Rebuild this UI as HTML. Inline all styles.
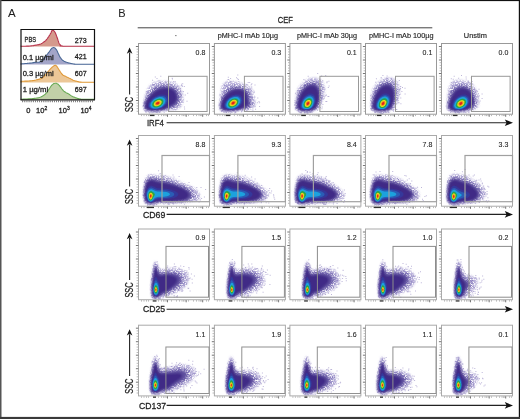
<!DOCTYPE html><html><head><meta charset="utf-8"><style>html,body{margin:0;padding:0;background:#fff;width:520px;height:419px;overflow:hidden}svg{display:block;will-change:transform}text{stroke:#1e1e1e;stroke-width:0.28px;fill:#1e1e1e}</style></head><body>
<svg width="520" height="419" viewBox="0 0 520 419" font-family="Liberation Sans, sans-serif">
<defs><filter id="soft" x="-10%" y="-10%" width="120%" height="120%"><feGaussianBlur stdDeviation="0.45"/></filter><filter id="grain" x="-10%" y="-10%" width="120%" height="120%"><feGaussianBlur in="SourceGraphic" stdDeviation="0.9" result="b"/><feTurbulence type="fractalNoise" baseFrequency="0.85" numOctaves="2" seed="7" result="n"/><feColorMatrix in="n" type="matrix" values="0 0 0 0 0  0 0 0 0 0  0 0 0 0 0  3.2 0 0 0 -0.9" result="m"/><feComposite in="b" in2="m" operator="in"/></filter><filter id="soft2" x="-10%" y="-10%" width="120%" height="120%"><feGaussianBlur stdDeviation="0.8"/></filter><marker id="ah" viewBox="0 0 10 10" refX="9" refY="5" markerWidth="10" markerHeight="10" markerUnits="userSpaceOnUse" orient="auto"><path d="M0 0L10 5L0 10L2.5 5Z" fill="#111"/></marker></defs>
<rect width="520" height="419" fill="#fff"/>
<g transform="translate(138.5 43.5)">
<g filter="url(#grain)">
<path d="M17.7 68 12.3 68 8 67.4 6 66.7 5.4 66 5.1 65.3 4.9 63 5.1 59.7 5.6 56.3 6.3 52.7 7.3 49.4 8.3 46.9 9.7 44.3 11 42.4 13.1 40.3 15.7 38.8 18.3 37.9 21.3 37.5 27 37.8 33 38.6 36.7 39.8 39.3 41.4 41.2 43.3 42.6 45.7 43.9 49 44.5 52.3 44.7 55.3 44.3 58.3 43.4 61 42 63.3 41 64.3 40 65 37.3 65.8 29.3 66.5 22.7 67.5Z" fill="#b3abd8" fill-rule="evenodd"/>
<path d="M20.3 67.4 15.7 67.6 11.3 67.4 7.7 66.7 6.7 66.3 6 65.7 5.6 64.3 5.5 62.7 5.7 60 6.2 57.7 7.3 54.4 9.7 50.6 12.3 46.9 14.7 44.5 17 42.9 20 41.7 24.3 41 29.7 41 33.7 41.8 35.3 42.5 36.7 43.2 38.4 44.7 39.9 46.7 41 49 41.7 51.7 42 54.3 41.8 56.7 41.2 59 40.2 61 38.3 63 37.3 63.7 35.9 64.3 24 66.8Z" fill="#7f73b8" fill-rule="evenodd"/>
</g><g filter="url(#soft2)">
<path d="M16.3 67.3 12 67.2 8.3 66.5 7.3 66.1 6.7 65.7 6.1 64.3 6 62.7 6.2 60.3 6.6 58.3 7.3 56.7 9.1 53.7 13 49.1 15.7 46.6 18 45 20.7 43.8 24 43 28 42.8 31.3 43.1 34.3 44.1 36.7 45.8 38 47.3 39.1 49.3 39.8 51.3 40.1 53.7 40.1 55.7 39.6 57.7 38.9 59.3 37.7 61 36.3 62.1 34.7 63 26.3 65.9 21.7 66.9Z" fill="#5e4f9f" fill-rule="evenodd"/>
<path d="M18.3 67 14.7 67.1 11 66.8 8.1 66 7.3 65.5 6.9 65 6.6 64 6.5 62.7 7 59.4 8 57 10 54.2 13 51 16 48.5 19 46.6 22 45.4 25.7 44.7 29.3 44.7 31 44.9 32.7 45.5 35 46.9 36.1 48 37.1 49.7 37.8 51.3 38.1 53 38.2 54.7 37.9 56.3 37.3 58 36.4 59.3 35.4 60.3 34 61.3 27 65.2 25 65.9 22.7 66.5Z" fill="#402c86" fill-rule="evenodd"/>
</g><g filter="url(#soft)">
<path d="M17.7 66 15 66 12.7 65.7 11 65.1 10.2 64.3 9.6 63 9.6 61.3 10.3 59.3 11.5 57.3 13.3 55.3 15.3 53.8 17.7 52.4 20 51.5 22.3 51 24.7 51 26.7 51.4 28.3 52.2 29.1 53 29.7 54 30.1 56 29.5 58.3 28.1 60.7 25.9 63 23.7 64.6 21 65.5Z" fill="#35379a" fill-rule="evenodd"/>
<path d="M19 65.4 16.7 65.6 14.7 65.4 12.8 65 11.7 64.3 11 63.3 10.8 62 11 60.3 11.8 58.7 13 57 14.7 55.5 16.7 54.1 18.7 53.2 21 52.6 23 52.4 24.7 52.6 26.3 53.2 27.5 54.3 28.2 56 28.1 58 27.2 60 25.6 62 23.6 63.7 21.3 64.8Z" fill="#2b5db5" fill-rule="evenodd"/>
<path d="M19.3 64.7 17.3 65 15.7 64.9 14.3 64.7 13 64 12.3 63 12 61.7 12.2 60.3 12.8 59 13.7 57.7 15.1 56.3 16.7 55.2 18.3 54.4 20.3 53.8 22 53.6 23.7 53.8 25 54.3 26.2 55.3 26.7 56.7 26.7 58 26.1 59.7 25 61.3 23.3 62.9 21.5 64Z" fill="#1fa2dd" fill-rule="evenodd"/>
<path d="M19.3 63.7 17.7 64 16.3 63.9 15.3 63.6 14.4 63 13.9 62.3 13.7 61.3 13.8 60.3 14.2 59.3 14.8 58.3 15.8 57.3 17 56.5 18.3 55.8 21 55.1 22.3 55.2 23.3 55.6 24.3 56.3 24.8 57.3 24.9 58.3 24.5 59.7 23.6 61 22.3 62.2 21 63Z" fill="#2aa546" fill-rule="evenodd"/>
<path d="M18.7 62.7 17 62.7 15.7 62 15.3 61.3 15.3 60.7 15.7 59.3 17 57.9 19 56.8 21 56.5 22.3 57 23 57.7 23.2 58.3 23 59.3 22.7 60.1 22 61 21 61.8 19.9 62.3Z" fill="#ebe01d" fill-rule="evenodd"/>
<path d="M19.3 61.7 18 61.9 17 61.6 16.7 61.3 16.4 60.7 16.6 59.7 17.3 58.7 18.7 57.8 20 57.5 21.2 57.7 21.9 58.3 22 59 21.8 59.7 20.7 61Z" fill="#f2921f" fill-rule="evenodd"/>
<path d="M19 61 18.2 61 17.6 60.7 17.5 60 17.8 59.3 18.6 58.7 19.3 58.4 20 58.4 20.7 58.7 20.9 59.3 20.6 60 19.9 60.7Z" fill="#e2231f" fill-rule="evenodd"/>
</g>
</g>
<path transform="translate(138.5 43.5)" d="M37 65.8h1v1h-1zM42.3 41.5h1v1h-1zM25.2 68.3h1v1h-1zM43.7 39.7h1v1h-1zM15.6 68h1v1h-1zM5 58.1h1v1h-1zM48.7 49.3h1v1h-1zM7.6 47.8h1v1h-1zM17 68.6h1v1h-1zM18.3 67.9h1v1h-1zM42.7 50.5h1v1h-1zM5.9 56.1h1v1h-1zM37.7 43.6h1v1h-1zM36 65.7h1v1h-1zM14.1 68.1h1v1h-1zM20.3 68.4h1v1h-1zM48 57.2h1v1h-1zM41.4 47.2h1v1h-1zM45.3 42.6h1v1h-1zM15.9 44h1v1h-1zM44.3 47.4h1v1h-1zM45.4 63.1h1v1h-1zM46.3 51.1h1v1h-1zM14.6 68.2h1v1h-1zM20.1 67.8h1v1h-1zM21.8 32.3h1v1h-1zM28.4 66.1h1v1h-1zM4.9 58.8h1v1h-1zM42.6 51.7h1v1h-1zM16.6 67.8h1v1h-1zM4.2 62.3h1v1h-1zM17 67.8h1v1h-1zM22.7 41.6h1v1h-1zM13.6 36.2h1v1h-1zM21.7 41.5h1v1h-1zM15.1 40.4h1v1h-1zM41.5 46.2h1v1h-1zM9.5 67.8h1v1h-1zM43.3 42.6h1v1h-1zM18.7 41.6h1v1h-1zM30.2 66.9h1v1h-1zM25.1 66.8h1v1h-1zM13.2 68.7h1v1h-1zM34.8 37.5h1v1h-1zM17.8 68.6h1v1h-1zM39 63.3h1v1h-1zM13.9 40.6h1v1h-1zM16.3 33.1h1v1h-1zM43.2 41.7h1v1h-1zM26.8 38h1v1h-1zM33 67.2h1v1h-1zM15 67.8h1v1h-1zM42.4 54.1h1v1h-1zM7.2 68.2h1v1h-1zM19.9 36.6h1v1h-1zM10.5 68.9h1v1h-1zM21.1 38.3h1v1h-1zM36.3 37.7h1v1h-1zM20.9 68.2h1v1h-1zM18 67.7h1v1h-1zM41.2 49.7h1v1h-1zM9.6 51.6h1v1h-1zM41.6 44.7h1v1h-1zM33.1 41.3h1v1h-1zM18.7 68.7h1v1h-1zM14.8 67.9h1v1h-1zM5.7 66.7h1v1h-1zM5.5 60h1v1h-1zM4.5 61.6h1v1h-1zM44.1 58.3h1v1h-1zM7.1 51.6h1v1h-1zM21 38.7h1v1h-1zM18 34.6h1v1h-1zM6.4 67.8h1v1h-1zM44.3 56.1h1v1h-1zM27.6 41.6h1v1h-1zM33.2 34.3h1v1h-1zM39 43h1v1h-1zM17.3 67.9h1v1h-1zM41.7 51.3h1v1h-1zM28.9 40.9h1v1h-1zM45.6 65h1v1h-1zM17.4 67.7h1v1h-1zM8.6 48h1v1h-1zM18 67.7h1v1h-1zM9.3 51.5h1v1h-1zM27.3 67h1v1h-1zM11.1 68.3h1v1h-1zM12.4 68h1v1h-1zM8.1 49.6h1v1h-1zM41.8 62.7h1v1h-1zM29.1 66.4h1v1h-1zM33.5 34.9h1v1h-1zM44.1 58.3h1v1h-1zM7.1 67.7h1v1h-1zM34.6 65.7h1v1h-1zM42.6 40.3h1v1h-1z" fill="#5a48a0" fill-opacity="0.4"/>
<g transform="translate(214.4 43.5)">
<g filter="url(#grain)">
<path d="M18 68 13 68.1 10 67.8 7.3 67.3 6.3 66.9 5.6 66.3 5.1 65.3 5 64.3 4.9 61.7 5.3 57.7 6.8 46 7.5 42.7 8.6 40.7 10 39.3 12 38.2 14.7 37.5 16.7 37.4 19 37.7 29.3 40.2 33 41.5 35.5 43 37.1 44.7 38.1 46.7 38.6 48.3 39.3 53 40.9 57.3 41.3 59 41.1 61 40.3 63 39.1 64.3 37.3 65.4 33.7 66.2Z" fill="#b3abd8" fill-rule="evenodd"/>
<path d="M20.3 67.3 16.3 67.6 12 67.5 8 66.8 7 66.5 6.3 66 5.9 65.3 5.6 64 5.7 60 6.5 55.7 7.8 52 9.5 48.7 11.3 46 13.3 44.2 15.3 43.1 18.3 42.4 22.7 42.4 27.3 42.9 30.7 43.9 32.1 44.7 33.4 45.7 34.5 47 35.2 48.3 35.7 50 36.5 54.3 38.1 58.7 38.2 60.3 37.9 61.7 37.3 62.7 36.4 63.7 35.3 64.4 33.9 65 31.7 65.5Z" fill="#7f73b8" fill-rule="evenodd"/>
</g><g filter="url(#soft2)">
<path d="M17 67.3 13 67.3 9.7 66.9 7.7 66.3 7 65.9 6.5 65.3 6.2 64.3 6.1 63 6.5 59 7.3 56 9 52.9 11.1 50 13.3 47.7 15.7 46.1 18 45.1 21.3 44.5 25 44.5 28.3 45.1 30.7 46.2 31.7 47 32.6 48 33.4 49.3 33.9 50.7 34.7 55 35.9 59.3 35.9 60.7 35.3 62 34.7 62.8 33.7 63.6 31.2 64.7 22.3 66.8Z" fill="#5e4f9f" fill-rule="evenodd"/>
<path d="M18.3 67 14.7 67.1 11.3 66.8 8.7 66.2 7.2 65.3 6.7 64 6.7 61.3 7.2 58.7 8.2 56.3 10 53.6 12.3 50.9 14.7 49 17.3 47.4 20.3 46.5 23.3 46.1 26.3 46.4 29 47.3 30.3 48.3 31.3 49.3 32 50.7 32.5 52 33.5 58.7 33.5 60 33 61.3 32.2 62.3 31 63.2 27.4 65 23.3 66.3Z" fill="#402c86" fill-rule="evenodd"/>
</g><g filter="url(#soft)">
<path d="M17.7 66 15.3 66.1 13 65.8 11.5 65.3 10.3 64.5 9.8 63.3 9.7 61.7 10.1 59.7 10.9 58 12.3 56 14 54.3 16 52.9 18 51.8 20 51.2 22 50.9 24 51.1 25.7 51.7 26.6 52.3 27.3 53.2 27.9 54.3 28.2 55.3 28.3 56.7 28.2 58 27.3 60.3 25.6 62.7 23.3 64.4 20.7 65.5Z" fill="#35379a" fill-rule="evenodd"/>
<path d="M19 65.3 17 65.6 15 65.5 13.3 65.2 12 64.6 11.2 63.7 10.9 62.3 10.9 61 11.4 59.3 12.3 57.7 13.6 56 15.3 54.5 17 53.5 19 52.7 21 52.2 22.7 52.3 24.3 52.7 25.7 53.7 26.7 55.3 27 57.3 26.5 59.3 25.4 61.3 23.4 63.3 21.3 64.6Z" fill="#2b5db5" fill-rule="evenodd"/>
<path d="M16.7 65 15.3 64.9 14 64.6 13 64 12.3 63.1 12 62 12.1 60.7 12.5 59.3 13.2 58 14.3 56.7 15.4 55.7 16.7 54.8 18.3 53.9 20 53.5 21.3 53.4 22.7 53.5 24 54.1 25.2 55.3 25.7 57 25.5 58.7 24.6 60.7 23.3 62.3 21.3 63.8 19.1 64.7Z" fill="#1fa2dd" fill-rule="evenodd"/>
<path d="M18.7 63.7 17.3 63.9 16 63.9 15 63.5 14.3 63.1 13.8 62.3 13.6 61.3 13.7 60.3 14 59.3 15.4 57.3 16.3 56.5 17.7 55.6 20 54.9 21.3 54.9 22.3 55.2 23.3 55.9 23.9 57 24 58.3 23.6 59.7 22.8 61 21.7 62.2 20.3 63.1Z" fill="#2aa546" fill-rule="evenodd"/>
<path d="M18 62.7 16.3 62.5 15.3 61.7 15.1 60.3 15.6 59 16.7 57.7 18.3 56.6 20 56.3 21 56.4 21.6 56.7 22.2 57.3 22.5 58 22.4 59 22 60 21.3 61 20.3 61.8 19.3 62.3Z" fill="#ebe01d" fill-rule="evenodd"/>
<path d="M18.7 61.7 17.7 61.8 16.7 61.5 16.2 60.7 16.3 59.7 16.9 58.7 18 57.7 19.3 57.3 20.4 57.3 21.2 58 21.4 58.7 21.3 59.3 20.3 60.8Z" fill="#f2921f" fill-rule="evenodd"/>
<path d="M19 60.8 18.3 60.9 17.7 60.8 17.2 60.3 17.2 59.7 17.6 59 18.3 58.4 19 58.2 19.7 58.2 20.3 58.7 20.3 59.3 20 60Z" fill="#e2231f" fill-rule="evenodd"/>
</g>
</g>
<path transform="translate(214.4 43.5)" d="M5 63.4h1v1h-1zM7.4 53h1v1h-1zM32 40.4h1v1h-1zM27.8 42.5h1v1h-1zM18.3 43.4h1v1h-1zM13.1 35.5h1v1h-1zM39.2 47.2h1v1h-1zM10.2 48.7h1v1h-1zM34 45.1h1v1h-1zM24 37.6h1v1h-1zM20.8 68.6h1v1h-1zM20 40.6h1v1h-1zM15.4 38.9h1v1h-1zM6.3 67.3h1v1h-1zM37.9 60.7h1v1h-1zM7.4 66.8h1v1h-1zM10.1 48.7h1v1h-1zM35.9 50h1v1h-1zM13.4 33.2h1v1h-1zM38.3 58.8h1v1h-1zM5 50.9h1v1h-1zM36.3 55h1v1h-1zM29 42.3h1v1h-1zM23.9 42.5h1v1h-1zM27.4 67.1h1v1h-1zM5.9 62.1h1v1h-1zM34.2 44.9h1v1h-1zM9.9 68.2h1v1h-1zM19.4 41.9h1v1h-1zM13.6 67.9h1v1h-1zM10.1 48.7h1v1h-1zM35.6 45.6h1v1h-1zM21.6 33.7h1v1h-1zM42.9 53.9h1v1h-1zM10.4 67.6h1v1h-1zM23 67.2h1v1h-1zM13.3 44.8h1v1h-1zM6.9 67.4h1v1h-1zM11.9 67.8h1v1h-1zM9.1 45.4h1v1h-1zM39.2 58.9h1v1h-1zM23.5 35.5h1v1h-1zM22.7 34.7h1v1h-1zM20.5 67.9h1v1h-1zM38 66.3h1v1h-1zM36.4 40.8h1v1h-1zM16.4 42.3h1v1h-1zM9.4 45.9h1v1h-1zM40.1 40.9h1v1h-1zM9.8 41.4h1v1h-1zM20.7 67.7h1v1h-1zM39.9 53h1v1h-1zM40.7 65.2h1v1h-1zM16.1 37.5h1v1h-1zM36.8 42.9h1v1h-1zM15.7 34.4h1v1h-1zM9.7 67.8h1v1h-1zM36.5 46.1h1v1h-1zM26.6 67.8h1v1h-1zM11.3 39h1v1h-1zM36 53.8h1v1h-1zM12 42.7h1v1h-1zM25.3 41.9h1v1h-1zM4 60.9h1v1h-1zM11.3 68.5h1v1h-1zM29.5 66.1h1v1h-1zM15 67.8h1v1h-1zM11.7 68.5h1v1h-1zM20.7 42.9h1v1h-1zM39.9 62.7h1v1h-1zM42.8 58.7h1v1h-1zM16.9 68.2h1v1h-1zM33.2 65.5h1v1h-1zM6.9 56.3h1v1h-1zM33.3 38.6h1v1h-1zM11.5 68.5h1v1h-1zM44.1 57.6h1v1h-1zM6.8 54.2h1v1h-1zM22.9 30.9h1v1h-1zM37.6 53.8h1v1h-1zM30.5 42h1v1h-1zM8.6 68.1h1v1h-1zM5.7 64.9h1v1h-1zM40.1 62.5h1v1h-1zM44.7 58.8h1v1h-1zM15.5 69.2h1v1h-1zM5.3 64.4h1v1h-1zM44.7 62.6h1v1h-1zM34.8 38.5h1v1h-1zM32.1 66.4h1v1h-1zM19.9 68.9h1v1h-1zM39.2 48.4h1v1h-1zM37 39.8h1v1h-1zM13.8 35.4h1v1h-1z" fill="#5a48a0" fill-opacity="0.4"/>
<g transform="translate(289.9 43.5)">
<g filter="url(#grain)">
<path d="M17.3 68.3 13.3 68.3 10 67.8 7 66.9 6.2 66.3 5.8 65.7 5.4 63.3 5.6 57.7 6.1 52 6.9 48 8.1 45 10.1 42 12.7 39.2 15.7 36.9 18.7 35.3 21.7 34.4 24.7 34.2 27.3 34.6 29.7 35.7 31.7 37.3 33.2 39.3 34.2 41.7 34.7 44.3 34.8 47 34.4 50 33.5 54 32.2 58 30.8 61.3 29.5 63.7 28.1 65.3 26.3 66.4 24 67.2 21 67.9Z" fill="#b3abd8" fill-rule="evenodd"/>
<path d="M19.3 67.7 16 67.9 12.7 67.8 9.3 67.1 8 66.6 7 65.9 6.3 64.7 6.2 62.7 6.4 58.7 7 54.7 7.9 51 9.3 47.7 11.2 44.7 13.7 41.9 16.3 39.8 19.3 38.2 22.3 37.6 25 37.7 27 38.4 28.7 39.5 30 41 31.1 43 31.6 45 31.9 47.7 31.8 50.7 31.3 54.3 30.5 57.7 29.6 60.3 28.5 62.7 27.2 64.7 26.1 65.7 24.3 66.5 22 67.2Z" fill="#7f73b8" fill-rule="evenodd"/>
</g><g filter="url(#soft2)">
<path d="M19.7 67.4 16.3 67.7 13 67.5 10 66.9 8 66 7.3 65.3 6.9 64 6.8 61.7 7.1 59 7.9 55 9.4 51 11.1 47.7 13.3 44.7 15.7 42.4 18.3 40.8 21 39.9 23.7 39.8 25.3 40.3 27 41.2 28.3 42.6 29.3 44.3 29.9 46.3 30.3 49 30.3 52.3 30 55.3 29.4 58 28.5 60.7 27.4 63 26.3 64.7 25.3 65.5 24 66.3 22 66.9Z" fill="#5e4f9f" fill-rule="evenodd"/>
<path d="M17.7 67.3 15 67.4 12.3 67.1 10 66.6 8.4 65.7 7.7 64.7 7.5 63.3 7.6 61 7.9 58.7 8.9 55.3 10.4 51.7 12.3 48.4 14.3 45.9 16.3 44.1 18.7 42.7 21 42 23.3 42.1 25 42.7 26.3 43.8 27.3 45.1 28.2 47 28.9 49.7 29.1 52.3 29.1 55 28.6 58 27.9 60.3 27 62.3 26.1 64 25 65.2 24 65.8 22.3 66.5 19.7 67.1Z" fill="#402c86" fill-rule="evenodd"/>
</g><g filter="url(#soft)">
<path d="M17.7 66.4 14 66.3 12.3 65.8 11.3 65.3 10.6 64.3 10.3 63.3 10.3 61.7 10.6 60 11.2 58 12.2 56 13.6 54 15 52.5 16.7 51.2 18.3 50.3 20 50 21.7 50.1 22.7 50.4 23.7 51.1 24.5 52 25.3 53.3 25.8 56 25.8 57.7 25.5 59.3 24.3 62.3 23.5 63.7 22.5 64.7 20.7 65.7Z" fill="#35379a" fill-rule="evenodd"/>
<path d="M16.3 66 14.7 65.9 13.3 65.6 12.3 65 11.7 64.3 11.4 63.3 11.3 62 11.5 60.3 12 58.7 12.8 57 13.9 55.3 15 54.1 16.3 53 17.7 52.2 19 51.8 20.3 51.6 21.7 51.9 22.7 52.4 23.4 53 24.1 54 24.5 55 24.8 56.3 24.8 57.7 24.1 60.7 22.9 63 21.3 64.7 19.1 65.7Z" fill="#2b5db5" fill-rule="evenodd"/>
<path d="M18 65.4 15.3 65.4 14 65.1 13.3 64.7 12.7 64 12.3 63 12.3 61.7 12.4 60.3 12.8 59 13.6 57.3 14.6 56 15.7 54.9 17 53.9 18.3 53.3 19.7 53 20.7 53.1 21.7 53.4 22.3 53.9 23.3 55.2 23.8 57 23.6 59.3 22.8 61.7 21.4 63.7 20 64.7Z" fill="#1fa2dd" fill-rule="evenodd"/>
<path d="M18.3 64.4 16.3 64.6 15.3 64.4 14.6 64 14 63.3 13.7 62.7 13.7 60.7 14.5 58.3 16 56.3 18 55.1 19 54.8 20 54.8 21.2 55.3 22 56.3 22.4 57.7 22.4 59.3 21.8 61 21 62.4 19.7 63.7Z" fill="#2aa546" fill-rule="evenodd"/>
<path d="M17.7 63.4 16.3 63.3 15.3 62.7 14.9 61.3 15 60 15.8 58.3 17 57.1 18.3 56.4 19.7 56.4 20.3 56.8 21 57.7 21.2 58.7 21 60 20.4 61.3 19.7 62.2 18.7 63Z" fill="#ebe01d" fill-rule="evenodd"/>
<path d="M18 62.4 17 62.5 16.3 62.1 15.9 61.3 15.8 60.3 16.3 59 17 58.2 18 57.6 19 57.4 19.6 57.7 20 58.1 20.2 59 20.2 59.7 19.4 61.3 18.7 62Z" fill="#f2921f" fill-rule="evenodd"/>
<path d="M18 61.4 17.3 61.5 17 61.3 16.7 60.7 16.7 60 17.1 59.3 17.7 58.7 18.7 58.5 19.3 59 19.3 60 18.7 61Z" fill="#e2231f" fill-rule="evenodd"/>
</g>
</g>
<path transform="translate(289.9 43.5)" d="M17.1 69.1h1v1h-1zM29.6 36.3h1v1h-1zM10.3 45.9h1v1h-1zM7.4 48.7h1v1h-1zM31.5 64.8h1v1h-1zM31.3 54.2h1v1h-1zM36.7 37.7h1v1h-1zM31.4 47.3h1v1h-1zM15.3 41.5h1v1h-1zM14.3 41.4h1v1h-1zM38.7 41.9h1v1h-1zM15.9 68.4h1v1h-1zM31.8 63h1v1h-1zM16.6 37h1v1h-1zM4.6 60.5h1v1h-1zM4.5 61.2h1v1h-1zM31.3 32h1v1h-1zM32.5 43.7h1v1h-1zM31.1 55.1h1v1h-1zM31.7 52.2h1v1h-1zM31.1 59.1h1v1h-1zM6.7 59.1h1v1h-1zM5.1 49.2h1v1h-1zM38.4 52.6h1v1h-1zM16 68.7h1v1h-1zM21.5 68.5h1v1h-1zM34.5 52.3h1v1h-1zM38.5 37.2h1v1h-1zM32.3 36.8h1v1h-1zM7 55.9h1v1h-1zM4.6 56.7h1v1h-1zM36.5 38.7h1v1h-1zM11 68.5h1v1h-1zM34.6 45.2h1v1h-1zM15.9 40.3h1v1h-1zM28.8 39.1h1v1h-1zM16.6 68.3h1v1h-1zM20.7 35.3h1v1h-1zM37.6 52.5h1v1h-1zM27.3 29.5h1v1h-1zM15 40.6h1v1h-1zM7.2 54.2h1v1h-1zM5 64.9h1v1h-1zM8.3 67.7h1v1h-1zM16.3 68.5h1v1h-1zM5.8 63.8h1v1h-1zM30.8 56.8h1v1h-1zM17.8 32.2h1v1h-1zM29.8 40.3h1v1h-1zM10.6 46.5h1v1h-1zM13.8 41.2h1v1h-1zM6.5 58.7h1v1h-1zM35.5 51.5h1v1h-1zM35.9 51h1v1h-1zM27.7 63.7h1v1h-1zM19.9 68h1v1h-1zM5.6 59.3h1v1h-1zM25.3 38h1v1h-1zM15.7 40.2h1v1h-1zM9.1 68.1h1v1h-1zM31.4 42h1v1h-1zM30.4 39.9h1v1h-1zM36.4 57.6h1v1h-1zM32.7 55.3h1v1h-1zM10.2 68.5h1v1h-1zM33.6 43.5h1v1h-1zM20 68.3h1v1h-1zM6.5 56.4h1v1h-1zM4.5 58.6h1v1h-1zM28 38.4h1v1h-1zM18.4 68.7h1v1h-1zM9.6 68.2h1v1h-1zM17.4 69.5h1v1h-1zM15.3 41.3h1v1h-1zM16.5 69h1v1h-1zM10.9 69.1h1v1h-1zM5.1 63.6h1v1h-1zM13.5 35.4h1v1h-1zM11 68.2h1v1h-1zM27 66.3h1v1h-1zM7.5 66.1h1v1h-1zM17 68.7h1v1h-1zM11.9 43.8h1v1h-1zM19.3 37.9h1v1h-1zM16.7 39.4h1v1h-1zM33.8 54.1h1v1h-1zM8.1 46.1h1v1h-1zM18.7 68.5h1v1h-1zM7.7 50.7h1v1h-1zM10.2 68.5h1v1h-1zM35.3 31.6h1v1h-1zM7.1 46.6h1v1h-1zM21.5 67.4h1v1h-1zM10.3 69.1h1v1h-1zM32.5 60.5h1v1h-1zM5.8 59.1h1v1h-1zM6.4 64.3h1v1h-1zM29.9 63.6h1v1h-1zM20.1 68.4h1v1h-1zM14.6 68.7h1v1h-1zM32.2 54.1h1v1h-1zM7.7 53h1v1h-1zM32.7 52.6h1v1h-1zM17.1 37.2h1v1h-1zM35.5 57.6h1v1h-1zM14.3 68.2h1v1h-1zM13.9 69.1h1v1h-1zM29.8 35.3h1v1h-1zM33.8 54.3h1v1h-1zM30.6 32.5h1v1h-1zM37.9 43.6h1v1h-1zM17.5 69h1v1h-1z" fill="#5a48a0" fill-opacity="0.4"/>
<g transform="translate(365.5 43.5)">
<g filter="url(#grain)">
<path d="M17 68.3 12.7 68.3 9.3 67.8 6.7 66.8 6 66.3 5.6 65.7 5.4 64.7 5.3 63 5.5 57 6 51 6.8 47.3 7.8 44.7 9.7 41.8 12 39.3 15 36.9 18 35.3 21 34.4 24 34.2 26.7 34.6 29 35.6 31 37.2 32.6 39.3 33.6 41.7 34.1 44.3 34.2 47.3 33.8 50.7 32.8 54.7 31.5 58.7 30.2 61.7 28.9 64 27.8 65.3 26.3 66.2 23.7 67.2 20.7 67.9Z" fill="#b3abd8" fill-rule="evenodd"/>
<path d="M19 67.7 15.7 67.9 12.3 67.8 9 67.1 7.7 66.6 6.8 66 6.1 64.7 6 62.7 6.2 58.7 6.8 54.3 7.7 50.7 8.9 47.7 11 44.3 13.3 41.7 16 39.6 19 38.2 21.7 37.6 24.3 37.7 26.3 38.3 28 39.4 29.5 41 30.5 43 31.2 45.3 31.4 48 31.3 51 30.8 54.3 30.2 57.3 29.2 60.3 27.9 63 26.8 64.7 25.7 65.7 24 66.5 21.7 67.2Z" fill="#7f73b8" fill-rule="evenodd"/>
</g><g filter="url(#soft2)">
<path d="M19.3 67.4 16 67.7 12.7 67.5 9.7 66.9 7.7 66 7 65.3 6.6 64 6.6 61.7 6.9 58.7 7.8 54.3 9.1 50.7 10.8 47.3 12.8 44.7 15.3 42.3 18 40.7 20.7 39.8 23.3 39.8 25 40.3 26.7 41.4 28 42.9 28.9 44.7 29.5 46.7 29.8 49.3 29.9 52.3 29.6 55.3 28.9 58.3 28.1 60.7 27.1 63 25.9 64.7 25 65.5 23.7 66.2 21.7 66.9Z" fill="#5e4f9f" fill-rule="evenodd"/>
<path d="M17.3 67.3 14.7 67.4 12 67.2 9.7 66.6 8 65.7 7.4 64.7 7.2 63 7.3 60.7 7.7 58 8.8 54.7 10.2 51.3 12 48.3 14 45.8 16.3 43.7 18.7 42.5 21 42 23 42.1 24.7 42.8 26 43.9 27 45.3 27.9 47.3 28.5 50 28.7 52.7 28.6 55.3 28.2 58 26.8 62 25.9 63.7 24.8 65 23.7 65.8 22 66.5 19.3 67.1Z" fill="#402c86" fill-rule="evenodd"/>
</g><g filter="url(#soft)">
<path d="M17.3 66.3 13.7 66.3 12 65.9 11 65.3 10.3 64.6 9.9 63.3 9.9 61.7 10.2 60 10.8 58 11.8 56 13.2 54 14.7 52.4 16.3 51.1 18 50.3 19.7 49.9 21.3 50.1 22.3 50.4 23.3 51.1 24.1 52 24.9 53.3 25.3 54.7 25.5 56.3 25.1 59.3 23.9 62.3 23.1 63.7 22.1 64.7 21.2 65.3 20 65.8Z" fill="#35379a" fill-rule="evenodd"/>
<path d="M16 66 14.3 65.9 13 65.6 11.9 65 11.3 64.3 11 63.3 10.9 62 11.1 60.3 11.6 58.7 12.4 57 13.5 55.3 14.7 54 16 52.9 17.3 52.2 18.7 51.7 20 51.6 21.3 51.9 22.3 52.4 23 53 23.7 54 24.2 55.3 24.4 58 23.8 60.7 22.5 63 21 64.7 18.7 65.7Z" fill="#2b5db5" fill-rule="evenodd"/>
<path d="M17.7 65.4 15 65.5 13.7 65.1 12.9 64.7 12.3 64 12 63 11.9 61.7 12 60.3 12.6 58.7 13.2 57.3 14.2 56 15.3 54.8 16.7 53.8 18 53.3 19.3 53 20.3 53.1 21.3 53.5 22 53.9 23 55.3 23.4 57.3 23.2 59.3 22.4 61.7 21 63.6 19.7 64.7Z" fill="#1fa2dd" fill-rule="evenodd"/>
<path d="M17.7 64.4 15.7 64.6 14.8 64.3 14 63.8 13.6 63.3 13.3 62.3 13.3 60.3 14.3 58 15.7 56.3 17.7 55 18.7 54.8 19.7 54.8 20.8 55.3 21.6 56.3 22 57.7 22 59.3 21.4 61 20.4 62.7 19 63.9Z" fill="#2aa546" fill-rule="evenodd"/>
<path d="M17.3 63.4 16 63.4 15 62.7 14.5 61.7 14.6 60 15.4 58.3 16.7 57.1 18 56.4 19.3 56.5 20 56.9 20.6 57.7 20.8 58.7 20.6 60 20 61.3 19.3 62.2 18.3 63Z" fill="#ebe01d" fill-rule="evenodd"/>
<path d="M17.7 62.3 16.7 62.5 16 62.2 15.5 61.3 15.4 60.3 16 59 16.7 58.2 17.7 57.5 18.7 57.5 19.3 57.8 19.7 58.3 19.8 59.7 19 61.3Z" fill="#f2921f" fill-rule="evenodd"/>
<path d="M17.7 61.4 17 61.5 16.6 61.3 16.3 60.7 16.3 60 16.7 59.3 17.3 58.7 18.3 58.5 18.9 59 18.9 60 18.3 61Z" fill="#e2231f" fill-rule="evenodd"/>
</g>
</g>
<path transform="translate(365.5 43.5)" d="M34 50.2h1v1h-1zM25.6 34.8h1v1h-1zM32.2 56.5h1v1h-1zM5.6 65h1v1h-1zM14.8 69.3h1v1h-1zM13.5 68.5h1v1h-1zM9.7 68.4h1v1h-1zM12.2 68.3h1v1h-1zM16.8 38.2h1v1h-1zM28.4 39.7h1v1h-1zM8.8 67.2h1v1h-1zM14.3 69.2h1v1h-1zM36.5 43.6h1v1h-1zM19.8 67.7h1v1h-1zM10.1 67.6h1v1h-1zM15.4 69.6h1v1h-1zM16.9 31.5h1v1h-1zM15.1 69.2h1v1h-1zM21.2 34.5h1v1h-1zM28.1 63.6h1v1h-1zM5.4 66.1h1v1h-1zM22.4 67.6h1v1h-1zM4.7 51.7h1v1h-1zM5.7 65.2h1v1h-1zM33.8 45.4h1v1h-1zM19.2 68.3h1v1h-1zM20.6 36.2h1v1h-1zM9.7 38.2h1v1h-1zM27.6 67.2h1v1h-1zM10.8 67.8h1v1h-1zM19.2 68.4h1v1h-1zM34.4 44.6h1v1h-1zM15.1 68.2h1v1h-1zM6.7 52.1h1v1h-1zM9.1 45.2h1v1h-1zM22.6 68.6h1v1h-1zM23 68.5h1v1h-1zM13.3 68.6h1v1h-1zM31.6 51.9h1v1h-1zM15.2 34h1v1h-1zM21.1 31.9h1v1h-1zM39 44.2h1v1h-1zM32.4 46.8h1v1h-1zM25.9 65.7h1v1h-1zM31.2 44.9h1v1h-1zM34.9 59.8h1v1h-1zM22.1 67.7h1v1h-1zM10.4 34.8h1v1h-1zM34.7 42.5h1v1h-1zM15.3 68.4h1v1h-1zM31.1 48.5h1v1h-1zM9.8 46.2h1v1h-1zM31.7 54.1h1v1h-1zM14.3 69.1h1v1h-1zM29 62.2h1v1h-1zM33.3 36.5h1v1h-1zM30.6 44.4h1v1h-1zM16.2 39.9h1v1h-1zM33.1 50.7h1v1h-1zM25.4 38h1v1h-1zM14.9 68.4h1v1h-1zM33.8 45.9h1v1h-1zM8.1 45.4h1v1h-1zM28.6 38.8h1v1h-1zM8.8 68.6h1v1h-1zM19 68.6h1v1h-1zM6.1 66.3h1v1h-1zM31.3 55.9h1v1h-1zM29.8 65.5h1v1h-1zM33 58.7h1v1h-1zM17 38h1v1h-1zM15.3 69.6h1v1h-1zM32.2 58.8h1v1h-1zM27.6 66.1h1v1h-1zM4.6 56.7h1v1h-1zM30.8 59.7h1v1h-1zM17.7 68.3h1v1h-1zM5.5 62.3h1v1h-1zM12 69h1v1h-1zM5.7 56.7h1v1h-1zM15.2 33.5h1v1h-1zM30.8 65.5h1v1h-1zM15.6 41h1v1h-1zM35.9 47.5h1v1h-1zM5.5 54.3h1v1h-1zM13.9 38.1h1v1h-1zM32.1 54.5h1v1h-1zM20.8 68.6h1v1h-1zM30.9 55.2h1v1h-1zM26.6 65.9h1v1h-1zM5.2 54.7h1v1h-1zM16.1 69.5h1v1h-1zM11.7 68h1v1h-1zM20.8 34h1v1h-1zM17.4 35.9h1v1h-1zM27.8 65.6h1v1h-1zM5.4 61.8h1v1h-1zM21.3 38.2h1v1h-1zM4.9 64.6h1v1h-1zM9.8 67.7h1v1h-1zM16.9 69.5h1v1h-1zM27.5 63.7h1v1h-1zM14 68.9h1v1h-1zM13.8 68h1v1h-1zM39.1 50h1v1h-1zM6.4 59.1h1v1h-1zM17.5 68.8h1v1h-1zM18.4 39.2h1v1h-1zM34.8 54.1h1v1h-1z" fill="#5a48a0" fill-opacity="0.4"/>
<g transform="translate(441.5 43.5)">
<g filter="url(#grain)">
<path d="M20.7 68 15 68.3 10 67.7 7.7 67.2 6.7 66.7 5.9 66 5.5 65 5.4 60.7 5.9 53.3 6.7 47.2 7.5 43.7 8.8 41 10.7 38.8 13 37.3 15.3 36.6 17.3 36.4 19.3 36.5 24.3 37.7 26.7 38.6 28.7 39.6 30.3 40.7 31.7 41.8 33.6 44.3 34.8 47 37.2 58.3 37.4 60.3 37 62.3 36.1 64 34.7 65.2 31.7 66.2Z" fill="#b3abd8" fill-rule="evenodd"/>
<path d="M19.3 67.7 16.3 67.8 13.7 67.7 10.3 67.3 8 66.6 7 66 6.5 65.3 6.2 64.3 6.1 62.3 6.5 57.3 7.4 52.7 8.7 48.9 10.3 45.7 12.2 43.3 14.3 41.7 17 40.7 20 40.4 23.3 40.9 26.3 41.9 28.7 43.3 30.7 45.3 32.1 47.7 33.1 50.3 34.6 57.3 34.9 60 34.6 61.7 33.9 63 33 64.1 31.6 65 29.3 65.8 25 66.8Z" fill="#7f73b8" fill-rule="evenodd"/>
</g><g filter="url(#soft2)">
<path d="M20 67.4 17 67.6 14 67.5 11.3 67.1 9 66.5 7.7 65.8 7 65 6.8 64 6.7 62.3 7.2 58.7 8.2 54.7 9.8 50.7 11.8 47.3 13.7 45.2 15.7 43.9 18.3 42.9 21 42.7 23.7 43.1 26 44 28.3 45.5 30 47.3 31.2 49.3 32.2 52 33 56 33.3 59.3 33 61 32.5 62.3 31.4 63.7 30.3 64.5 28.6 65.3 26 66.2 23.3 66.9Z" fill="#5e4f9f" fill-rule="evenodd"/>
<path d="M20.7 67 18 67.3 14.7 67.3 12 66.9 10 66.5 8.7 65.8 7.8 65 7.5 64 7.4 62.7 7.8 59.7 8.8 56.3 10.5 52.7 12.7 49.2 14.7 47.1 16.7 45.8 19 45 21.3 44.8 23.7 45.2 25.7 45.9 27.7 47.2 29.3 48.9 30.5 50.7 31.4 53 31.9 55.7 32 58.3 31.8 60 31.3 61.7 30.4 63 29 64.3 27.7 65.1 25.7 65.9 23.3 66.6Z" fill="#402c86" fill-rule="evenodd"/>
</g><g filter="url(#soft)">
<path d="M20.3 66 18 66.3 15.7 66.3 13.6 66 12 65.4 11.1 64.7 10.8 64 10.6 62.7 10.8 61 11.5 58.7 12.7 56.7 14.3 54.7 16 53.2 18 51.9 20 51.2 22 50.9 23.7 51.1 25 51.6 26 52.2 26.9 53 27.5 54 28.3 56.3 28.1 59 27.1 61.3 25.3 63.7 24.3 64.5 23 65.2Z" fill="#35379a" fill-rule="evenodd"/>
<path d="M19.3 65.7 17.3 65.9 15.3 65.8 13.7 65.4 12.7 64.8 12 64 11.7 63 11.7 61.7 12.1 60 13.1 58 14.3 56.3 15.7 54.9 17.3 53.7 19 52.9 20.7 52.4 22.3 52.4 24 52.7 25.7 53.8 26.7 55.3 27.1 57.3 26.7 59.7 25.5 62 23.7 63.9 21.7 65.1Z" fill="#2b5db5" fill-rule="evenodd"/>
<path d="M18 65.3 16.3 65.3 15 65.1 14 64.7 13.3 64 12.9 63 12.8 61.7 13.1 60.3 13.8 58.7 14.7 57.3 15.9 56 17.3 54.9 18.7 54.2 20 53.8 21.7 53.6 23 53.8 24 54.2 25.2 55.3 25.9 57 25.9 58.7 25.2 60.7 23.8 62.7 22.3 64 20.3 64.9Z" fill="#1fa2dd" fill-rule="evenodd"/>
<path d="M18.7 64.4 17.3 64.4 16.3 64.3 15.6 64 14.8 63.3 14.5 62.7 14.3 61.7 14.8 59.7 15.5 58.3 16.3 57.4 18.3 55.9 19.3 55.5 20.7 55.2 21.7 55.2 22.7 55.5 23.7 56.2 24.3 57.3 24.4 58.7 23.9 60.3 23.1 61.7 21.7 63 20.3 63.8Z" fill="#2aa546" fill-rule="evenodd"/>
<path d="M19.3 63.1 17.7 63.2 17 63.1 16.4 62.7 15.8 61.7 15.9 60.3 16.7 58.8 18 57.5 19.7 56.7 21.3 56.7 22 57 22.7 57.8 22.9 58.7 22.8 59.7 22.3 60.7 21.6 61.7 20.7 62.4Z" fill="#ebe01d" fill-rule="evenodd"/>
<path d="M18.7 62.4 17.7 62.2 17 61.7 16.8 60.7 17.1 59.7 17.9 58.7 19 57.9 20 57.6 21 57.8 21.4 58 21.8 58.7 21.9 59.3 21.5 60.3 20.3 61.7Z" fill="#f2921f" fill-rule="evenodd"/>
<path d="M19.3 61.4 18.7 61.4 18 61.1 17.8 60.7 17.9 60 18.3 59.3 19 58.8 19.7 58.6 20.3 58.7 20.8 59.3 20.8 60 20.3 60.7Z" fill="#e2231f" fill-rule="evenodd"/>
</g>
</g>
<path transform="translate(441.5 43.5)" d="M24.1 33.1h1v1h-1zM25.3 67.2h1v1h-1zM24.2 35.1h1v1h-1zM28.2 42.4h1v1h-1zM35.6 51.3h1v1h-1zM37 45.2h1v1h-1zM21.3 68.8h1v1h-1zM36.9 58.1h1v1h-1zM11.9 38.2h1v1h-1zM12.1 44.6h1v1h-1zM32.5 46.3h1v1h-1zM36.3 54.1h1v1h-1zM37.1 52h1v1h-1zM29.8 43.6h1v1h-1zM34.5 58.2h1v1h-1zM8.6 47.8h1v1h-1zM22.4 67.4h1v1h-1zM32.4 44.2h1v1h-1zM28.9 66.1h1v1h-1zM30.1 37.5h1v1h-1zM28.5 39.6h1v1h-1zM17.6 69h1v1h-1zM29.4 44.7h1v1h-1zM35.4 47.3h1v1h-1zM5.1 58.1h1v1h-1zM12.7 68.3h1v1h-1zM30.7 40.1h1v1h-1zM29.5 66.1h1v1h-1zM5.6 58.5h1v1h-1zM9.3 38.6h1v1h-1zM20.3 40.7h1v1h-1zM13.5 68.4h1v1h-1zM20.5 38.9h1v1h-1zM18.9 68.2h1v1h-1zM34.2 55.7h1v1h-1zM28.6 42.2h1v1h-1zM22.8 67.8h1v1h-1zM24.1 68.7h1v1h-1zM9.7 67.4h1v1h-1zM9.4 47.2h1v1h-1zM6.8 46.3h1v1h-1zM13.9 68.2h1v1h-1zM26.5 66.8h1v1h-1zM6.2 56.4h1v1h-1zM25.6 38.9h1v1h-1zM13.6 68.5h1v1h-1zM16.7 69h1v1h-1zM16.7 34.2h1v1h-1zM12.2 32.2h1v1h-1zM36 52.4h1v1h-1zM9.3 34.8h1v1h-1zM13.9 69h1v1h-1zM11.2 35.2h1v1h-1zM29.3 33.7h1v1h-1zM11.6 39.3h1v1h-1zM33.3 50.1h1v1h-1zM16.8 68.3h1v1h-1zM7.2 51.1h1v1h-1zM28.3 39h1v1h-1zM29.6 67.4h1v1h-1zM30.5 65.6h1v1h-1zM13.8 68.7h1v1h-1zM6 65.9h1v1h-1zM33.6 48.2h1v1h-1zM8.6 66.8h1v1h-1zM35 57.3h1v1h-1zM35.6 47.2h1v1h-1zM8.7 68.5h1v1h-1zM16.3 68.4h1v1h-1zM12.9 67.8h1v1h-1zM36.5 49.7h1v1h-1zM36 56.1h1v1h-1zM11.9 38.8h1v1h-1zM26.5 37.2h1v1h-1zM15.4 68.6h1v1h-1zM15.5 68.5h1v1h-1zM26.4 68.3h1v1h-1zM26.8 38.4h1v1h-1zM34 46.9h1v1h-1zM34.5 46.8h1v1h-1zM16.2 68.1h1v1h-1zM19.5 31.6h1v1h-1zM38.1 57.1h1v1h-1zM17.3 68.6h1v1h-1zM27.4 68h1v1h-1zM23 68.5h1v1h-1zM32.2 45.8h1v1h-1zM6.5 60.7h1v1h-1zM6.5 50.3h1v1h-1zM4.7 63.8h1v1h-1zM11 68h1v1h-1zM40.1 54.6h1v1h-1zM13.9 67.8h1v1h-1zM10.5 41.8h1v1h-1zM12.5 67.7h1v1h-1zM4.3 62.3h1v1h-1zM26 37.1h1v1h-1zM31.2 65.3h1v1h-1zM37.3 51.8h1v1h-1zM30.4 43.9h1v1h-1zM40.1 49.9h1v1h-1z" fill="#5a48a0" fill-opacity="0.4"/>
<g transform="translate(138.5 135.5)">
<g filter="url(#grain)">
<path d="M13.7 68.7 11.7 68.8 9.7 68.5 7.7 67.9 6.7 67.2 6 66.3 5.5 65 4.9 60.3 4.9 56.7 5.5 50.7 6.1 46.3 6.8 43.7 7.5 42 8.3 41 9.7 40.1 11.7 39.4 14.7 39.3 25 40.2 29.3 41.1 33.7 42.6 50 49.8 55 52.3 57.5 54 59.3 55.7 60.8 57.7 61.4 59.3 61.5 60.7 61.4 61.7 60.8 63 60 64 59.2 64.7 57.8 65.3 55 66.1 49.7 66.8 42.7 67.3 33.7 67.5 20.7 67.5Z" fill="#b3abd8" fill-rule="evenodd"/>
<path d="M12.7 68.3 11 68.3 9.3 67.9 8 67.5 6.9 66.7 6.3 65.7 5.9 64.3 5.3 59.7 5.4 56.3 5.8 52.7 6.5 48.3 7.1 46 7.7 44.7 8.7 43.4 10 42.5 11.7 41.9 14.3 41.8 19.3 42.8 26.7 43.7 31 44.9 36.3 46.8 45.7 50.5 51 53.2 53.1 54.7 54.6 56 55.8 57.7 56.3 59 56.4 60.3 56.2 61.3 55.7 62.3 54.9 63.3 52.9 64.7 49.7 65.7 45 66.3 38.3 66.8 20.3 67Z" fill="#7f73b8" fill-rule="evenodd"/>
</g><g filter="url(#soft2)">
<path d="M13 68 11.7 68.1 10 67.8 8 67.1 7.1 66.3 6.5 65.3 6.2 64 5.7 59.7 5.7 56.3 6.1 53 6.8 49.3 7.3 47.3 8 45.9 9 44.8 10.3 43.9 11.7 43.4 13 43.3 14.3 43.4 19.7 44.8 27.7 46 32.3 47.2 39 49.5 45 51.9 49 54 50.7 55.2 51.8 56.3 52.8 57.7 53.2 58.7 53.3 59.7 53.2 60.7 52.8 61.7 52 62.7 51 63.5 49.7 64.3 46.7 65.3 42.3 65.9 36.7 66.4 20.3 66.6Z" fill="#5e4f9f" fill-rule="evenodd"/>
<path d="M13.7 67.7 12 67.9 10.3 67.6 8.7 67 7.6 66.3 7.1 65.7 6.6 64.3 6 60.3 5.9 58 6.2 55 6.8 51 7.5 48.7 8.2 47.3 9 46.3 10.3 45.3 11.7 44.8 14 44.8 19.8 46.7 26 47.4 29.3 48.1 33.7 49.2 38.7 50.8 43.7 52.8 47 54.7 49.3 56.7 50 57.7 50.4 58.7 50.5 59.7 50.2 60.7 49 62.3 46.7 63.9 43.7 64.9 40 65.5 35 65.9 20.3 66.2Z" fill="#402c86" fill-rule="evenodd"/>
</g><g filter="url(#soft)">
<path d="M13.3 66.7 12 66.9 11 66.7 10 66.3 9.2 65.7 8.1 63.7 7.3 60 7.3 57 8.2 54 9.7 51.7 10.7 50.9 11.7 50.4 12.7 50.2 14 50.4 17.7 52.3 19.3 52.8 27.7 53.3 30.7 53.7 33.3 54.4 35.7 55.2 37.7 56.2 39.1 57.3 39.7 58.3 39.8 59 39.6 59.7 38.9 60.7 37.3 61.7 35.3 62.4 32.7 63.1 29.3 63.5 19.3 63.9 17.3 64.6 14.7 66.2Z" fill="#35379a" fill-rule="evenodd"/>
<path d="M12.7 66.4 11.7 66.4 10.7 66.1 10 65.7 9.4 65 8.5 62.7 7.9 59.7 8 57.3 8.9 55 10.1 53.3 11.7 52.3 12.7 52.1 13.7 52.3 17.3 53.9 19 54.4 26.3 54.7 30.7 55.4 34 56.7 35 57.3 35.7 58.3 35.7 59.3 35.3 60 34.3 60.7 32.7 61.5 30.3 62.1 27.7 62.4 20.3 62.6 18.7 62.8 16.7 63.6 14.3 65.7Z" fill="#2b5db5" fill-rule="evenodd"/>
<path d="M13 65.8 12 66 11.3 65.8 10.2 65 9.3 63 8.7 60.3 8.7 58.3 9.3 56.3 10.3 54.8 11.7 53.9 12.7 53.7 13.7 53.9 17 55.5 18.7 55.9 25 56.2 28 56.6 30.1 57.3 31.3 58.3 31.4 59 30.9 59.7 29.8 60.3 28.7 60.7 25.3 61.2 19.7 61.3 17.3 61.9 16 62.7 14.1 65Z" fill="#1fa2dd" fill-rule="evenodd"/>
<path d="M12.3 65.1 11.3 64.9 10.6 64 9.9 62 9.7 60 9.9 58.3 10.4 57 11.3 55.9 12.3 55.6 13.3 55.8 14.7 56.7 15.9 58 16.2 59 15.9 60 13.7 64 13 64.8Z" fill="#2aa546" fill-rule="evenodd"/>
<path d="M12.7 63.7 12 64 11.3 63.5 10.7 62.3 10.5 60.7 10.6 59.3 11 58.1 11.7 57.4 12.3 57.2 13 57.4 13.7 58 14 58.7 14.2 59.7 13.7 62 13.3 63Z" fill="#ebe01d" fill-rule="evenodd"/>
<path d="M12.3 63 11.7 62.9 11.3 62.4 11 60.7 11.3 58.9 11.7 58.5 12.3 58.2 13 58.6 13.3 59 13.5 60.3 13.1 62Z" fill="#f2921f" fill-rule="evenodd"/>
<path d="M12.3 62.1 12 62.1 11.7 61.8 11.4 60.7 11.7 59.6 12 59.2 12.3 59.2 12.7 59.4 12.9 60.3 12.8 61.3Z" fill="#e2231f" fill-rule="evenodd"/>
</g>
</g>
<path transform="translate(138.5 135.5)" d="M39.1 47.9h1v1h-1zM5.3 50.8h1v1h-1zM51.4 53.6h1v1h-1zM6.3 51.9h1v1h-1zM34.9 41h1v1h-1zM32.2 44.1h1v1h-1zM8.4 69.3h1v1h-1zM33.9 67.6h1v1h-1zM60.1 66.1h1v1h-1zM14.8 40.2h1v1h-1zM12 38.5h1v1h-1zM21.2 37.5h1v1h-1zM34.4 67.9h1v1h-1zM62.6 62.4h1v1h-1zM6.1 51.5h1v1h-1zM33.8 46.3h1v1h-1zM50 46.6h1v1h-1zM55.5 63.6h1v1h-1zM49 49.6h1v1h-1zM65.4 61h1v1h-1zM56.6 63.4h1v1h-1zM29.9 42.4h1v1h-1zM56.4 60h1v1h-1zM4.9 53.6h1v1h-1zM6.8 45.9h1v1h-1zM17.4 42.1h1v1h-1zM15.5 69h1v1h-1zM57.3 64.1h1v1h-1zM42.6 67.1h1v1h-1zM7.5 45.9h1v1h-1zM52.4 50.4h1v1h-1zM17.8 68.7h1v1h-1zM54.2 54.3h1v1h-1zM45.9 50.5h1v1h-1zM15.1 69.2h1v1h-1zM45.6 68.2h1v1h-1zM29.7 44.2h1v1h-1zM17 68h1v1h-1zM19.9 42.5h1v1h-1zM6.1 67.2h1v1h-1zM31.4 42.3h1v1h-1zM29 67.9h1v1h-1zM13.9 69.3h1v1h-1zM45.7 49.6h1v1h-1zM60.1 59.2h1v1h-1zM19.6 34.7h1v1h-1zM14.6 68.9h1v1h-1zM30.1 68.4h1v1h-1zM24.3 40.4h1v1h-1zM40.1 40.6h1v1h-1zM53.5 51.3h1v1h-1zM5.5 45.7h1v1h-1zM10.2 68.8h1v1h-1zM5.6 60.2h1v1h-1zM30.4 44.2h1v1h-1zM42.5 49.5h1v1h-1zM37.5 45.1h1v1h-1zM6.2 45.9h1v1h-1zM51 51.2h1v1h-1zM45.2 48.1h1v1h-1zM57.9 55.4h1v1h-1zM5.4 65.2h1v1h-1zM9.4 39.1h1v1h-1zM17.8 68.5h1v1h-1zM35.5 45.6h1v1h-1zM12.1 68.4h1v1h-1zM8.7 68.7h1v1h-1zM4.2 59.4h1v1h-1zM19.5 43.3h1v1h-1zM57.8 51.5h1v1h-1zM5.2 46.4h1v1h-1zM53.8 54h1v1h-1zM11.5 68.4h1v1h-1zM8.9 67.7h1v1h-1zM57.4 64.2h1v1h-1zM4.9 58.9h1v1h-1zM15.5 68.7h1v1h-1zM5 55h1v1h-1zM62 51.4h1v1h-1zM66.6 53.4h1v1h-1zM45.6 49.5h1v1h-1zM34 39.1h1v1h-1zM9 67.9h1v1h-1zM61.3 64.1h1v1h-1zM28.3 43h1v1h-1zM13.9 68.7h1v1h-1zM26.2 39.6h1v1h-1zM45.3 50.9h1v1h-1zM14.4 69.4h1v1h-1zM17.9 43.2h1v1h-1zM14.8 42.5h1v1h-1zM59.4 62.7h1v1h-1zM11.7 41.5h1v1h-1zM32.4 44.6h1v1h-1zM5 58.2h1v1h-1zM10.8 68.9h1v1h-1zM57.3 57.3h1v1h-1zM29.9 68.1h1v1h-1zM6.7 43.6h1v1h-1zM45.1 50.4h1v1h-1zM5.4 62.4h1v1h-1zM24.9 68.1h1v1h-1zM4.8 59.6h1v1h-1z" fill="#5a48a0" fill-opacity="0.4"/>
<g transform="translate(214.4 135.5)">
<g filter="url(#grain)">
<path d="M14 68.7 12 68.9 10 68.6 7.7 67.9 6.7 67.2 6 66.3 5.5 65 4.9 60.7 4.8 57.7 5.1 54 5.9 48 6.7 44 7.4 42.3 8.3 41 9.7 40.1 11.3 39.5 14.3 39.3 25 40.3 29.3 41.2 33.7 42.8 37 44.5 40.3 46.5 45.7 49.9 49 52.3 51 54 52.3 55.3 53.2 56.7 53.8 58.3 54 59.7 53.7 61 53.2 62.3 52.5 63.3 51.4 64.3 50.4 65 47.7 66 43.3 66.8 38 67.2 31.3 67.5 20 67.6Z" fill="#b3abd8" fill-rule="evenodd"/>
<path d="M12.7 68.3 11 68.3 9.3 67.9 8 67.5 6.9 66.7 6.4 66 6.1 65 5.4 60 5.6 55 6.4 49 7.1 46.3 7.7 44.8 8.7 43.5 10 42.6 11.3 42.1 12.7 41.8 14.3 41.9 19.3 42.9 25 43.5 28.3 44.3 32 45.6 38.7 48.8 45.3 52.7 48.5 55.3 49.5 56.7 50.2 58 50.4 59.3 50.2 60.3 49.8 61.3 49.2 62.3 48.2 63.3 46.9 64.3 44 65.5 40.3 66.2 35 66.7 20.3 67Z" fill="#7f73b8" fill-rule="evenodd"/>
</g><g filter="url(#soft2)">
<path d="M13 68 11.7 68.1 10 67.8 8.3 67.2 7.3 66.6 6.8 66 6.4 65 5.7 60.7 5.7 58.3 5.8 55.3 6.6 50.7 7.3 47.7 7.9 46.3 8.7 45.2 10 44.2 11.3 43.6 13 43.3 14.7 43.5 19.3 44.8 27.3 46.1 32.7 47.8 38.7 50.5 43.7 53.4 46.5 55.7 47.5 57 48 58 48.2 59 48.1 60 47.7 61 47 62.1 46 63 44.7 64 41.7 65.2 38.3 65.9 33.7 66.4 20.1 66.7Z" fill="#5e4f9f" fill-rule="evenodd"/>
<path d="M13.7 67.7 12 67.9 10.7 67.7 9 67.2 7.7 66.4 6.8 65 6.1 61.3 5.9 58.7 6.1 56 6.6 52.7 7.3 49.4 8 47.8 8.8 46.7 10 45.6 11.3 45 12.7 44.8 14.3 44.9 19.3 46.6 27 47.8 30 48.6 33.3 49.7 38.3 51.9 42.3 54.1 44.7 56 45.5 57 46 58 46.2 59 46 60 45.6 61 44.8 62 42.5 63.7 39.7 64.8 36.7 65.5 32.7 65.9 20 66.3Z" fill="#402c86" fill-rule="evenodd"/>
</g><g filter="url(#soft)">
<path d="M13.3 66.7 12 66.9 11 66.7 10 66.3 9.2 65.7 8.1 63.7 7.3 60 7.4 57 8.3 54 9.7 51.8 10.7 51 11.7 50.4 12.7 50.3 14 50.5 17.7 52.2 19.3 52.7 26.7 53.2 31.7 54.3 34 55.1 36 56.1 37.4 57.3 38 58.3 38.1 59 37.9 59.7 37.2 60.7 35.8 61.7 33.7 62.6 31.3 63.2 28.3 63.6 20.7 63.9 19 64.1 17.3 64.6 14.7 66.2Z" fill="#35379a" fill-rule="evenodd"/>
<path d="M12.7 66.4 11.7 66.4 10.7 66.1 10 65.7 9.4 65 8.5 62.7 7.9 59.7 8.1 57.3 8.7 55.3 10 53.5 10.7 52.9 11.7 52.3 12.7 52.1 13.7 52.3 17.3 53.9 19 54.3 25.7 54.6 29.6 55.3 31.6 56 33 56.7 34 57.4 34.6 58.3 34.6 59.3 34.2 60 33.3 60.8 31.7 61.5 29.7 62.1 27.3 62.5 20.3 62.7 18.3 63 16.7 63.7 14 65.9Z" fill="#2b5db5" fill-rule="evenodd"/>
<path d="M13 65.8 12 66 11.3 65.8 10.2 65 9.3 63 8.7 60.3 8.8 58.3 9.3 56.4 10.3 54.8 11.7 53.9 12.7 53.7 13.7 53.9 17 55.4 18.7 55.9 24.7 56.1 27.3 56.5 29.5 57.3 30.7 58.3 30.8 59 30.4 59.7 29.4 60.3 28 60.8 25 61.3 19.3 61.5 17.3 62 16 62.8 14.1 65Z" fill="#1fa2dd" fill-rule="evenodd"/>
<path d="M12.3 65.1 11.3 64.9 10.4 63.7 9.8 61.7 9.7 59.7 10 58 10.7 56.6 11.7 55.8 12.7 55.6 13.8 56 15.1 57 16 58 16.3 59 16.1 59.7 13.7 64 13 64.8Z" fill="#2aa546" fill-rule="evenodd"/>
<path d="M12.7 63.8 12 64 11.3 63.5 10.7 62.3 10.5 60.7 10.6 59.3 11 58.1 11.7 57.4 12.3 57.2 13 57.4 13.7 57.9 14.1 58.7 14.2 59.7 13.8 62 13.3 63Z" fill="#ebe01d" fill-rule="evenodd"/>
<path d="M12.3 63 11.7 62.9 11.3 62.4 11 60.7 11.3 58.9 11.7 58.5 12.3 58.2 13 58.6 13.3 59 13.5 60.3 13.1 62Z" fill="#f2921f" fill-rule="evenodd"/>
<path d="M12.3 62.1 12 62.1 11.7 61.8 11.5 60.7 11.7 59.6 12 59.3 12.3 59.2 12.7 59.4 12.9 60.3 12.8 61.3Z" fill="#e2231f" fill-rule="evenodd"/>
</g>
</g>
<path transform="translate(214.4 135.5)" d="M46.8 49.6h1v1h-1zM11.6 39.3h1v1h-1zM36.7 41h1v1h-1zM5.3 66.7h1v1h-1zM5.3 59.4h1v1h-1zM40.2 43h1v1h-1zM6.7 49.2h1v1h-1zM49.8 56.6h1v1h-1zM7 67.6h1v1h-1zM12.9 68.5h1v1h-1zM5.6 64.1h1v1h-1zM30.3 39.2h1v1h-1zM50.6 62.5h1v1h-1zM53.4 58.9h1v1h-1zM5.7 53.2h1v1h-1zM16.7 68.6h1v1h-1zM12.7 68.5h1v1h-1zM56.7 55.1h1v1h-1zM42.3 47h1v1h-1zM9.8 42.4h1v1h-1zM24.8 42.4h1v1h-1zM15.8 68.6h1v1h-1zM4.5 58.6h1v1h-1zM46.5 66.6h1v1h-1zM53.1 59.8h1v1h-1zM54 54.6h1v1h-1zM22.4 40.3h1v1h-1zM35.2 67h1v1h-1zM5.5 65.5h1v1h-1zM39.2 48.6h1v1h-1zM5.5 64h1v1h-1zM22.4 36.8h1v1h-1zM5.7 64.4h1v1h-1zM21.4 42.8h1v1h-1zM29.4 68.7h1v1h-1zM54.7 56.7h1v1h-1zM6.1 47.2h1v1h-1zM7.7 67.6h1v1h-1zM14.3 69.2h1v1h-1zM38.4 48.7h1v1h-1zM29.5 67.6h1v1h-1zM19.6 43h1v1h-1zM51.9 55.4h1v1h-1zM56.1 57h1v1h-1zM4.3 59.4h1v1h-1zM59.8 63.3h1v1h-1zM5.4 61.4h1v1h-1zM5 64h1v1h-1zM9 69.5h1v1h-1zM46.3 66.8h1v1h-1zM4.8 60.9h1v1h-1zM53.9 67h1v1h-1zM42.4 49.9h1v1h-1zM27.5 42.8h1v1h-1zM25 67.2h1v1h-1zM21.7 67.2h1v1h-1zM54.8 52.5h1v1h-1zM10 39.4h1v1h-1zM21.6 41h1v1h-1zM39.1 67.1h1v1h-1zM58.7 58.8h1v1h-1zM28.7 44.9h1v1h-1zM53.1 65.4h1v1h-1zM33.4 45h1v1h-1zM13.9 68.8h1v1h-1zM11.6 68.9h1v1h-1zM23.6 42h1v1h-1zM5.2 60.2h1v1h-1zM58.9 60.1h1v1h-1zM59.2 61.7h1v1h-1zM12.5 68.5h1v1h-1zM14.3 38.7h1v1h-1zM51.3 66.8h1v1h-1z" fill="#5a48a0" fill-opacity="0.4"/>
<g transform="translate(289.9 135.5)">
<g filter="url(#grain)">
<path d="M14 68.7 12 68.9 10 68.6 7.7 67.9 6.7 67.2 6 66.3 5.5 65 4.9 60.7 4.8 57.7 5.1 54 5.9 48 6.7 44 7.4 42.3 8.3 41 9.7 40.1 11.3 39.5 14.3 39.3 25 40.3 29.3 41.2 33.7 42.8 37 44.5 40.3 46.5 45.7 49.9 49 52.3 51 54 52.3 55.3 53.2 56.7 53.8 58.3 54 59.7 53.7 61 53.2 62.3 52.5 63.3 51.4 64.3 50.4 65 47.7 66 43.3 66.8 38 67.2 31.3 67.5 20 67.6Z" fill="#b3abd8" fill-rule="evenodd"/>
<path d="M12.7 68.3 11 68.3 9.3 67.9 8 67.5 6.9 66.7 6.4 66 6.1 65 5.4 60 5.6 55 6.4 49 7.1 46.3 7.7 44.8 8.7 43.5 10 42.6 11.3 42.1 12.7 41.8 14.3 41.9 19.3 42.9 25 43.5 28.3 44.3 32 45.6 38.7 48.8 45.3 52.7 48.5 55.3 49.5 56.7 50.2 58 50.4 59.3 50.2 60.3 49.8 61.3 49.2 62.3 48.2 63.3 46.9 64.3 44 65.5 40.3 66.2 35 66.7 20.3 67Z" fill="#7f73b8" fill-rule="evenodd"/>
</g><g filter="url(#soft2)">
<path d="M13 68 11.7 68.1 10 67.8 8.3 67.2 7.3 66.6 6.8 66 6.4 65 5.7 60.7 5.7 58.3 5.8 55.3 6.6 50.7 7.3 47.7 7.9 46.3 8.7 45.2 10 44.2 11.3 43.6 13 43.3 14.7 43.5 19.3 44.8 27.3 46.1 32.7 47.8 38.7 50.5 43.7 53.4 46.5 55.7 47.5 57 48 58 48.2 59 48.1 60 47.7 61 47 62.1 46 63 44.7 64 41.7 65.2 38.3 65.9 33.7 66.4 20.1 66.7Z" fill="#5e4f9f" fill-rule="evenodd"/>
<path d="M13.7 67.7 12 67.9 10.7 67.7 9 67.2 7.7 66.4 6.8 65 6.1 61.3 5.9 58.7 6.1 56 6.6 52.7 7.3 49.4 8 47.8 8.8 46.7 10 45.6 11.3 45 12.7 44.8 14.3 44.9 19.3 46.6 27 47.8 30 48.6 33.3 49.7 38.3 51.9 42.3 54.1 44.7 56 45.5 57 46 58 46.2 59 46 60 45.6 61 44.8 62 42.5 63.7 39.7 64.8 36.7 65.5 32.7 65.9 20 66.3Z" fill="#402c86" fill-rule="evenodd"/>
</g><g filter="url(#soft)">
<path d="M13.3 66.7 12 66.9 11 66.7 10 66.3 9.2 65.7 8.1 63.7 7.3 60 7.4 57 8.3 54 9.7 51.8 10.7 51 11.7 50.4 12.7 50.3 14 50.5 17.7 52.2 19.3 52.7 26.7 53.2 31.7 54.3 34 55.1 36 56.1 37.4 57.3 38 58.3 38.1 59 37.9 59.7 37.2 60.7 35.8 61.7 33.7 62.6 31.3 63.2 28.3 63.6 20.7 63.9 19 64.1 17.3 64.6 14.7 66.2Z" fill="#35379a" fill-rule="evenodd"/>
<path d="M12.7 66.4 11.7 66.4 10.7 66.1 10 65.7 9.4 65 8.5 62.7 7.9 59.7 8.1 57.3 8.7 55.3 10 53.5 10.7 52.9 11.7 52.3 12.7 52.1 13.7 52.3 17.3 53.9 19 54.3 25.7 54.6 29.6 55.3 31.6 56 33 56.7 34 57.4 34.6 58.3 34.6 59.3 34.2 60 33.3 60.8 31.7 61.5 29.7 62.1 27.3 62.5 20.3 62.7 18.3 63 16.7 63.7 14 65.9Z" fill="#2b5db5" fill-rule="evenodd"/>
<path d="M13 65.8 12 66 11.3 65.8 10.2 65 9.3 63 8.7 60.3 8.8 58.3 9.3 56.4 10.3 54.8 11.7 53.9 12.7 53.7 13.7 53.9 17 55.4 18.7 55.9 24.7 56.1 27.3 56.5 29.5 57.3 30.7 58.3 30.8 59 30.4 59.7 29.4 60.3 28 60.8 25 61.3 19.3 61.5 17.3 62 16 62.8 14.1 65Z" fill="#1fa2dd" fill-rule="evenodd"/>
<path d="M12.3 65.1 11.3 64.9 10.4 63.7 9.8 61.7 9.7 59.7 10 58 10.7 56.6 11.7 55.8 12.7 55.6 13.8 56 15.1 57 16 58 16.3 59 16.1 59.7 13.7 64 13 64.8Z" fill="#2aa546" fill-rule="evenodd"/>
<path d="M12.7 63.8 12 64 11.3 63.5 10.7 62.3 10.5 60.7 10.6 59.3 11 58.1 11.7 57.4 12.3 57.2 13 57.4 13.7 57.9 14.1 58.7 14.2 59.7 13.8 62 13.3 63Z" fill="#ebe01d" fill-rule="evenodd"/>
<path d="M12.3 63 11.7 62.9 11.3 62.4 11 60.7 11.3 58.9 11.7 58.5 12.3 58.2 13 58.6 13.3 59 13.5 60.3 13.1 62Z" fill="#f2921f" fill-rule="evenodd"/>
<path d="M12.3 62.1 12 62.1 11.7 61.8 11.5 60.7 11.7 59.6 12 59.3 12.3 59.2 12.7 59.4 12.9 60.3 12.8 61.3Z" fill="#e2231f" fill-rule="evenodd"/>
</g>
</g>
<path transform="translate(289.9 135.5)" d="M5.3 56.9h1v1h-1zM50.9 64.8h1v1h-1zM12.2 40.7h1v1h-1zM11.6 69.7h1v1h-1zM21.4 41.6h1v1h-1zM48.1 53h1v1h-1zM5.6 53.8h1v1h-1zM7.9 42.9h1v1h-1zM13.7 68.9h1v1h-1zM5.3 56.5h1v1h-1zM5.8 48.7h1v1h-1zM4.6 58.2h1v1h-1zM14.5 42.2h1v1h-1zM43.8 48.8h1v1h-1zM37.9 48.8h1v1h-1zM7.9 67.9h1v1h-1zM5.2 66.6h1v1h-1zM4.5 58.4h1v1h-1zM17 35.4h1v1h-1zM32.8 67.1h1v1h-1zM51.7 62.2h1v1h-1zM7.2 67.4h1v1h-1zM23.2 41.4h1v1h-1zM35.3 41.9h1v1h-1zM54.4 59.3h1v1h-1zM43 67.9h1v1h-1zM20.9 67.3h1v1h-1zM34.6 66.9h1v1h-1zM9.4 42.8h1v1h-1zM54.2 64.6h1v1h-1zM52.9 59h1v1h-1zM11.7 38.1h1v1h-1zM14.5 69.2h1v1h-1zM16.7 40.9h1v1h-1zM21.9 67.8h1v1h-1zM42.1 50.3h1v1h-1zM44.6 65.6h1v1h-1zM5.4 54.1h1v1h-1zM33.8 67h1v1h-1zM4.5 55.9h1v1h-1zM5.1 64h1v1h-1zM35.8 40.5h1v1h-1zM38 45.2h1v1h-1zM46.7 67.6h1v1h-1zM5.3 60.2h1v1h-1zM36.1 66.7h1v1h-1zM6.9 66.4h1v1h-1zM19.2 68.8h1v1h-1zM32.7 67h1v1h-1zM4.7 62.2h1v1h-1zM54.8 57.5h1v1h-1zM5.3 65.5h1v1h-1zM22.4 37.8h1v1h-1zM5.6 65.1h1v1h-1zM49.2 53.4h1v1h-1zM4.7 52.8h1v1h-1zM39.5 45.1h1v1h-1zM32.6 67.5h1v1h-1zM53.4 66.5h1v1h-1zM42.7 46.5h1v1h-1zM32.1 67.1h1v1h-1zM19.6 36.3h1v1h-1zM8.5 68.1h1v1h-1zM4.9 59.8h1v1h-1zM53.6 60.3h1v1h-1zM31 41h1v1h-1zM10.1 43h1v1h-1zM44.4 51.3h1v1h-1zM42.8 66.8h1v1h-1zM24.7 68.3h1v1h-1zM5.2 62.3h1v1h-1zM27.7 36.8h1v1h-1zM54 53.9h1v1h-1zM4.4 63.3h1v1h-1zM48 51h1v1h-1zM6.3 49.9h1v1h-1zM32.7 46.1h1v1h-1zM27.1 41.3h1v1h-1zM7.9 40.4h1v1h-1zM36.1 46h1v1h-1zM19.2 43.4h1v1h-1zM27 38.6h1v1h-1zM4.8 57h1v1h-1zM17.8 68.1h1v1h-1zM15.4 34.5h1v1h-1zM5.1 59.8h1v1h-1zM8.4 43.3h1v1h-1zM33 45.1h1v1h-1zM33.3 68.5h1v1h-1zM35.4 68.6h1v1h-1zM38.6 46.3h1v1h-1zM5.9 63.3h1v1h-1zM30.8 43.4h1v1h-1zM18.4 68.4h1v1h-1zM34.4 68.6h1v1h-1zM38.4 45h1v1h-1zM16.9 36.6h1v1h-1zM53.4 62.6h1v1h-1zM6.1 64.9h1v1h-1zM14.5 39.6h1v1h-1zM22.1 67.3h1v1h-1zM34.8 42.8h1v1h-1zM36.1 44.1h1v1h-1zM16.9 69.2h1v1h-1z" fill="#5a48a0" fill-opacity="0.4"/>
<g transform="translate(365.5 135.5)">
<g filter="url(#grain)">
<path d="M14 68.7 12 68.9 10 68.6 7.7 67.9 6.7 67.2 6 66.3 5.5 65 4.9 60.7 4.8 57.7 5.1 54 5.9 48 6.7 44 7.4 42.3 8.3 41 9.7 40.1 11.3 39.5 14.3 39.3 25 40.3 29.3 41.2 33.7 42.8 37 44.5 40.3 46.5 45.7 49.9 49 52.3 51 54 52.3 55.3 53.2 56.7 53.8 58.3 54 59.7 53.7 61 53.2 62.3 52.5 63.3 51.4 64.3 50.4 65 47.7 66 43.3 66.8 38 67.2 31.3 67.5 20 67.6Z" fill="#b3abd8" fill-rule="evenodd"/>
<path d="M12.7 68.3 11 68.3 9.3 67.9 8 67.5 6.9 66.7 6.4 66 6.1 65 5.4 60 5.6 55 6.4 49 7.1 46.3 7.7 44.8 8.7 43.5 10 42.6 11.3 42.1 12.7 41.8 14.3 41.9 19.3 42.9 25 43.5 28.3 44.3 32 45.6 38.7 48.8 45.3 52.7 48.5 55.3 49.5 56.7 50.2 58 50.4 59.3 50.2 60.3 49.8 61.3 49.2 62.3 48.2 63.3 46.9 64.3 44 65.5 40.3 66.2 35 66.7 20.3 67Z" fill="#7f73b8" fill-rule="evenodd"/>
</g><g filter="url(#soft2)">
<path d="M13 68 11.7 68.1 10 67.8 8.3 67.2 7.3 66.6 6.8 66 6.4 65 5.7 60.7 5.7 58.3 5.8 55.3 6.6 50.7 7.3 47.7 7.9 46.3 8.7 45.2 10 44.2 11.3 43.6 13 43.3 14.7 43.5 19.3 44.8 27.3 46.1 32.7 47.8 38.7 50.5 43.7 53.4 46.5 55.7 47.5 57 48 58 48.2 59 48.1 60 47.7 61 47 62.1 46 63 44.7 64 41.7 65.2 38.3 65.9 33.7 66.4 20.1 66.7Z" fill="#5e4f9f" fill-rule="evenodd"/>
<path d="M13.7 67.7 12 67.9 10.7 67.7 9 67.2 7.7 66.4 6.8 65 6.1 61.3 5.9 58.7 6.1 56 6.6 52.7 7.3 49.4 8 47.8 8.8 46.7 10 45.6 11.3 45 12.7 44.8 14.3 44.9 19.3 46.6 27 47.8 30 48.6 33.3 49.7 38.3 51.9 42.3 54.1 44.7 56 45.5 57 46 58 46.2 59 46 60 45.6 61 44.8 62 42.5 63.7 39.7 64.8 36.7 65.5 32.7 65.9 20 66.3Z" fill="#402c86" fill-rule="evenodd"/>
</g><g filter="url(#soft)">
<path d="M13.3 66.7 12 66.9 11 66.7 10 66.3 9.2 65.7 8.1 63.7 7.3 60 7.4 57 8.3 54 9.7 51.8 10.7 51 11.7 50.4 12.7 50.3 14 50.5 17.7 52.2 19.3 52.7 26.7 53.2 31.7 54.3 34 55.1 36 56.1 37.4 57.3 38 58.3 38.1 59 37.9 59.7 37.2 60.7 35.8 61.7 33.7 62.6 31.3 63.2 28.3 63.6 20.7 63.9 19 64.1 17.3 64.6 14.7 66.2Z" fill="#35379a" fill-rule="evenodd"/>
<path d="M12.7 66.4 11.7 66.4 10.7 66.1 10 65.7 9.4 65 8.5 62.7 7.9 59.7 8.1 57.3 8.7 55.3 10 53.5 10.7 52.9 11.7 52.3 12.7 52.1 13.7 52.3 17.3 53.9 19 54.3 25.7 54.6 29.6 55.3 31.6 56 33 56.7 34 57.4 34.6 58.3 34.6 59.3 34.2 60 33.3 60.8 31.7 61.5 29.7 62.1 27.3 62.5 20.3 62.7 18.3 63 16.7 63.7 14 65.9Z" fill="#2b5db5" fill-rule="evenodd"/>
<path d="M13 65.8 12 66 11.3 65.8 10.2 65 9.3 63 8.7 60.3 8.8 58.3 9.3 56.4 10.3 54.8 11.7 53.9 12.7 53.7 13.7 53.9 17 55.4 18.7 55.9 24.7 56.1 27.3 56.5 29.5 57.3 30.7 58.3 30.8 59 30.4 59.7 29.4 60.3 28 60.8 25 61.3 19.3 61.5 17.3 62 16 62.8 14.1 65Z" fill="#1fa2dd" fill-rule="evenodd"/>
<path d="M12.3 65.1 11.3 64.9 10.4 63.7 9.8 61.7 9.7 59.7 10 58 10.7 56.6 11.7 55.8 12.7 55.6 13.8 56 15.1 57 16 58 16.3 59 16.1 59.7 13.7 64 13 64.8Z" fill="#2aa546" fill-rule="evenodd"/>
<path d="M12.7 63.8 12 64 11.3 63.5 10.7 62.3 10.5 60.7 10.6 59.3 11 58.1 11.7 57.4 12.3 57.2 13 57.4 13.7 57.9 14.1 58.7 14.2 59.7 13.8 62 13.3 63Z" fill="#ebe01d" fill-rule="evenodd"/>
<path d="M12.3 63 11.7 62.9 11.3 62.4 11 60.7 11.3 58.9 11.7 58.5 12.3 58.2 13 58.6 13.3 59 13.5 60.3 13.1 62Z" fill="#f2921f" fill-rule="evenodd"/>
<path d="M12.3 62.1 12 62.1 11.7 61.8 11.5 60.7 11.7 59.6 12 59.3 12.3 59.2 12.7 59.4 12.9 60.3 12.8 61.3Z" fill="#e2231f" fill-rule="evenodd"/>
</g>
</g>
<path transform="translate(365.5 135.5)" d="M37.8 49h1v1h-1zM23.4 44h1v1h-1zM40.2 40.1h1v1h-1zM29.6 67.7h1v1h-1zM23.4 68.3h1v1h-1zM23.6 67h1v1h-1zM9.2 42.6h1v1h-1zM5.1 53.7h1v1h-1zM43.4 66.4h1v1h-1zM52.7 60.3h1v1h-1zM5.5 53.7h1v1h-1zM18.2 68.7h1v1h-1zM47.6 52.2h1v1h-1zM12.4 69h1v1h-1zM19.2 42.3h1v1h-1zM26.1 39.5h1v1h-1zM8.6 39h1v1h-1zM5.2 56.6h1v1h-1zM10.6 68.9h1v1h-1zM6.2 64.9h1v1h-1zM8.4 69.1h1v1h-1zM16.5 68.4h1v1h-1zM40.4 47.7h1v1h-1zM49.8 60.9h1v1h-1zM4.6 52.9h1v1h-1zM5.2 57.4h1v1h-1zM5.3 57.6h1v1h-1zM50 57.3h1v1h-1zM17.3 67.9h1v1h-1zM16.6 41.5h1v1h-1zM37.3 66.9h1v1h-1zM4.8 60.2h1v1h-1zM51.9 62.5h1v1h-1zM41.8 49.3h1v1h-1zM51.4 56.1h1v1h-1zM12.2 68.4h1v1h-1zM44.4 47.4h1v1h-1zM24 42.6h1v1h-1zM15.3 69.3h1v1h-1zM7.2 38.7h1v1h-1zM4.3 58.6h1v1h-1zM39.5 67.1h1v1h-1zM13.4 68.5h1v1h-1zM13.5 41.6h1v1h-1zM28.5 67.3h1v1h-1zM5.2 59.8h1v1h-1zM13.7 40h1v1h-1zM22 40.3h1v1h-1zM58.9 60.5h1v1h-1zM20.9 67.5h1v1h-1zM50.9 55h1v1h-1zM48.2 65.1h1v1h-1zM38.9 39.6h1v1h-1zM7 46.1h1v1h-1zM43.2 42.8h1v1h-1zM51 58h1v1h-1zM44.8 50.5h1v1h-1zM5.8 63.1h1v1h-1zM41.3 44h1v1h-1zM40.9 68.3h1v1h-1zM5.9 65.9h1v1h-1zM50 52.3h1v1h-1zM48.2 63.1h1v1h-1zM5.6 58.9h1v1h-1zM26.7 35.6h1v1h-1zM51.6 51.3h1v1h-1zM16.9 68.1h1v1h-1zM7.1 45.7h1v1h-1zM55.5 51.5h1v1h-1zM31.5 42.5h1v1h-1zM50.8 63.8h1v1h-1zM20.7 68.8h1v1h-1zM5.6 53.2h1v1h-1zM56.5 63.3h1v1h-1zM41.4 49.9h1v1h-1zM40.8 49.2h1v1h-1zM4.2 55.5h1v1h-1zM19.8 38.7h1v1h-1zM5.4 49.6h1v1h-1zM51.2 61.9h1v1h-1zM46.7 64.2h1v1h-1zM14 35.6h1v1h-1zM4.1 60.8h1v1h-1zM12.6 41.9h1v1h-1zM15.3 68.1h1v1h-1zM5.2 63.4h1v1h-1zM29.7 67.2h1v1h-1zM20.5 40.7h1v1h-1zM32.5 43.4h1v1h-1zM57.2 64.5h1v1h-1zM43.3 50.1h1v1h-1zM10.7 41.2h1v1h-1zM9.2 68.4h1v1h-1zM45.8 45h1v1h-1zM60.3 59.7h1v1h-1zM15.4 41.3h1v1h-1zM10 35.9h1v1h-1z" fill="#5a48a0" fill-opacity="0.4"/>
<g transform="translate(441.5 135.5)">
<g filter="url(#grain)">
<path d="M14 68.7 12.3 68.9 11 68.8 7.7 67.9 6.8 67.3 6.2 66.7 5.7 65.7 5.4 64.3 5.1 61 5.1 57.7 5.5 51.3 6.2 46.3 6.7 43.7 7.5 41.7 8.3 40.4 9.7 39.4 12.3 38.5 15.7 38.5 21.7 39.4 26 40.9 31 43.5 36.7 47.3 40.3 50.7 42.5 53.7 43.2 55.3 43.7 57 43.8 58.7 43.5 60.3 42.9 62 42.1 63.3 41 64.4 39.7 65.3 37.3 66.1 33.7 66.8 29 67.2 20 67.7Z" fill="#b3abd8" fill-rule="evenodd"/>
<path d="M12.7 68.4 10 68.1 8.3 67.6 7.2 67 6.6 66.3 6.3 65.7 5.7 62.7 5.5 60 5.6 57.3 6.1 51.3 6.6 48 7.1 46 7.8 44.3 8.7 43.1 10 42.2 12.3 41.4 15 41.4 23 43.4 27 44.8 31 46.9 34.7 49.4 37.5 52 39.3 54.7 39.8 56 40.2 57.7 40.2 59 40 60.3 39.4 61.7 38.4 63 37.4 64 36 64.9 33.8 65.7 31 66.2 20.3 67Z" fill="#7f73b8" fill-rule="evenodd"/>
</g><g filter="url(#soft2)">
<path d="M13.3 68 12 68.1 10.3 67.9 9 67.5 7.7 66.9 7.1 66.3 6.7 65.7 6.1 63 5.9 60.3 5.9 57.7 6.4 52 6.9 49 7.5 47 8.1 45.7 9 44.6 10.3 43.7 12.3 43 14.7 43.1 24 45.8 27 46.9 30.3 48.6 33.3 50.7 35.4 52.7 37.1 55 37.7 56.3 38 57.7 38.1 59 37.8 60.3 37.2 61.7 36.4 62.7 34.3 64.3 32.3 65.2 29.7 65.8 26.7 66.2 20.2 66.7Z" fill="#5e4f9f" fill-rule="evenodd"/>
<path d="M13.7 67.7 12.3 67.9 11 67.8 9.7 67.5 8 66.7 7.1 65.7 6.4 63.3 6.2 60.7 6.2 58 6.5 54 7.1 50.3 7.7 48.4 8.3 47.1 9.3 45.9 10.3 45.2 12.3 44.5 14.3 44.6 19.7 46.5 26.3 48.5 29 49.8 31.7 51.7 33.8 53.7 35.2 55.7 36.1 58 36.1 59.3 35.9 60.3 35.4 61.3 34.6 62.3 32.4 64 30.7 64.8 28.3 65.4 19.8 66.3Z" fill="#402c86" fill-rule="evenodd"/>
</g><g filter="url(#soft)">
<path d="M13.3 66.7 11.3 66.8 10.3 66.5 9.5 66 8.5 64.7 7.6 61.7 7.5 58.7 8.2 55.3 9.3 52.6 10 51.7 11 50.8 12.7 50.2 14.3 50.6 18.7 53.7 20.1 54.3 23.7 55.3 25.3 56 27 57 27.9 58 28.4 59 28.3 60 27.7 61 26.5 62 24 63 18.5 64.3 14.7 66.2Z" fill="#35379a" fill-rule="evenodd"/>
<path d="M13 66.4 12 66.5 11 66.3 9.7 65.4 8.8 63.7 8.2 61 8.2 58.7 8.8 56.3 10 54 11.3 52.7 12.7 52.4 14 52.7 18 55.5 23 57.4 24.1 58 24.8 58.7 25 59.3 25 60 24 61.1 22.7 61.7 17.7 63.4 16.3 64.2 14.3 65.8Z" fill="#2b5db5" fill-rule="evenodd"/>
<path d="M13.3 65.7 12.7 65.9 11.7 66 11 65.7 10.3 65.2 9.5 63.7 8.9 61 9 58.7 9.8 56.3 11 54.8 12.3 54.2 13.3 54.3 14.3 54.9 19.6 58.7 20.2 59.3 20.2 59.7 19.9 60.3 16.3 62.7 14.3 65Z" fill="#1fa2dd" fill-rule="evenodd"/>
<path d="M12.7 65.1 11.7 65.1 10.7 64.3 10.1 63 9.8 61 9.9 59.3 10.4 57.7 11.3 56.5 12.3 56.1 13.3 56.4 14.4 57.3 15.3 58.7 15.6 59.7 15.3 61 14.3 63.3 13.6 64.3Z" fill="#2aa546" fill-rule="evenodd"/>
<path d="M12.3 64.1 11.7 64 11.1 63.3 10.7 62.3 10.5 61 10.6 59.7 11 58.7 11.7 57.9 12.3 57.7 13 57.9 13.7 58.7 14.1 60.3 14 61.3 13.6 62.7 13 63.6Z" fill="#ebe01d" fill-rule="evenodd"/>
<path d="M12.3 63.2 11.7 63 11.4 62.7 11 61 11.3 59.4 11.7 58.9 12.3 58.7 13.1 59.3 13.5 60.7 13.1 62.3Z" fill="#f2921f" fill-rule="evenodd"/>
<path d="M12.3 62.3 12 62.4 11.7 62 11.5 61 11.7 60 12 59.7 12.3 59.6 12.7 60 12.9 61 12.7 62Z" fill="#e2231f" fill-rule="evenodd"/>
</g>
</g>
<path transform="translate(441.5 135.5)" d="M29.9 67.1h1v1h-1zM15 68.8h1v1h-1zM11.8 69.6h1v1h-1zM4.4 60.8h1v1h-1zM5.9 58.3h1v1h-1zM41.4 65.2h1v1h-1zM21.5 67.1h1v1h-1zM5.4 56.5h1v1h-1zM5.9 45.5h1v1h-1zM20.8 68h1v1h-1zM11.6 69.5h1v1h-1zM20.4 35.8h1v1h-1zM42.6 57.9h1v1h-1zM5 53.9h1v1h-1zM15.3 68.6h1v1h-1zM12.5 69.3h1v1h-1zM23.1 33.6h1v1h-1zM15.1 41h1v1h-1zM37.3 65.9h1v1h-1zM16.2 68.4h1v1h-1zM26.1 43.3h1v1h-1zM11.9 69.6h1v1h-1zM39.9 52.1h1v1h-1zM23.1 68.1h1v1h-1zM44.7 64.5h1v1h-1zM12.7 34.6h1v1h-1zM31.2 46.9h1v1h-1zM45.3 66.1h1v1h-1zM37.6 49.6h1v1h-1zM45.5 57.9h1v1h-1zM7.9 39.8h1v1h-1zM11.8 68.8h1v1h-1zM20.6 40.8h1v1h-1zM45.8 50.2h1v1h-1zM7.6 68.2h1v1h-1zM5.2 54.7h1v1h-1zM14 69.5h1v1h-1zM9.3 68.3h1v1h-1zM5.4 62h1v1h-1zM12.8 68.6h1v1h-1zM12.1 68.7h1v1h-1zM37.6 48.4h1v1h-1zM5.4 65h1v1h-1zM23.9 41.4h1v1h-1zM5.1 55.4h1v1h-1zM23.6 40.1h1v1h-1zM32.4 39h1v1h-1zM9.7 68.1h1v1h-1zM9.8 68.2h1v1h-1zM17.5 68.9h1v1h-1zM22.5 67h1v1h-1zM27 39h1v1h-1zM5.7 61.2h1v1h-1zM5.7 65.1h1v1h-1zM20.9 67.6h1v1h-1zM35.4 48.2h1v1h-1zM41.3 57.1h1v1h-1zM20.9 68.3h1v1h-1zM40.9 62.9h1v1h-1zM15.5 68.9h1v1h-1zM39.1 45h1v1h-1zM6.3 53.5h1v1h-1zM37 44.1h1v1h-1zM16.1 38.8h1v1h-1zM13.4 68.9h1v1h-1zM40.3 47h1v1h-1zM15.6 40.7h1v1h-1zM36.9 52.3h1v1h-1zM5.8 51.6h1v1h-1zM28.1 44.6h1v1h-1zM5.1 52.4h1v1h-1zM9.5 40.2h1v1h-1zM20.2 67.8h1v1h-1zM38.6 43.1h1v1h-1zM42.2 52.8h1v1h-1zM31.2 40h1v1h-1zM45.1 55.5h1v1h-1zM38.3 54h1v1h-1zM5.5 45h1v1h-1zM37.5 66.6h1v1h-1zM43 53.6h1v1h-1zM11.8 38.8h1v1h-1zM15.7 68.3h1v1h-1zM43.9 60h1v1h-1zM5.2 48.7h1v1h-1zM5.4 46.2h1v1h-1zM41.7 49.9h1v1h-1zM5.9 56.8h1v1h-1zM46.8 64.8h1v1h-1zM37 65.9h1v1h-1zM16.8 68.9h1v1h-1zM28.3 67.5h1v1h-1zM5.7 49.7h1v1h-1zM46.8 51.1h1v1h-1zM38.2 53.5h1v1h-1zM34.7 44.3h1v1h-1zM6.2 65.8h1v1h-1zM16.6 67.9h1v1h-1zM31.8 47.6h1v1h-1zM44.7 58.1h1v1h-1zM33.3 67.4h1v1h-1zM12.5 41.4h1v1h-1zM7.3 46.6h1v1h-1zM16.6 69.5h1v1h-1zM41.1 51.2h1v1h-1zM40.6 62.5h1v1h-1zM33.9 44.7h1v1h-1zM43 65h1v1h-1zM42.7 58.7h1v1h-1zM25.7 67.2h1v1h-1zM5.6 64.2h1v1h-1zM36.5 65h1v1h-1zM42.6 52.2h1v1h-1zM18.9 42.6h1v1h-1zM5.7 64.8h1v1h-1zM18.1 67.7h1v1h-1zM5.5 62.3h1v1h-1zM9.8 68.3h1v1h-1zM40.4 47.8h1v1h-1zM43.1 56.4h1v1h-1zM45.9 61.7h1v1h-1zM43.5 65.6h1v1h-1zM10.7 69.2h1v1h-1zM7.4 45.8h1v1h-1zM4.6 63h1v1h-1z" fill="#5a48a0" fill-opacity="0.4"/>
<g transform="translate(138.5 229)">
<g filter="url(#grain)">
<path d="M18.3 69.3 15.7 69.2 14.7 68.8 13.7 68 13.1 67 12.9 66 12.6 62 12.5 58 12.8 53 14.2 40.3 15.3 35 16 33.4 16.7 32.6 17.3 32.5 18.3 33.5 19.2 35.3 20.7 39.8 21 40.4 21.7 40.8 22.7 40.8 27 39.7 30.7 39.2 34.3 39.1 37.7 39.2 40.7 39.8 43.3 40.8 45.7 42.2 47.7 44 48.9 45.7 49.7 47.7 50.1 49.7 49.9 51.7 49.4 53.7 48.4 55.7 47.1 57.3 45.4 59 43.3 60.5 41.3 61.7 31.8 66 29 66.8 24 67.5 20.7 68.8Z" fill="#b3abd8" fill-rule="evenodd"/>
<path d="M19.3 68.7 18 68.9 16.7 68.9 14.7 68.2 14 67.6 13.5 66.7 13.1 64 12.9 60.3 13 56.3 13.8 48.3 15.2 39 15.9 36.7 16.7 35.5 17.3 35.4 18.2 36.3 20.3 42.1 20.7 42.7 21.3 43.3 22.3 43.4 25.7 42.6 28.7 42.2 32.3 42 35.7 42.1 38 42.5 40.3 43.3 42.3 44.3 43.9 45.7 44.9 47 45.5 48.3 45.8 49.7 45.8 51.3 45.4 53 44.8 54.3 43.8 55.7 42.7 56.9 40 58.9 30.3 64.3 28 65.3 24.3 66.2 21.3 67.9Z" fill="#7f73b8" fill-rule="evenodd"/>
</g><g filter="url(#soft2)">
<path d="M19.3 68.4 18 68.6 16.7 68.6 15.3 68.2 14.5 67.7 13.7 66.3 13.3 63 13.2 59.3 13.4 54.7 14.8 43.7 15.8 39 16.3 37.8 17 37.2 17.7 37.4 18.1 38 20 43.3 20.7 44.5 21.3 45 22.3 45.1 26 44.2 29 44 33.3 44.1 36.7 44.6 39 45.4 41 46.8 42.2 48.3 42.7 50.3 42.6 52 41.9 53.7 40.7 55.3 39.2 56.7 30 62.8 27.7 63.9 24.3 64.8 23.7 65.3 21.5 67.3Z" fill="#5e4f9f" fill-rule="evenodd"/>
<path d="M19.3 68 18 68.3 16.7 68.3 15.3 67.9 14.7 67.4 13.9 66 13.5 63 13.5 56.7 14.5 48.3 15.7 41.6 16.3 39.7 17 39 17.3 39.1 18 39.7 20 45.1 20.7 46.2 21.3 46.6 22.3 46.8 25.3 46.1 27.7 45.8 30.7 46 33.7 46.5 36 47.3 37.7 48.3 38.7 49.7 39 51 38.8 52.3 38.1 53.7 37 55 35.2 56.7 31.3 60 29.3 61.4 27.7 62.2 24 63.5 23.3 64.1 21.2 67Z" fill="#402c86" fill-rule="evenodd"/>
</g><g filter="url(#soft)">
<path d="M18 67 17 67.1 16.3 66.9 15.3 65.9 14.6 63.7 14.3 61 14.5 57.3 15.4 52.3 16.3 49.1 16.9 48 17.3 47.8 17.7 48 18.3 48.9 20.5 53.3 21.2 55.3 21.5 57.7 21.2 61.3 20.5 64.3 19.9 65.7 19.4 66.3Z" fill="#35379a" fill-rule="evenodd"/>
<path d="M18 66.4 17.3 66.5 16.7 66.3 15.7 65.4 15 63.7 14.7 61.3 14.8 58.3 15.4 55.3 16.3 52.3 17 51.2 17.3 51.1 17.7 51.2 18.3 51.9 19.6 54.3 20.3 56.3 20.6 59 20.5 61.7 20 64 19.1 65.7Z" fill="#2b5db5" fill-rule="evenodd"/>
<path d="M17.7 65.7 16.7 65.5 15.9 64.7 15.3 63 15 61 15.2 58.7 15.7 56.5 16.3 54.8 17 53.9 17.3 53.8 17.7 53.8 18.3 54.3 19.1 55.7 19.8 57.7 20 60 19.8 62.3 19.3 64 18.7 65.1Z" fill="#1fa2dd" fill-rule="evenodd"/>
<path d="M18 64.4 17.3 64.6 16.4 64 15.9 63 15.6 61.3 15.6 59.7 16 57.9 16.7 56.6 17.3 56.2 18 56.4 18.7 57.3 19.3 59.7 19.3 61.3 19 62.7 18.6 63.7Z" fill="#2aa546" fill-rule="evenodd"/>
<path d="M17.7 63.1 17 63.1 16.7 62.7 16.2 61 16.5 59 17 58.3 17.3 58.1 17.7 58.2 18.1 58.7 18.6 60.3 18.3 62.2Z" fill="#ebe01d" fill-rule="evenodd"/>
<path d="M17.7 62.3 17.3 62.4 17 62.2 16.6 61 16.8 59.7 17.3 59 17.8 59.3 18.2 60.3 18.1 61.7Z" fill="#f2921f" fill-rule="evenodd"/>
<path d="M17.3 61.8 17 61.4 16.9 60.7 17 60.1 17.3 59.7 17.7 59.9 17.9 60.7 17.7 61.6Z" fill="#e2231f" fill-rule="evenodd"/>
</g>
</g>
<path transform="translate(138.5 229)" d="M23.7 40.2h1v1h-1zM34.3 63h1v1h-1zM42 42.2h1v1h-1zM15.4 69.1h1v1h-1zM42.7 40.3h1v1h-1zM16.3 68.8h1v1h-1zM27.5 42.9h1v1h-1zM27.5 65.4h1v1h-1zM50.1 49.1h1v1h-1zM12.9 57.6h1v1h-1zM12.5 54.3h1v1h-1zM44.9 56.5h1v1h-1zM48 49.9h1v1h-1zM48.8 47.8h1v1h-1zM44.7 45h1v1h-1zM47.9 41.6h1v1h-1zM40.1 38.7h1v1h-1zM30 42h1v1h-1zM13.4 44.5h1v1h-1zM51.1 61.5h1v1h-1zM35.2 67.6h1v1h-1zM20.6 68.9h1v1h-1zM12.7 49.1h1v1h-1zM49.9 38.1h1v1h-1zM48.9 45h1v1h-1zM19.3 69.4h1v1h-1zM13.7 44.8h1v1h-1zM46.5 43.2h1v1h-1zM47.1 55h1v1h-1zM13.3 55.3h1v1h-1zM36.8 37.1h1v1h-1zM35.1 63.6h1v1h-1zM47 47.6h1v1h-1zM47.7 43h1v1h-1zM12 60.2h1v1h-1zM49.1 50.3h1v1h-1zM15.8 33.3h1v1h-1zM14.4 35.6h1v1h-1zM23.9 68.5h1v1h-1zM35.4 34.5h1v1h-1zM45.9 53.2h1v1h-1zM43.8 61.2h1v1h-1zM41.7 36.6h1v1h-1zM43.1 59.8h1v1h-1zM46 45.6h1v1h-1zM29.5 40.4h1v1h-1zM13.2 67.8h1v1h-1zM35.2 66h1v1h-1zM37.5 42h1v1h-1zM19.9 68.8h1v1h-1zM13.2 62.1h1v1h-1zM16.2 34.9h1v1h-1zM40.1 60.3h1v1h-1zM49.2 43.5h1v1h-1zM19.6 37.8h1v1h-1zM13 58.7h1v1h-1zM21.2 68.5h1v1h-1zM44 41.9h1v1h-1zM40.3 43.5h1v1h-1zM18.4 35.4h1v1h-1zM49.7 58.8h1v1h-1zM43 62h1v1h-1zM53.1 49.8h1v1h-1zM21.7 69.5h1v1h-1zM12.5 50.2h1v1h-1zM12.8 60.7h1v1h-1zM13 59.3h1v1h-1zM28.6 42.2h1v1h-1zM27.2 42.4h1v1h-1zM39.3 59.6h1v1h-1zM42.9 61.9h1v1h-1zM39.5 61.1h1v1h-1zM14.7 37.1h1v1h-1zM49 58.7h1v1h-1zM28.3 38h1v1h-1zM36.2 41h1v1h-1zM51.2 48.6h1v1h-1zM40.4 58.5h1v1h-1zM42.9 44.7h1v1h-1zM12.7 50.8h1v1h-1zM12.7 66.1h1v1h-1zM21.4 39.4h1v1h-1zM44.8 37.1h1v1h-1zM13.1 50.3h1v1h-1zM13.7 49.7h1v1h-1zM50.1 39.4h1v1h-1zM29.5 64.4h1v1h-1zM23.9 66.6h1v1h-1zM29.3 66.1h1v1h-1zM46 40.9h1v1h-1zM40.9 40.3h1v1h-1zM35.2 41.8h1v1h-1zM16.2 69.3h1v1h-1zM20.4 69.5h1v1h-1zM35.2 37.1h1v1h-1zM47.8 54.3h1v1h-1zM29.9 41.2h1v1h-1zM38.1 66.8h1v1h-1zM15 39.5h1v1h-1zM27.5 65.8h1v1h-1zM42.9 60.6h1v1h-1zM16.4 69.1h1v1h-1zM12.9 62.7h1v1h-1zM53.3 53.6h1v1h-1zM13.3 67.9h1v1h-1zM12.8 59.2h1v1h-1zM37.3 67.3h1v1h-1zM14.1 67.7h1v1h-1zM14.1 68.7h1v1h-1zM46.5 47.6h1v1h-1zM24.2 67.8h1v1h-1zM20.6 41.7h1v1h-1zM35 61.6h1v1h-1zM19.9 40.4h1v1h-1zM12.7 59.5h1v1h-1zM52.4 44.4h1v1h-1zM18.7 37.7h1v1h-1zM49.5 59.1h1v1h-1zM55.4 46.5h1v1h-1zM45.5 56.2h1v1h-1zM38.6 59.4h1v1h-1zM12.6 56.3h1v1h-1zM28.7 36.5h1v1h-1zM21.6 42.3h1v1h-1zM38.5 66.2h1v1h-1zM14.2 45.9h1v1h-1zM17.1 35.7h1v1h-1zM27.8 66.2h1v1h-1zM36 41h1v1h-1zM18.2 32.3h1v1h-1zM24.7 67.3h1v1h-1zM30.2 64.4h1v1h-1zM13.6 45.2h1v1h-1zM33.6 38.4h1v1h-1zM12.9 57.1h1v1h-1zM38.3 67.6h1v1h-1zM25.2 66.3h1v1h-1z" fill="#5a48a0" fill-opacity="0.4"/>
<g transform="translate(214.4 229)">
<g filter="url(#grain)">
<path d="M18.3 69.3 15.7 69.2 14.7 68.8 13.7 68 13.1 67 12.9 66 12.6 62 12.5 58 12.8 53 14.2 40.3 15.3 35 16 33.4 16.7 32.6 17.3 32.5 18.3 33.5 19.2 35.3 20.7 39.8 21 40.4 21.7 40.8 22.7 40.8 27 39.7 30.7 39.2 34.3 39.1 37.7 39.2 40.7 39.8 43.3 40.8 45.7 42.2 47.7 44 48.9 45.7 49.7 47.7 50.1 49.7 49.9 51.7 49.4 53.7 48.4 55.7 47.1 57.3 45.4 59 43.3 60.5 41.3 61.7 31.8 66 29 66.8 24 67.5 20.7 68.8Z" fill="#b3abd8" fill-rule="evenodd"/>
<path d="M19.3 68.7 18 68.9 16.7 68.9 14.7 68.2 14 67.6 13.5 66.7 13.1 64 12.9 60.3 13 56.3 13.8 48.3 15.2 39 15.9 36.7 16.7 35.5 17.3 35.4 18.2 36.3 20.3 42.1 20.7 42.7 21.3 43.3 22.3 43.4 25.7 42.6 28.7 42.2 32.3 42 35.7 42.1 38 42.5 40.3 43.3 42.3 44.3 43.9 45.7 44.9 47 45.5 48.3 45.8 49.7 45.8 51.3 45.4 53 44.8 54.3 43.8 55.7 42.7 56.9 40 58.9 30.3 64.3 28 65.3 24.3 66.2 21.3 67.9Z" fill="#7f73b8" fill-rule="evenodd"/>
</g><g filter="url(#soft2)">
<path d="M19.3 68.4 18 68.6 16.7 68.6 15.3 68.2 14.5 67.7 13.7 66.3 13.3 63 13.2 59.3 13.4 54.7 14.8 43.7 15.8 39 16.3 37.8 17 37.2 17.7 37.4 18.1 38 20 43.3 20.7 44.5 21.3 45 22.3 45.1 26 44.2 29 44 33.3 44.1 36.7 44.6 39 45.4 41 46.8 42.2 48.3 42.7 50.3 42.6 52 41.9 53.7 40.7 55.3 39.2 56.7 30 62.8 27.7 63.9 24.3 64.8 23.7 65.3 21.5 67.3Z" fill="#5e4f9f" fill-rule="evenodd"/>
<path d="M19.3 68 18 68.3 16.7 68.3 15.3 67.9 14.7 67.4 13.9 66 13.5 63 13.5 56.7 14.5 48.3 15.7 41.6 16.3 39.7 17 39 17.3 39.1 18 39.7 20 45.1 20.7 46.2 21.3 46.6 22.3 46.8 25.3 46.1 27.7 45.8 30.7 46 33.7 46.5 36 47.3 37.7 48.3 38.7 49.7 39 51 38.8 52.3 38.1 53.7 37 55 35.2 56.7 31.3 60 29.3 61.4 27.7 62.2 24 63.5 23.3 64.1 21.2 67Z" fill="#402c86" fill-rule="evenodd"/>
</g><g filter="url(#soft)">
<path d="M18 67 17 67.1 16.3 66.9 15.3 65.9 14.6 63.7 14.3 61 14.5 57.3 15.4 52.3 16.3 49.1 16.9 48 17.3 47.8 17.7 48 18.3 48.9 20.5 53.3 21.2 55.3 21.5 57.7 21.2 61.3 20.5 64.3 19.9 65.7 19.4 66.3Z" fill="#35379a" fill-rule="evenodd"/>
<path d="M18 66.4 17.3 66.5 16.7 66.3 15.7 65.4 15 63.7 14.7 61.3 14.8 58.3 15.4 55.3 16.3 52.3 17 51.2 17.3 51.1 17.7 51.2 18.3 51.9 19.6 54.3 20.3 56.3 20.6 59 20.5 61.7 20 64 19.1 65.7Z" fill="#2b5db5" fill-rule="evenodd"/>
<path d="M17.7 65.7 16.7 65.5 15.9 64.7 15.3 63 15 61 15.2 58.7 15.7 56.5 16.3 54.8 17 53.9 17.3 53.8 17.7 53.8 18.3 54.3 19.1 55.7 19.8 57.7 20 60 19.8 62.3 19.3 64 18.7 65.1Z" fill="#1fa2dd" fill-rule="evenodd"/>
<path d="M18 64.4 17.3 64.6 16.4 64 15.9 63 15.6 61.3 15.6 59.7 16 57.9 16.7 56.6 17.3 56.2 18 56.4 18.7 57.3 19.3 59.7 19.3 61.3 19 62.7 18.6 63.7Z" fill="#2aa546" fill-rule="evenodd"/>
<path d="M17.7 63.1 17 63.1 16.7 62.7 16.2 61 16.5 59 17 58.3 17.3 58.1 17.7 58.2 18.1 58.7 18.6 60.3 18.3 62.2Z" fill="#ebe01d" fill-rule="evenodd"/>
<path d="M17.7 62.3 17.3 62.4 17 62.2 16.6 61 16.8 59.7 17.3 59 17.8 59.3 18.2 60.3 18.1 61.7Z" fill="#f2921f" fill-rule="evenodd"/>
<path d="M17.3 61.8 17 61.4 16.9 60.7 17 60.1 17.3 59.7 17.7 59.9 17.9 60.7 17.7 61.6Z" fill="#e2231f" fill-rule="evenodd"/>
</g>
</g>
<path transform="translate(214.4 229)" d="M28.8 35.5h1v1h-1zM46.4 40.6h1v1h-1zM33.6 42.1h1v1h-1zM31.4 42.4h1v1h-1zM36.9 34.5h1v1h-1zM45.7 49.8h1v1h-1zM24.1 67.1h1v1h-1zM32.5 42.7h1v1h-1zM12.7 60.7h1v1h-1zM34.2 40h1v1h-1zM20.1 39.6h1v1h-1zM15.8 69.3h1v1h-1zM37.7 41.6h1v1h-1zM52.5 40.4h1v1h-1zM30.6 38.1h1v1h-1zM15.9 36.6h1v1h-1zM43.5 43.9h1v1h-1zM50.5 42.8h1v1h-1zM17.6 33.8h1v1h-1zM31.4 39.9h1v1h-1zM12.8 60.3h1v1h-1zM13.4 50.2h1v1h-1zM29 42.3h1v1h-1zM15.1 69.1h1v1h-1zM12.8 52.5h1v1h-1zM47.4 36.4h1v1h-1zM46 48h1v1h-1zM13 63.9h1v1h-1zM13.7 67.5h1v1h-1zM32.3 65.9h1v1h-1zM41.6 59.6h1v1h-1zM19.4 34.3h1v1h-1zM29.5 66.6h1v1h-1zM42.7 39h1v1h-1zM41 60.7h1v1h-1zM41.8 59h1v1h-1zM44.6 47.6h1v1h-1zM12.8 64.5h1v1h-1zM23.5 66.8h1v1h-1zM49.3 56.1h1v1h-1zM13 57.5h1v1h-1zM13.1 68.2h1v1h-1zM46.5 39.3h1v1h-1zM44.6 46.5h1v1h-1zM13.2 58.7h1v1h-1zM47.2 43.1h1v1h-1zM20.9 39.6h1v1h-1zM26.5 42.4h1v1h-1zM12.3 62.1h1v1h-1zM13.3 61h1v1h-1zM36 63.2h1v1h-1zM14.6 41.4h1v1h-1zM27.2 67.8h1v1h-1zM44.2 59.9h1v1h-1zM12.8 62.1h1v1h-1zM13.1 62.1h1v1h-1zM29.4 42.8h1v1h-1zM37.7 37.5h1v1h-1zM12.5 54.3h1v1h-1zM21.3 68.2h1v1h-1zM41.8 63.6h1v1h-1zM47.5 48.5h1v1h-1zM17.4 29.9h1v1h-1zM28.4 40.4h1v1h-1zM33.8 67.6h1v1h-1zM14.8 33.3h1v1h-1zM35.3 61.2h1v1h-1zM21 68.5h1v1h-1zM48.2 62.8h1v1h-1zM19.9 34.3h1v1h-1zM48.9 42.1h1v1h-1zM13.1 51.7h1v1h-1zM46.8 38.7h1v1h-1zM13.6 65.8h1v1h-1zM13 64.1h1v1h-1zM46.6 57.8h1v1h-1zM52.9 44.8h1v1h-1zM33.2 66.7h1v1h-1zM12.3 62h1v1h-1zM38.6 43.4h1v1h-1zM13.2 64.4h1v1h-1zM37.7 41.2h1v1h-1zM15 68.9h1v1h-1zM32.9 64h1v1h-1zM31 40.9h1v1h-1zM51.1 43.1h1v1h-1zM33.8 42.5h1v1h-1zM35.4 41.8h1v1h-1zM30.1 68h1v1h-1zM13.9 44.9h1v1h-1zM20.1 33.5h1v1h-1zM28.4 42h1v1h-1zM25.7 66.1h1v1h-1zM13.6 67.7h1v1h-1zM35.1 42.6h1v1h-1zM35.3 66.3h1v1h-1zM55 55h1v1h-1zM50.2 51.8h1v1h-1zM46.9 56h1v1h-1zM33.4 34.6h1v1h-1zM41.4 38.9h1v1h-1zM13.3 44.5h1v1h-1zM33.6 65.7h1v1h-1zM13.1 58.5h1v1h-1zM33.1 41.8h1v1h-1zM13.1 60.9h1v1h-1zM15 40.7h1v1h-1zM34.1 36.4h1v1h-1zM38.6 42.9h1v1h-1zM40.2 39.5h1v1h-1zM18.5 69.5h1v1h-1zM16.3 35h1v1h-1zM32.3 42.3h1v1h-1zM15.2 34.6h1v1h-1zM46.4 50.5h1v1h-1zM26.1 67.2h1v1h-1zM55.3 45.7h1v1h-1zM47 49h1v1h-1zM47.4 58.2h1v1h-1zM43.8 55.5h1v1h-1zM19.4 35.8h1v1h-1zM50.2 54.6h1v1h-1zM48.2 40.5h1v1h-1zM40.6 42.7h1v1h-1zM20.1 69.1h1v1h-1zM51.2 45.1h1v1h-1zM12.2 62.7h1v1h-1zM32.2 67.3h1v1h-1zM14.1 47.3h1v1h-1zM48.4 41.9h1v1h-1zM27.8 38.9h1v1h-1zM31.6 68.2h1v1h-1zM42.3 61.5h1v1h-1zM19.7 32.3h1v1h-1z" fill="#5a48a0" fill-opacity="0.4"/>
<g transform="translate(289.9 229)">
<g filter="url(#grain)">
<path d="M18.3 69.3 15.7 69.2 14.7 68.8 13.7 68 13.1 67 12.9 66 12.6 62 12.5 58 12.8 53 14.2 40.3 15.3 35 16 33.4 16.7 32.6 17.3 32.5 18.3 33.5 19.2 35.3 20.7 39.8 21 40.4 21.7 40.8 22.7 40.8 27 39.7 30.7 39.2 34.3 39.1 37.7 39.2 40.7 39.8 43.3 40.8 45.7 42.2 47.7 44 48.9 45.7 49.7 47.7 50.1 49.7 49.9 51.7 49.4 53.7 48.4 55.7 47.1 57.3 45.4 59 43.3 60.5 41.3 61.7 31.8 66 29 66.8 24 67.5 20.7 68.8Z" fill="#b3abd8" fill-rule="evenodd"/>
<path d="M19.3 68.7 18 68.9 16.7 68.9 14.7 68.2 14 67.6 13.5 66.7 13.1 64 12.9 60.3 13 56.3 13.8 48.3 15.2 39 15.9 36.7 16.7 35.5 17.3 35.4 18.2 36.3 20.3 42.1 20.7 42.7 21.3 43.3 22.3 43.4 25.7 42.6 28.7 42.2 32.3 42 35.7 42.1 38 42.5 40.3 43.3 42.3 44.3 43.9 45.7 44.9 47 45.5 48.3 45.8 49.7 45.8 51.3 45.4 53 44.8 54.3 43.8 55.7 42.7 56.9 40 58.9 30.3 64.3 28 65.3 24.3 66.2 21.3 67.9Z" fill="#7f73b8" fill-rule="evenodd"/>
</g><g filter="url(#soft2)">
<path d="M19.3 68.4 18 68.6 16.7 68.6 15.3 68.2 14.5 67.7 13.7 66.3 13.3 63 13.2 59.3 13.4 54.7 14.8 43.7 15.8 39 16.3 37.8 17 37.2 17.7 37.4 18.1 38 20 43.3 20.7 44.5 21.3 45 22.3 45.1 26 44.2 29 44 33.3 44.1 36.7 44.6 39 45.4 41 46.8 42.2 48.3 42.7 50.3 42.6 52 41.9 53.7 40.7 55.3 39.2 56.7 30 62.8 27.7 63.9 24.3 64.8 23.7 65.3 21.5 67.3Z" fill="#5e4f9f" fill-rule="evenodd"/>
<path d="M19.3 68 18 68.3 16.7 68.3 15.3 67.9 14.7 67.4 13.9 66 13.5 63 13.5 56.7 14.5 48.3 15.7 41.6 16.3 39.7 17 39 17.3 39.1 18 39.7 20 45.1 20.7 46.2 21.3 46.6 22.3 46.8 25.3 46.1 27.7 45.8 30.7 46 33.7 46.5 36 47.3 37.7 48.3 38.7 49.7 39 51 38.8 52.3 38.1 53.7 37 55 35.2 56.7 31.3 60 29.3 61.4 27.7 62.2 24 63.5 23.3 64.1 21.2 67Z" fill="#402c86" fill-rule="evenodd"/>
</g><g filter="url(#soft)">
<path d="M18 67 17 67.1 16.3 66.9 15.3 65.9 14.6 63.7 14.3 61 14.5 57.3 15.4 52.3 16.3 49.1 16.9 48 17.3 47.8 17.7 48 18.3 48.9 20.5 53.3 21.2 55.3 21.5 57.7 21.2 61.3 20.5 64.3 19.9 65.7 19.4 66.3Z" fill="#35379a" fill-rule="evenodd"/>
<path d="M18 66.4 17.3 66.5 16.7 66.3 15.7 65.4 15 63.7 14.7 61.3 14.8 58.3 15.4 55.3 16.3 52.3 17 51.2 17.3 51.1 17.7 51.2 18.3 51.9 19.6 54.3 20.3 56.3 20.6 59 20.5 61.7 20 64 19.1 65.7Z" fill="#2b5db5" fill-rule="evenodd"/>
<path d="M17.7 65.7 16.7 65.5 15.9 64.7 15.3 63 15 61 15.2 58.7 15.7 56.5 16.3 54.8 17 53.9 17.3 53.8 17.7 53.8 18.3 54.3 19.1 55.7 19.8 57.7 20 60 19.8 62.3 19.3 64 18.7 65.1Z" fill="#1fa2dd" fill-rule="evenodd"/>
<path d="M18 64.4 17.3 64.6 16.4 64 15.9 63 15.6 61.3 15.6 59.7 16 57.9 16.7 56.6 17.3 56.2 18 56.4 18.7 57.3 19.3 59.7 19.3 61.3 19 62.7 18.6 63.7Z" fill="#2aa546" fill-rule="evenodd"/>
<path d="M17.7 63.1 17 63.1 16.7 62.7 16.2 61 16.5 59 17 58.3 17.3 58.1 17.7 58.2 18.1 58.7 18.6 60.3 18.3 62.2Z" fill="#ebe01d" fill-rule="evenodd"/>
<path d="M17.7 62.3 17.3 62.4 17 62.2 16.6 61 16.8 59.7 17.3 59 17.8 59.3 18.2 60.3 18.1 61.7Z" fill="#f2921f" fill-rule="evenodd"/>
<path d="M17.3 61.8 17 61.4 16.9 60.7 17 60.1 17.3 59.7 17.7 59.9 17.9 60.7 17.7 61.6Z" fill="#e2231f" fill-rule="evenodd"/>
</g>
</g>
<path transform="translate(289.9 229)" d="M16.2 36.8h1v1h-1zM48.1 45.5h1v1h-1zM45.5 46.4h1v1h-1zM22.7 68.9h1v1h-1zM27.2 66.5h1v1h-1zM13.2 59h1v1h-1zM31.2 42.5h1v1h-1zM38 40.4h1v1h-1zM46.4 50.3h1v1h-1zM31.2 37h1v1h-1zM42.9 58.4h1v1h-1zM28.4 42.4h1v1h-1zM21.2 41.2h1v1h-1zM37.4 59.9h1v1h-1zM20.9 68.6h1v1h-1zM46.5 58.1h1v1h-1zM25.6 68.9h1v1h-1zM43.2 45.4h1v1h-1zM27.4 66.8h1v1h-1zM25 43.1h1v1h-1zM13 66.1h1v1h-1zM27.7 42.2h1v1h-1zM22.5 43h1v1h-1zM27.7 67.8h1v1h-1zM53.4 46.5h1v1h-1zM15 42.1h1v1h-1zM38.2 40.9h1v1h-1zM12.2 54.8h1v1h-1zM16 34.5h1v1h-1zM28.1 65.6h1v1h-1zM25.9 66.1h1v1h-1zM12.8 60.8h1v1h-1zM18.4 30.2h1v1h-1zM41.2 58.3h1v1h-1zM42.6 36.1h1v1h-1zM41.6 43.7h1v1h-1zM19.7 35.8h1v1h-1zM12.5 59.9h1v1h-1zM12.5 58.4h1v1h-1zM52.7 40.9h1v1h-1zM45.1 48.7h1v1h-1zM37.2 38.9h1v1h-1zM34.6 64.2h1v1h-1zM26.9 36.4h1v1h-1zM13.4 45.2h1v1h-1zM30.4 66.8h1v1h-1zM21.5 68.4h1v1h-1zM27.8 66.8h1v1h-1zM16.2 68.8h1v1h-1zM13.1 52.8h1v1h-1zM38.2 63.4h1v1h-1zM47.5 51h1v1h-1zM18.4 37.2h1v1h-1zM33.8 39.3h1v1h-1zM39.6 40.5h1v1h-1zM41.3 42.8h1v1h-1zM29 35.8h1v1h-1zM43.3 57.7h1v1h-1zM27.6 66.7h1v1h-1zM29.2 40.5h1v1h-1zM28 41.9h1v1h-1zM32.7 42.4h1v1h-1zM12.3 58.7h1v1h-1zM43.6 39.7h1v1h-1zM19.1 34.4h1v1h-1zM42 43h1v1h-1zM29.8 41.7h1v1h-1zM13.9 46.2h1v1h-1zM34.2 40h1v1h-1zM13.8 47.7h1v1h-1zM12.7 55.5h1v1h-1zM21.3 39.2h1v1h-1zM29 65.2h1v1h-1zM44.7 40.5h1v1h-1zM52.1 45.7h1v1h-1zM20.1 69.5h1v1h-1zM38.2 63.7h1v1h-1zM55.7 49.1h1v1h-1zM46.3 52.6h1v1h-1zM20.2 37.4h1v1h-1zM31.8 65h1v1h-1zM30.2 35.5h1v1h-1zM29.3 37.9h1v1h-1zM12.4 49.7h1v1h-1zM12.1 65.2h1v1h-1zM51.7 52.1h1v1h-1zM42.1 56.9h1v1h-1zM23.7 41.7h1v1h-1zM12.8 66.3h1v1h-1zM49.4 54.2h1v1h-1zM45.1 51.4h1v1h-1zM35.9 61.1h1v1h-1zM40.2 37h1v1h-1zM13.3 67.5h1v1h-1zM29.4 65.6h1v1h-1zM19.7 38.1h1v1h-1zM35.8 42.5h1v1h-1zM41.1 65.1h1v1h-1zM34.1 42.7h1v1h-1zM13.3 55.7h1v1h-1zM12.8 60.5h1v1h-1zM35.1 65h1v1h-1zM52.2 49h1v1h-1zM30.1 38.3h1v1h-1zM12.7 65h1v1h-1zM48.2 54.7h1v1h-1zM52.7 40.7h1v1h-1zM17.4 69.2h1v1h-1zM12.5 53.5h1v1h-1zM12.2 61.2h1v1h-1zM27.4 39.7h1v1h-1zM17 33.3h1v1h-1zM37.6 40h1v1h-1zM41.7 44.4h1v1h-1zM22.2 68.1h1v1h-1zM18 33.7h1v1h-1zM15.1 68.8h1v1h-1zM13 57.4h1v1h-1zM33.7 62.6h1v1h-1zM27.7 65.6h1v1h-1zM47.4 38.4h1v1h-1zM14.8 39.8h1v1h-1zM55.4 47.1h1v1h-1zM43.6 60.5h1v1h-1zM26.7 42.3h1v1h-1zM31.8 65.5h1v1h-1zM16.4 35.9h1v1h-1zM50.3 45.4h1v1h-1zM22.7 68.8h1v1h-1zM55.9 51.2h1v1h-1zM14.5 41.5h1v1h-1zM38.5 40.4h1v1h-1zM13.2 63.7h1v1h-1zM13.1 60h1v1h-1zM26.6 65.4h1v1h-1zM45.4 43.2h1v1h-1zM39.9 37.3h1v1h-1z" fill="#5a48a0" fill-opacity="0.4"/>
<g transform="translate(365.5 229)">
<g filter="url(#grain)">
<path d="M18.3 69.3 15.7 69.2 14.7 68.8 13.7 68 13.1 67 12.9 66 12.6 62 12.5 58 12.8 53 14.2 40.3 15.3 35 16 33.4 16.7 32.6 17.3 32.5 18.3 33.5 19.2 35.3 20.7 39.8 21 40.4 21.7 40.8 22.7 40.8 27 39.7 30.7 39.2 34.3 39.1 37.7 39.2 40.7 39.8 43.3 40.8 45.7 42.2 47.7 44 48.9 45.7 49.7 47.7 50.1 49.7 49.9 51.7 49.4 53.7 48.4 55.7 47.1 57.3 45.4 59 43.3 60.5 41.3 61.7 31.8 66 29 66.8 24 67.5 20.7 68.8Z" fill="#b3abd8" fill-rule="evenodd"/>
<path d="M19.3 68.7 18 68.9 16.7 68.9 14.7 68.2 14 67.6 13.5 66.7 13.1 64 12.9 60.3 13 56.3 13.8 48.3 15.2 39 15.9 36.7 16.7 35.5 17.3 35.4 18.2 36.3 20.3 42.1 20.7 42.7 21.3 43.3 22.3 43.4 25.7 42.6 28.7 42.2 32.3 42 35.7 42.1 38 42.5 40.3 43.3 42.3 44.3 43.9 45.7 44.9 47 45.5 48.3 45.8 49.7 45.8 51.3 45.4 53 44.8 54.3 43.8 55.7 42.7 56.9 40 58.9 30.3 64.3 28 65.3 24.3 66.2 21.3 67.9Z" fill="#7f73b8" fill-rule="evenodd"/>
</g><g filter="url(#soft2)">
<path d="M19.3 68.4 18 68.6 16.7 68.6 15.3 68.2 14.5 67.7 13.7 66.3 13.3 63 13.2 59.3 13.4 54.7 14.8 43.7 15.8 39 16.3 37.8 17 37.2 17.7 37.4 18.1 38 20 43.3 20.7 44.5 21.3 45 22.3 45.1 26 44.2 29 44 33.3 44.1 36.7 44.6 39 45.4 41 46.8 42.2 48.3 42.7 50.3 42.6 52 41.9 53.7 40.7 55.3 39.2 56.7 30 62.8 27.7 63.9 24.3 64.8 23.7 65.3 21.5 67.3Z" fill="#5e4f9f" fill-rule="evenodd"/>
<path d="M19.3 68 18 68.3 16.7 68.3 15.3 67.9 14.7 67.4 13.9 66 13.5 63 13.5 56.7 14.5 48.3 15.7 41.6 16.3 39.7 17 39 17.3 39.1 18 39.7 20 45.1 20.7 46.2 21.3 46.6 22.3 46.8 25.3 46.1 27.7 45.8 30.7 46 33.7 46.5 36 47.3 37.7 48.3 38.7 49.7 39 51 38.8 52.3 38.1 53.7 37 55 35.2 56.7 31.3 60 29.3 61.4 27.7 62.2 24 63.5 23.3 64.1 21.2 67Z" fill="#402c86" fill-rule="evenodd"/>
</g><g filter="url(#soft)">
<path d="M18 67 17 67.1 16.3 66.9 15.3 65.9 14.6 63.7 14.3 61 14.5 57.3 15.4 52.3 16.3 49.1 16.9 48 17.3 47.8 17.7 48 18.3 48.9 20.5 53.3 21.2 55.3 21.5 57.7 21.2 61.3 20.5 64.3 19.9 65.7 19.4 66.3Z" fill="#35379a" fill-rule="evenodd"/>
<path d="M18 66.4 17.3 66.5 16.7 66.3 15.7 65.4 15 63.7 14.7 61.3 14.8 58.3 15.4 55.3 16.3 52.3 17 51.2 17.3 51.1 17.7 51.2 18.3 51.9 19.6 54.3 20.3 56.3 20.6 59 20.5 61.7 20 64 19.1 65.7Z" fill="#2b5db5" fill-rule="evenodd"/>
<path d="M17.7 65.7 16.7 65.5 15.9 64.7 15.3 63 15 61 15.2 58.7 15.7 56.5 16.3 54.8 17 53.9 17.3 53.8 17.7 53.8 18.3 54.3 19.1 55.7 19.8 57.7 20 60 19.8 62.3 19.3 64 18.7 65.1Z" fill="#1fa2dd" fill-rule="evenodd"/>
<path d="M18 64.4 17.3 64.6 16.4 64 15.9 63 15.6 61.3 15.6 59.7 16 57.9 16.7 56.6 17.3 56.2 18 56.4 18.7 57.3 19.3 59.7 19.3 61.3 19 62.7 18.6 63.7Z" fill="#2aa546" fill-rule="evenodd"/>
<path d="M17.7 63.1 17 63.1 16.7 62.7 16.2 61 16.5 59 17 58.3 17.3 58.1 17.7 58.2 18.1 58.7 18.6 60.3 18.3 62.2Z" fill="#ebe01d" fill-rule="evenodd"/>
<path d="M17.7 62.3 17.3 62.4 17 62.2 16.6 61 16.8 59.7 17.3 59 17.8 59.3 18.2 60.3 18.1 61.7Z" fill="#f2921f" fill-rule="evenodd"/>
<path d="M17.3 61.8 17 61.4 16.9 60.7 17 60.1 17.3 59.7 17.7 59.9 17.9 60.7 17.7 61.6Z" fill="#e2231f" fill-rule="evenodd"/>
</g>
</g>
<path transform="translate(365.5 229)" d="M54.5 42.2h1v1h-1zM12.6 59.2h1v1h-1zM12.5 54.2h1v1h-1zM21.6 68h1v1h-1zM18.3 33.6h1v1h-1zM45.8 46h1v1h-1zM46.7 56.5h1v1h-1zM12.2 55.1h1v1h-1zM49.5 61.5h1v1h-1zM40.6 42.9h1v1h-1zM24.6 43.1h1v1h-1zM12.7 66.6h1v1h-1zM23.4 67.7h1v1h-1zM30.8 64.8h1v1h-1zM38.1 40.6h1v1h-1zM15.8 69.3h1v1h-1zM27.3 68.5h1v1h-1zM30.1 39.1h1v1h-1zM53 50h1v1h-1zM53.5 47.9h1v1h-1zM32.3 63h1v1h-1zM14.1 40.9h1v1h-1zM13.4 43h1v1h-1zM34.4 39.3h1v1h-1zM13 54.9h1v1h-1zM34.9 38.2h1v1h-1zM38 41.5h1v1h-1zM47.1 51.7h1v1h-1zM35.3 62.7h1v1h-1zM14.3 36.1h1v1h-1zM42.5 37.2h1v1h-1zM55.3 53.3h1v1h-1zM42.7 61.8h1v1h-1zM21.2 68.1h1v1h-1zM51.7 47.8h1v1h-1zM16.8 30.2h1v1h-1zM13.1 64.4h1v1h-1zM22.4 43.4h1v1h-1zM25.7 68.5h1v1h-1zM20.5 42.4h1v1h-1zM46.3 52.3h1v1h-1zM40.2 34.7h1v1h-1zM15.9 34.4h1v1h-1zM43.1 44.2h1v1h-1zM15.3 37.4h1v1h-1zM34.9 37.6h1v1h-1zM13.9 43.1h1v1h-1zM13.5 51h1v1h-1zM12.2 56.3h1v1h-1zM15.2 69.2h1v1h-1zM44.1 62.3h1v1h-1zM19.2 35.6h1v1h-1zM12.3 57h1v1h-1zM13.1 62.2h1v1h-1zM39.9 43.2h1v1h-1zM15.5 69.5h1v1h-1zM33.5 39.5h1v1h-1zM31.9 37.6h1v1h-1zM22.3 43.1h1v1h-1zM33.7 63h1v1h-1zM45.5 36.8h1v1h-1zM12.6 63.3h1v1h-1zM32.7 36.4h1v1h-1zM21.8 40h1v1h-1zM46.4 50.2h1v1h-1zM14.6 42.9h1v1h-1zM13.5 67.2h1v1h-1zM18.7 69.1h1v1h-1zM12.2 54.9h1v1h-1zM16 37.3h1v1h-1zM12.2 53.7h1v1h-1zM42.3 59.6h1v1h-1zM14.5 44.3h1v1h-1zM45.3 52h1v1h-1zM24.8 66.9h1v1h-1zM38.4 59.5h1v1h-1zM35.1 41h1v1h-1zM22.7 43.9h1v1h-1zM44.7 53h1v1h-1zM22.7 69.1h1v1h-1zM36.9 41.4h1v1h-1zM12.9 64.5h1v1h-1zM49.2 46.6h1v1h-1zM34.7 61.8h1v1h-1zM50.4 49.4h1v1h-1zM34.8 67.7h1v1h-1zM42.4 57.8h1v1h-1zM23.6 69h1v1h-1zM29.5 36.8h1v1h-1zM22.2 67.7h1v1h-1zM13.3 63h1v1h-1zM38.1 59.4h1v1h-1zM30.4 40.4h1v1h-1zM32.5 42h1v1h-1zM16.1 69.6h1v1h-1zM47.9 52.9h1v1h-1zM25.4 67.7h1v1h-1zM13.4 68.2h1v1h-1zM44.8 64.8h1v1h-1zM12.8 54.8h1v1h-1zM25.3 40.7h1v1h-1zM43.9 55.5h1v1h-1zM33.1 66.3h1v1h-1zM44.2 41.4h1v1h-1zM13.1 50h1v1h-1zM20.3 68.3h1v1h-1zM46.9 46.9h1v1h-1zM42 37.3h1v1h-1zM41.5 43.9h1v1h-1zM35.8 61.3h1v1h-1zM37 34h1v1h-1zM41.9 62.5h1v1h-1zM23.9 40.5h1v1h-1zM47.4 46.6h1v1h-1zM20.4 42.9h1v1h-1zM33.1 63.2h1v1h-1zM19.3 33.6h1v1h-1zM41.3 61.9h1v1h-1zM44.9 38.9h1v1h-1zM37.7 60.4h1v1h-1zM13.5 41.7h1v1h-1zM52.6 43.5h1v1h-1zM36.2 42.3h1v1h-1zM49.1 52.2h1v1h-1zM46.9 51.7h1v1h-1zM12.4 62.3h1v1h-1zM48.1 46.7h1v1h-1zM20.8 36.9h1v1h-1zM20.9 40.8h1v1h-1zM51.6 52.6h1v1h-1zM47 44.6h1v1h-1zM12.6 67.2h1v1h-1zM12.2 56.4h1v1h-1zM30.2 40.1h1v1h-1z" fill="#5a48a0" fill-opacity="0.4"/>
<g transform="translate(441.5 229)">
<g filter="url(#grain)">
<path d="M18.3 69.3 15.7 69.2 14.7 68.8 13.7 68 13.1 67 12.9 66 12.6 62 12.8 54 14.5 38.7 15.5 34.3 16.3 32.9 17 32.5 17.3 32.5 18 33 18.9 34.7 19.6 37 20.7 42.5 21 43.6 21.7 44.9 22.3 45.5 23 45.8 28.3 46.4 30.7 47.1 32.6 48 34 49 35.3 50.3 35.9 51.7 36.2 53.3 35.9 55.3 35 57.3 32.9 60 30.3 62.7 28.2 64.3 25 65.9 22 68.2 20.3 68.9Z" fill="#b3abd8" fill-rule="evenodd"/>
<path d="M19 68.7 17.7 68.9 16.3 68.8 15.3 68.5 14.3 67.9 13.8 67.3 13.4 66.3 13.1 63.3 13 59.7 13.1 55.3 14.8 41.3 15.7 37.3 16.3 35.9 17 35.4 17.7 35.6 18 36 18.6 37.3 20.3 44.6 21.3 47.1 22 47.9 23 48.5 26.7 49.5 28.7 50.5 29.6 51.3 30.3 52.3 30.9 54.3 30.8 55.7 30.5 57 29.7 58.7 28.8 60 27.5 61.3 24.7 63.5 22.9 66.3 22 67.3 20.7 68.2Z" fill="#7f73b8" fill-rule="evenodd"/>
</g><g filter="url(#soft2)">
<path d="M19.3 68.3 18 68.6 16.7 68.6 15.3 68.2 14.5 67.7 13.7 66.3 13.3 63 13.2 59.3 13.4 55 14.9 43.3 15.8 39 16.3 37.8 17 37.2 17.7 37.5 18.3 38.7 20.3 46.3 21.3 48.7 23 50.5 25.8 52 26.7 52.7 27.7 54 28 55.3 27.8 56.7 27.3 58 26.6 59 24.3 61.5 22.2 66.3 21 67.6Z" fill="#5e4f9f" fill-rule="evenodd"/>
<path d="M19.3 68 18 68.3 16.7 68.3 15.3 67.9 14.7 67.4 13.9 66 13.5 63 13.4 59.7 13.6 56.3 15.1 45 16 40.6 16.5 39.7 17 39.1 17.7 39.4 18.3 40.8 19.7 46.2 20.7 49 23.9 54.3 24.4 56 24.2 58 21.9 65.7 21 67.1Z" fill="#402c86" fill-rule="evenodd"/>
</g><g filter="url(#soft)">
<path d="M18 67 17 67.1 16.3 66.9 15.4 66 14.7 64.3 14.3 61.3 14.5 57.7 15.3 53.2 16.3 49.7 17 48.6 17.3 48.6 17.7 48.8 18.3 50 20.1 54.3 20.8 57 21 59.3 20.9 62.3 20.2 65 19.3 66.3Z" fill="#35379a" fill-rule="evenodd"/>
<path d="M18 66.4 17.3 66.5 16.7 66.3 15.7 65.4 15 63.7 14.7 61.3 14.8 58.7 15.4 55.7 16.3 52.9 17 51.9 17.3 51.8 17.7 51.9 18.3 52.7 19.4 55 20.1 57.3 20.4 59.7 20.3 62.3 19.8 64.3 19 65.7Z" fill="#2b5db5" fill-rule="evenodd"/>
<path d="M17.7 65.7 16.7 65.5 15.9 64.7 15.3 63 15.1 61 15.2 58.7 15.7 56.7 16.3 55.1 17 54.3 17.3 54.2 18 54.5 19 56 19.7 58 19.9 60 19.8 62 19.3 63.9 18.7 65.1Z" fill="#1fa2dd" fill-rule="evenodd"/>
<path d="M18 64.4 17.7 64.6 17 64.5 16.4 64 15.9 63 15.6 61.3 15.6 59.7 16 58 16.7 56.8 17.3 56.4 18 56.6 18.5 57.3 19 58.5 19.2 60 19 62.7 18.6 63.7Z" fill="#2aa546" fill-rule="evenodd"/>
<path d="M17.7 63.1 17 63.1 16.7 62.7 16.2 61 16.6 59 17 58.3 17.3 58.2 17.7 58.3 18 58.7 18.5 60.3 18.3 62.2Z" fill="#ebe01d" fill-rule="evenodd"/>
<path d="M17.7 62.3 17.3 62.5 17 62.3 16.6 61.3 16.7 60 17 59.3 17.3 59.1 17.8 59.3 18.1 60.3 18 61.7Z" fill="#f2921f" fill-rule="evenodd"/>
<path d="M17.3 61.8 17 61.5 16.9 60.7 17 60.1 17.3 59.7 17.7 59.9 17.8 60.7 17.7 61.6Z" fill="#e2231f" fill-rule="evenodd"/>
</g>
</g>
<path transform="translate(441.5 229)" d="M36.5 63.1h1v1h-1zM16.6 33.2h1v1h-1zM23.4 44h1v1h-1zM12.6 60.1h1v1h-1zM33.8 48.3h1v1h-1zM13.6 42.9h1v1h-1zM13.4 68.2h1v1h-1zM19 68.8h1v1h-1zM12.7 64h1v1h-1zM14.6 46h1v1h-1zM25.7 47.1h1v1h-1zM24.2 66h1v1h-1zM23.7 66.2h1v1h-1zM20.6 43.8h1v1h-1zM12.4 60h1v1h-1zM21.9 43.4h1v1h-1zM31.5 61.9h1v1h-1zM12.7 62.3h1v1h-1zM18.9 35h1v1h-1zM12.5 59.8h1v1h-1zM22.7 66.3h1v1h-1zM22.3 68.2h1v1h-1zM30.6 52.5h1v1h-1zM33 48.5h1v1h-1zM12.5 59h1v1h-1zM20.5 37.8h1v1h-1zM37.9 58.4h1v1h-1zM19.1 32.5h1v1h-1zM14.9 42.5h1v1h-1zM22.4 41.7h1v1h-1zM12.8 63.7h1v1h-1zM31.2 66.2h1v1h-1zM16.8 69.5h1v1h-1zM15 39.8h1v1h-1zM21.5 45.3h1v1h-1zM24.8 65h1v1h-1zM22.7 66.4h1v1h-1zM29.9 48.6h1v1h-1zM30.5 51h1v1h-1zM34.2 55.6h1v1h-1zM32.1 58.4h1v1h-1zM32.9 61.9h1v1h-1zM12.3 62.8h1v1h-1zM33.8 45.9h1v1h-1zM16 30.6h1v1h-1zM13 57.6h1v1h-1zM13.8 48h1v1h-1zM39.7 52.5h1v1h-1zM16 69.1h1v1h-1zM26.7 48.9h1v1h-1zM21.5 46h1v1h-1zM30 52.7h1v1h-1zM13 65.3h1v1h-1zM27.2 65.7h1v1h-1zM35.6 64.7h1v1h-1zM27.5 49.7h1v1h-1zM26.5 44.5h1v1h-1zM28.9 48.1h1v1h-1zM22.7 45.9h1v1h-1zM12.7 57.7h1v1h-1zM39.1 57.5h1v1h-1zM41.8 49.8h1v1h-1zM13 53.9h1v1h-1zM13.3 54.3h1v1h-1zM14.3 42.3h1v1h-1zM14.1 69.6h1v1h-1zM13.1 58.8h1v1h-1zM34.6 49.5h1v1h-1zM18.1 35.5h1v1h-1zM12.9 57.1h1v1h-1zM33.8 59.7h1v1h-1zM26.1 50.3h1v1h-1zM12.4 60.6h1v1h-1zM21.9 48.1h1v1h-1zM17.8 34.1h1v1h-1zM24.8 65.7h1v1h-1zM15.2 68.8h1v1h-1zM21.5 44h1v1h-1zM15 36.9h1v1h-1zM23.1 47.3h1v1h-1zM18.1 35.5h1v1h-1zM30.9 64.6h1v1h-1zM38.2 53.3h1v1h-1zM23.8 66.4h1v1h-1zM27.4 64.1h1v1h-1zM13.3 58.9h1v1h-1zM16.2 69.5h1v1h-1zM14.8 39.1h1v1h-1zM29.5 51.5h1v1h-1zM13.2 67.4h1v1h-1zM21.4 46h1v1h-1zM15 42.5h1v1h-1zM14 68.3h1v1h-1zM36.2 62.6h1v1h-1zM27.5 61.2h1v1h-1zM32.6 58.2h1v1h-1zM37.1 48.5h1v1h-1zM13.2 62.5h1v1h-1zM23.6 68.4h1v1h-1zM36.2 65h1v1h-1zM12.9 60.7h1v1h-1zM33.2 63.7h1v1h-1zM26.3 67.9h1v1h-1zM13.2 56.7h1v1h-1zM12.7 60.3h1v1h-1zM14.8 34.1h1v1h-1zM13 57.4h1v1h-1zM23.5 68.5h1v1h-1zM35.3 57.7h1v1h-1zM21.5 40.4h1v1h-1zM22.9 68.1h1v1h-1zM13.3 52.9h1v1h-1zM18.9 30h1v1h-1zM37.3 49.6h1v1h-1zM13.4 65.5h1v1h-1zM12.2 61.4h1v1h-1zM13.2 68.1h1v1h-1zM40.6 46.4h1v1h-1zM29.5 61.4h1v1h-1zM13.9 68.9h1v1h-1zM12.5 61.5h1v1h-1zM29.1 66.1h1v1h-1zM26.6 67.5h1v1h-1zM26.7 61.4h1v1h-1zM27.7 61h1v1h-1zM27.1 61.5h1v1h-1zM13.6 65.8h1v1h-1zM12.7 54.9h1v1h-1zM12.4 55.8h1v1h-1zM14.6 41.7h1v1h-1zM17.6 69.1h1v1h-1zM30.5 62.4h1v1h-1zM24.6 66.1h1v1h-1zM16.8 33.9h1v1h-1zM13 51.6h1v1h-1zM35.5 60.3h1v1h-1zM15.2 30.6h1v1h-1zM20.8 45h1v1h-1zM29.2 66.7h1v1h-1zM37.3 59.6h1v1h-1zM32.4 51.3h1v1h-1zM40 50.7h1v1h-1zM20.1 39.9h1v1h-1zM14.9 69.4h1v1h-1zM27.6 46.1h1v1h-1zM28.7 64.9h1v1h-1z" fill="#5a48a0" fill-opacity="0.4"/>
<g transform="translate(138.5 325.2)">
<g filter="url(#grain)">
<path d="M19.3 68.3 17.7 68.6 16 68.6 14.3 68.2 13.3 67.8 12.4 67 12 66.3 11.4 63.7 11.3 57.3 11.9 50.3 14.4 35.7 15.3 32.7 16.3 31.4 16.7 31.3 17.3 31.5 18.3 32.8 19.2 35.3 20.7 41.3 21.3 42.5 22 43 22.7 43.1 24 43 39.7 39.8 42.7 39.5 45.3 39.4 49 39.8 52 40.7 54.7 42.2 56.3 44 57.1 45.7 57.3 47.3 57.1 49 56.4 51 55.3 53 53.6 55 51.7 56.8 49.3 58.5 45 60.9 33.7 65.8 29.7 66.7 23.3 67.3Z" fill="#b3abd8" fill-rule="evenodd"/>
<path d="M18.3 68 16.7 68.1 15.3 68 14 67.6 13.1 67 12.5 66.3 12.2 65.3 11.8 62.3 11.8 56 12.4 50.3 14.8 38 15.5 35.7 16.3 34.6 17 34.4 17.3 34.6 18 35.5 18.8 37.7 20.3 43.4 21 44.7 22 45.4 23.7 45.5 31.3 44.3 39 42.8 43 42.6 46 42.9 48.3 43.5 50.3 44.7 51.5 46 52.1 47.3 52.3 48.7 52.1 50 51.6 51.3 50.8 52.7 49.7 54 48.3 55.3 46.3 56.8 43.3 58.5 37.3 61.3 31 65 28.3 65.8 23.7 66.4 20.3 67.5Z" fill="#7f73b8" fill-rule="evenodd"/>
</g><g filter="url(#soft2)">
<path d="M18.3 67.7 17 67.9 15.7 67.7 14.3 67.3 13.3 66.7 12.5 65.3 12.1 62.3 12 57 12.5 52 14.9 40 15.7 37.6 16.3 36.6 17 36.4 17.8 37.3 18.5 39 20.3 45 21 46.2 22 46.9 23.7 47 32.7 46 38.7 45.1 41.3 44.9 43.3 45.1 45.3 45.6 46.8 46.3 47.8 47.3 48.3 48.3 48.5 49.3 48 51.3 46.7 53.3 44.3 55.3 42.2 56.7 36.7 59.5 31.7 63 29.7 64.2 27.7 64.9 24 65.5 20.3 67.2Z" fill="#5e4f9f" fill-rule="evenodd"/>
<path d="M18.7 67.4 17.3 67.6 16 67.5 14.7 67.2 13.8 66.7 13.2 66 12.8 65.3 12.4 62.7 12.3 57.7 12.8 52.3 15.2 41.3 15.7 39.8 16.3 38.7 17 38.5 17.7 39.2 20 46.1 21 47.7 22 48.4 23.3 48.7 27.3 48.3 33 48.2 39.3 47.9 40.8 48 41.9 48.3 43.3 49.3 43.6 50 43.5 51 43.1 52 42.3 53 40.7 54.3 35.7 57.6 30.8 61.7 28 63.2 24 64.3 21 66.5Z" fill="#402c86" fill-rule="evenodd"/>
</g><g filter="url(#soft)">
<path d="M17.7 66.4 16.7 66.4 15.7 66.2 14.5 65.3 13.7 63.3 13.3 60.3 13.5 57 14.2 53.3 15.8 48.7 16.3 47.8 17 47.5 17.3 47.6 18 48.5 20.2 53 21.2 55.7 21.4 57.7 21.2 61 20.2 64.3 19.2 65.7Z" fill="#35379a" fill-rule="evenodd"/>
<path d="M17.7 65.8 16.3 65.8 15.7 65.5 15 65 14.1 63 13.8 60.3 13.9 57.3 14.7 54.3 16 51.2 16.7 50.5 17 50.4 17.3 50.5 18 51.2 19.4 53.7 20.2 56 20.5 58.3 20.4 60.7 19.8 63.3 18.9 65Z" fill="#2b5db5" fill-rule="evenodd"/>
<path d="M17.7 65.1 17 65.2 16.3 65.1 15.3 64.3 14.6 62.7 14.2 60.3 14.4 57.7 15 55.3 16 53.4 16.7 52.8 17 52.7 18 53.3 18.8 54.7 19.5 56.7 19.8 58.7 19.8 60.7 19.4 62.7 18.7 64.2Z" fill="#1fa2dd" fill-rule="evenodd"/>
<path d="M17 64.1 16.3 63.9 15.5 63 15 61.7 14.8 60 15 58.3 15.4 56.7 16 55.6 16.3 55.3 17 55 17.7 55.3 18.4 56.3 18.9 58 19.1 59.7 18.9 61.3 18.5 62.7 17.8 63.7Z" fill="#2aa546" fill-rule="evenodd"/>
<path d="M17.3 62.4 16.7 62.6 16.3 62.3 15.9 61.7 15.6 60.3 15.6 59 16 57.8 16.3 57.3 17 57 17.5 57.3 17.9 58 18.2 59.7 18 61.3Z" fill="#ebe01d" fill-rule="evenodd"/>
<path d="M17 61.8 16.7 61.7 16.3 61.4 16 60 16.3 58.4 16.7 58 17 58 17.6 58.7 17.8 60 17.6 61Z" fill="#f2921f" fill-rule="evenodd"/>
<path d="M17 61.1 16.7 61 16.3 60 16.6 59 17 58.7 17.3 59.2 17.4 60 17.3 60.7Z" fill="#e2231f" fill-rule="evenodd"/>
</g>
</g>
<path transform="translate(138.5 325.2)" d="M10.8 55.6h1v1h-1zM50.6 44.5h1v1h-1zM12.2 64.4h1v1h-1zM58 57.3h1v1h-1zM23.5 66.7h1v1h-1zM46.3 58.6h1v1h-1zM36.5 41.3h1v1h-1zM37.1 39.4h1v1h-1zM26.2 67.5h1v1h-1zM10.8 57.4h1v1h-1zM20.3 32.8h1v1h-1zM35.5 41.1h1v1h-1zM19 37.1h1v1h-1zM19.7 35.4h1v1h-1zM53.8 35.5h1v1h-1zM13.9 67.8h1v1h-1zM40.7 37.7h1v1h-1zM12.6 67.2h1v1h-1zM17.9 69.6h1v1h-1zM52.3 51.7h1v1h-1zM42.2 58.7h1v1h-1zM22.1 68h1v1h-1zM32.4 40.9h1v1h-1zM35 66.9h1v1h-1zM51.8 45.2h1v1h-1zM31 44.4h1v1h-1zM11.2 59.1h1v1h-1zM41.1 37.3h1v1h-1zM26.4 45.6h1v1h-1zM33 37.5h1v1h-1zM55.4 47.9h1v1h-1zM50.1 39.7h1v1h-1zM33.5 65.7h1v1h-1zM17.5 35.2h1v1h-1zM20.2 40.1h1v1h-1zM31.5 43.5h1v1h-1zM39.3 62.9h1v1h-1zM20.4 68.1h1v1h-1zM21.9 42.9h1v1h-1zM50.4 45h1v1h-1zM44.4 42.7h1v1h-1zM19.2 38.1h1v1h-1zM12.3 54.4h1v1h-1zM49.8 34.5h1v1h-1zM32.2 66.1h1v1h-1zM25.6 42.7h1v1h-1zM40.6 41.7h1v1h-1zM16.7 69.1h1v1h-1zM57.2 45.7h1v1h-1zM57 56.3h1v1h-1zM51.2 54.7h1v1h-1zM61.7 48h1v1h-1zM15.5 68.5h1v1h-1zM42.5 38.8h1v1h-1zM13.8 42.9h1v1h-1zM12.4 44.4h1v1h-1zM12.2 50.3h1v1h-1zM15.8 30.8h1v1h-1zM18.2 30.7h1v1h-1zM13 67h1v1h-1zM34.1 44.2h1v1h-1zM48.9 40.1h1v1h-1zM12.8 68.2h1v1h-1zM11.6 54.2h1v1h-1zM51.7 47.7h1v1h-1zM47.7 60.2h1v1h-1zM16.4 34h1v1h-1zM57.6 50.3h1v1h-1zM39.3 38.7h1v1h-1zM25.5 66.4h1v1h-1zM38 41.1h1v1h-1zM21.3 39h1v1h-1zM18.9 69h1v1h-1zM22.6 45.8h1v1h-1zM19.7 33.9h1v1h-1zM40.9 41.6h1v1h-1zM10.7 62.7h1v1h-1zM24 66.9h1v1h-1zM44.8 62.3h1v1h-1zM28.8 45.2h1v1h-1zM41.4 61.1h1v1h-1zM19.5 69h1v1h-1zM38.3 63.4h1v1h-1zM33.9 44.2h1v1h-1zM59.5 48.6h1v1h-1zM11.1 64.5h1v1h-1zM25.4 67.9h1v1h-1zM28.7 42.5h1v1h-1zM13.3 35.6h1v1h-1zM53 59.7h1v1h-1zM25.3 41.7h1v1h-1zM21.2 43.5h1v1h-1zM53.6 38.5h1v1h-1zM37.3 42.2h1v1h-1zM52 50.1h1v1h-1zM11.7 61.9h1v1h-1zM51.5 62h1v1h-1zM28 41.2h1v1h-1zM58.8 49.7h1v1h-1zM52.2 49.8h1v1h-1zM42.6 58.6h1v1h-1zM37.8 40.7h1v1h-1zM37.6 37h1v1h-1zM14.8 68h1v1h-1zM24.4 66.6h1v1h-1zM17.8 29.6h1v1h-1zM41.3 40h1v1h-1zM49.7 54.8h1v1h-1zM11.7 65.2h1v1h-1zM20.1 67.9h1v1h-1zM30.5 45.2h1v1h-1zM44.9 64.1h1v1h-1zM45.1 65.4h1v1h-1zM11.4 64.3h1v1h-1zM33.7 42.7h1v1h-1zM47.8 55.4h1v1h-1zM20.5 43.6h1v1h-1zM56.2 55.2h1v1h-1zM10.9 61.9h1v1h-1zM12.5 67h1v1h-1zM28.8 43.3h1v1h-1zM54.7 48.3h1v1h-1zM56.3 47.9h1v1h-1zM20.2 68.9h1v1h-1zM17 68.6h1v1h-1zM13.1 36.5h1v1h-1zM22.2 42h1v1h-1zM36.9 61.4h1v1h-1zM12.3 64.3h1v1h-1zM11.1 56.2h1v1h-1zM41.9 64.1h1v1h-1zM59.9 46.3h1v1h-1zM19.6 69.3h1v1h-1zM20.3 68.1h1v1h-1zM12.4 65.9h1v1h-1zM14.1 68.2h1v1h-1zM44.7 60.2h1v1h-1zM24.1 42.8h1v1h-1zM33.8 64.9h1v1h-1zM65.1 43.6h1v1h-1zM53.6 45.5h1v1h-1zM18.6 68.2h1v1h-1zM30.7 67.3h1v1h-1zM32.8 64.5h1v1h-1zM56.4 43h1v1h-1zM50.4 44.7h1v1h-1zM15.8 69h1v1h-1z" fill="#5a48a0" fill-opacity="0.4"/>
<g transform="translate(214.4 325.2)">
<g filter="url(#grain)">
<path d="M19.3 68.3 17.7 68.6 16 68.6 14.3 68.2 13.3 67.8 12.4 67 12 66.3 11.6 65 11.4 63.3 11.3 58.7 11.5 53.3 13.8 38.3 14.5 35.3 15.1 33.3 16 31.7 16.7 31.3 17.3 31.5 17.7 31.8 18.5 33.3 19.4 36.3 20.7 42.3 21.3 43.8 22 44.6 22.7 44.9 23.7 45.1 29 45.1 35 45.5 37.7 45.9 40.3 46.7 43 48 45 49.7 46.3 51.7 46.8 53.7 46.8 55 46.5 56.3 45.9 57.7 45.1 59 43 61.3 39.7 63.6 36.5 65 32.7 66.1 29 66.8 23.5 67.3Z" fill="#b3abd8" fill-rule="evenodd"/>
<path d="M18.3 68 16.7 68.1 15 67.9 14 67.5 13 66.9 12.6 66.3 12.2 65.3 11.8 62 11.8 56 12.5 50.3 14.9 37.7 15.7 35.5 16 34.9 16.7 34.4 17.3 34.6 18.2 36 18.9 38 20.3 44.3 21 45.7 21.7 46.5 22.3 46.9 23.3 47.1 27.7 47.3 31 47.6 35 48.2 37.7 49 39.8 50 41.3 51.3 42.2 52.7 42.7 54.3 42.6 55.7 42.3 56.7 41 58.8 38.7 60.9 35.2 63 32.1 64.7 29.7 65.6 27.7 66 23.3 66.6Z" fill="#7f73b8" fill-rule="evenodd"/>
</g><g filter="url(#soft2)">
<path d="M18.7 67.7 17 67.9 15.7 67.7 14.3 67.3 13.3 66.7 12.5 65.3 12.1 62.3 12.1 56.3 12.7 51 15.1 39.3 15.8 37.3 16.7 36.5 17.3 36.7 18 37.8 20 45.1 20.7 46.6 21.7 47.8 22.3 48.2 23.3 48.5 29.3 49 32.7 49.6 35.3 50.4 37 51.2 38.3 52.2 39.1 53.3 39.5 54.7 39.5 55.7 39.2 56.7 37.9 58.7 35.5 60.7 32.1 63 30 64.2 28.3 64.9 23.7 65.9 20.3 67.2Z" fill="#5e4f9f" fill-rule="evenodd"/>
<path d="M18.7 67.4 17.3 67.6 16 67.5 14.7 67.2 13.7 66.6 13.2 66 12.7 65 12.3 61.7 12.3 57.3 12.9 52 15.3 40.9 16 39.2 16.7 38.5 17.3 38.8 17.7 39.3 20 46.7 20.7 48 21.7 49.1 23.3 49.9 28.3 50.4 32.4 51.7 34 52.5 35 53.3 35.7 54.3 36 55.3 35.8 56.7 34.8 58.3 32.8 60.3 30.3 62.3 28 63.7 23.7 65 20.7 66.7Z" fill="#402c86" fill-rule="evenodd"/>
</g><g filter="url(#soft)">
<path d="M17.7 66.4 16.7 66.4 15.7 66.2 14.5 65.3 13.7 63.3 13.3 60.3 13.5 57 14.3 53.3 16 48.6 16.7 47.8 17 47.7 17.3 47.9 18 48.8 20.5 53.7 21.4 56 21.7 58 21.5 60.7 20.4 64 19.9 65 19.2 65.7Z" fill="#35379a" fill-rule="evenodd"/>
<path d="M18 65.7 17.3 65.9 16.3 65.8 15.7 65.5 15 65 14.2 63.3 13.8 60.7 13.9 57.7 14.6 54.7 16 51.3 16.7 50.6 17 50.6 18 51.3 19.5 54 20.2 56 20.6 58.3 20.5 61 19.9 63.3 19 64.9Z" fill="#2b5db5" fill-rule="evenodd"/>
<path d="M17.7 65.1 17 65.2 16.3 65.1 15.3 64.3 14.6 62.7 14.2 60.3 14.4 57.7 15 55.4 16 53.4 16.7 52.9 17 52.8 18 53.4 18.8 54.7 19.6 56.7 19.9 58.7 19.9 60.7 19.4 62.7 18.7 64.2Z" fill="#1fa2dd" fill-rule="evenodd"/>
<path d="M17.3 64 16.3 63.9 15.7 63.3 15.1 62 14.8 60.3 15 58.3 15.4 56.7 16.3 55.3 17 55 17.7 55.3 18.4 56.3 18.9 57.7 19.1 59.3 19 61 18.7 62.3 18 63.5Z" fill="#2aa546" fill-rule="evenodd"/>
<path d="M17.3 62.5 16.7 62.6 16.3 62.3 15.9 61.7 15.6 60.3 15.6 59 16 57.8 16.3 57.3 17 57 17.5 57.3 17.9 58 18.3 59.7 18.1 61.3Z" fill="#ebe01d" fill-rule="evenodd"/>
<path d="M17 61.8 16.7 61.7 16.3 61.4 16 60 16.3 58.4 16.7 58.1 17 58 17.3 58.2 17.7 58.8 17.8 60 17.6 61Z" fill="#f2921f" fill-rule="evenodd"/>
<path d="M17 61.1 16.7 61 16.3 60 16.6 59 17 58.7 17.3 59.1 17.5 60 17.3 60.7Z" fill="#e2231f" fill-rule="evenodd"/>
</g>
</g>
<path transform="translate(214.4 325.2)" d="M17.9 69h1v1h-1zM48.6 54.9h1v1h-1zM49.9 52.1h1v1h-1zM19 68.7h1v1h-1zM11.4 63.1h1v1h-1zM12 50.4h1v1h-1zM11.9 66.7h1v1h-1zM21.4 45.4h1v1h-1zM11.7 54.8h1v1h-1zM32 65.4h1v1h-1zM35.5 64.1h1v1h-1zM40.6 45.9h1v1h-1zM42.7 52.3h1v1h-1zM14.1 40.9h1v1h-1zM13.8 42h1v1h-1zM11.8 57h1v1h-1zM44.9 55.9h1v1h-1zM34.7 63h1v1h-1zM36.3 45.1h1v1h-1zM45.7 53.1h1v1h-1zM53.2 53.7h1v1h-1zM34.8 46.9h1v1h-1zM13.7 68.9h1v1h-1zM48.4 60.9h1v1h-1zM11.8 58.5h1v1h-1zM12.1 52.9h1v1h-1zM11.1 60.7h1v1h-1zM12 61.8h1v1h-1zM13.8 67.5h1v1h-1zM41.7 56.3h1v1h-1zM37.8 61.6h1v1h-1zM20.1 69.3h1v1h-1zM12.3 46.8h1v1h-1zM37.2 49.5h1v1h-1zM39.7 64.3h1v1h-1zM51.3 50.2h1v1h-1zM45.8 53.3h1v1h-1zM14.3 68.4h1v1h-1zM11.6 65.2h1v1h-1zM20.9 36.6h1v1h-1zM34.2 44.1h1v1h-1zM13.4 46.3h1v1h-1zM46.6 58.1h1v1h-1zM18.5 69.6h1v1h-1zM15.8 34.5h1v1h-1zM29.9 65.7h1v1h-1zM47.2 52.5h1v1h-1zM41.6 57.9h1v1h-1zM12.2 44.7h1v1h-1zM23.2 46.2h1v1h-1zM17 69.3h1v1h-1zM31.8 66.8h1v1h-1zM21.2 44.7h1v1h-1zM38.6 43.5h1v1h-1zM47.2 63.3h1v1h-1zM44.8 58.7h1v1h-1zM48.1 63.6h1v1h-1zM27.4 66.3h1v1h-1zM29.5 44.6h1v1h-1zM27.5 41.6h1v1h-1zM22.9 47.2h1v1h-1zM20.8 41h1v1h-1zM12.3 50.7h1v1h-1zM43.4 47.4h1v1h-1zM41.7 52.9h1v1h-1zM11.2 56.6h1v1h-1zM19.7 41.5h1v1h-1zM36.8 62.9h1v1h-1zM51.1 55h1v1h-1zM23.7 67.6h1v1h-1zM47.8 50.8h1v1h-1zM27.8 66.9h1v1h-1zM32.8 42h1v1h-1zM15.5 69h1v1h-1zM11.1 52.6h1v1h-1zM15.8 35.4h1v1h-1zM12.7 44.8h1v1h-1zM12 68h1v1h-1zM22.9 45.6h1v1h-1zM28.3 68h1v1h-1zM32.5 66h1v1h-1zM13.8 39.1h1v1h-1zM14.5 68.9h1v1h-1zM35.3 63.4h1v1h-1zM28.4 44.9h1v1h-1zM22 67.2h1v1h-1zM11.8 59.1h1v1h-1zM19.1 68.3h1v1h-1zM14.5 41.2h1v1h-1zM41.1 49.6h1v1h-1zM41.7 53.7h1v1h-1zM45.3 57.2h1v1h-1zM39.4 62.3h1v1h-1zM11.2 50.2h1v1h-1zM13.5 67.7h1v1h-1zM47.5 47.2h1v1h-1zM13.8 68h1v1h-1zM40.6 51.5h1v1h-1zM24.2 67.2h1v1h-1zM13.1 37.6h1v1h-1zM21.6 45h1v1h-1zM24.1 47.2h1v1h-1zM19.5 68.5h1v1h-1zM15 36.5h1v1h-1zM10.7 60h1v1h-1zM21.6 67.9h1v1h-1zM25.2 42.2h1v1h-1zM49.8 57h1v1h-1zM38 65.7h1v1h-1zM38.6 64.6h1v1h-1zM16.3 35.1h1v1h-1zM38.3 41.6h1v1h-1zM18.2 68.7h1v1h-1zM13.3 48.4h1v1h-1zM37.9 47.8h1v1h-1zM44.2 51.5h1v1h-1zM11.4 57.3h1v1h-1zM12.9 67h1v1h-1zM50 56.3h1v1h-1zM12.2 67.3h1v1h-1zM15.7 34.2h1v1h-1zM37.6 42.3h1v1h-1zM11.5 53.2h1v1h-1zM28.3 66.5h1v1h-1zM18.1 33.9h1v1h-1zM45.3 56.7h1v1h-1zM12 59.4h1v1h-1zM11.4 54.2h1v1h-1zM12.4 65.9h1v1h-1zM22.6 46.4h1v1h-1zM28.2 47.9h1v1h-1zM44.8 50.2h1v1h-1zM14.9 69.1h1v1h-1zM41.6 46.6h1v1h-1zM48.4 56h1v1h-1zM13.6 68.2h1v1h-1zM11.6 65.4h1v1h-1zM42.1 43.1h1v1h-1zM43.1 60.6h1v1h-1z" fill="#5a48a0" fill-opacity="0.4"/>
<g transform="translate(289.9 325.2)">
<g filter="url(#grain)">
<path d="M19.3 68.3 17.7 68.6 16 68.6 14.3 68.2 13.3 67.8 12.4 67 12 66.3 11.6 65 11.4 63.3 11.3 58.7 11.5 53.3 13.8 38.3 14.5 35.3 15.1 33.3 16 31.7 16.7 31.3 17.3 31.5 17.7 31.8 18.5 33.3 19.4 36.3 20.7 42.3 21.3 43.8 22 44.6 22.7 44.9 23.7 45.1 29 45.1 35 45.5 37.7 45.9 40.3 46.7 43 48 45 49.7 46.3 51.7 46.8 53.7 46.8 55 46.5 56.3 45.9 57.7 45.1 59 43 61.3 39.7 63.6 36.5 65 32.7 66.1 29 66.8 23.5 67.3Z" fill="#b3abd8" fill-rule="evenodd"/>
<path d="M18.3 68 16.7 68.1 15 67.9 14 67.5 13 66.9 12.6 66.3 12.2 65.3 11.8 62 11.8 56 12.5 50.3 14.9 37.7 15.7 35.5 16 34.9 16.7 34.4 17.3 34.6 18.2 36 18.9 38 20.3 44.3 21 45.7 21.7 46.5 22.3 46.9 23.3 47.1 27.7 47.3 31 47.6 35 48.2 37.7 49 39.8 50 41.3 51.3 42.2 52.7 42.7 54.3 42.6 55.7 42.3 56.7 41 58.8 38.7 60.9 35.2 63 32.1 64.7 29.7 65.6 27.7 66 23.3 66.6Z" fill="#7f73b8" fill-rule="evenodd"/>
</g><g filter="url(#soft2)">
<path d="M18.7 67.7 17 67.9 15.7 67.7 14.3 67.3 13.3 66.7 12.5 65.3 12.1 62.3 12.1 56.3 12.7 51 15.1 39.3 15.8 37.3 16.7 36.5 17.3 36.7 18 37.8 20 45.1 20.7 46.6 21.7 47.8 22.3 48.2 23.3 48.5 29.3 49 32.7 49.6 35.3 50.4 37 51.2 38.3 52.2 39.1 53.3 39.5 54.7 39.5 55.7 39.2 56.7 37.9 58.7 35.5 60.7 32.1 63 30 64.2 28.3 64.9 23.7 65.9 20.3 67.2Z" fill="#5e4f9f" fill-rule="evenodd"/>
<path d="M18.7 67.4 17.3 67.6 16 67.5 14.7 67.2 13.7 66.6 13.2 66 12.7 65 12.3 61.7 12.3 57.3 12.9 52 15.3 40.9 16 39.2 16.7 38.5 17.3 38.8 17.7 39.3 20 46.7 20.7 48 21.7 49.1 23.3 49.9 28.3 50.4 32.4 51.7 34 52.5 35 53.3 35.7 54.3 36 55.3 35.8 56.7 34.8 58.3 32.8 60.3 30.3 62.3 28 63.7 23.7 65 20.7 66.7Z" fill="#402c86" fill-rule="evenodd"/>
</g><g filter="url(#soft)">
<path d="M17.7 66.4 16.7 66.4 15.7 66.2 14.5 65.3 13.7 63.3 13.3 60.3 13.5 57 14.3 53.3 16 48.6 16.7 47.8 17 47.7 17.3 47.9 18 48.8 20.5 53.7 21.4 56 21.7 58 21.5 60.7 20.4 64 19.9 65 19.2 65.7Z" fill="#35379a" fill-rule="evenodd"/>
<path d="M18 65.7 17.3 65.9 16.3 65.8 15.7 65.5 15 65 14.2 63.3 13.8 60.7 13.9 57.7 14.6 54.7 16 51.3 16.7 50.6 17 50.6 18 51.3 19.5 54 20.2 56 20.6 58.3 20.5 61 19.9 63.3 19 64.9Z" fill="#2b5db5" fill-rule="evenodd"/>
<path d="M17.7 65.1 17 65.2 16.3 65.1 15.3 64.3 14.6 62.7 14.2 60.3 14.4 57.7 15 55.4 16 53.4 16.7 52.9 17 52.8 18 53.4 18.8 54.7 19.6 56.7 19.9 58.7 19.9 60.7 19.4 62.7 18.7 64.2Z" fill="#1fa2dd" fill-rule="evenodd"/>
<path d="M17.3 64 16.3 63.9 15.7 63.3 15.1 62 14.8 60.3 15 58.3 15.4 56.7 16.3 55.3 17 55 17.7 55.3 18.4 56.3 18.9 57.7 19.1 59.3 19 61 18.7 62.3 18 63.5Z" fill="#2aa546" fill-rule="evenodd"/>
<path d="M17.3 62.5 16.7 62.6 16.3 62.3 15.9 61.7 15.6 60.3 15.6 59 16 57.8 16.3 57.3 17 57 17.5 57.3 17.9 58 18.3 59.7 18.1 61.3Z" fill="#ebe01d" fill-rule="evenodd"/>
<path d="M17 61.8 16.7 61.7 16.3 61.4 16 60 16.3 58.4 16.7 58.1 17 58 17.3 58.2 17.7 58.8 17.8 60 17.6 61Z" fill="#f2921f" fill-rule="evenodd"/>
<path d="M17 61.1 16.7 61 16.3 60 16.6 59 17 58.7 17.3 59.1 17.5 60 17.3 60.7Z" fill="#e2231f" fill-rule="evenodd"/>
</g>
</g>
<path transform="translate(289.9 325.2)" d="M42.9 64.9h1v1h-1zM12.2 50.8h1v1h-1zM14.6 69.3h1v1h-1zM32.7 64.4h1v1h-1zM38.9 63.6h1v1h-1zM20.9 67.8h1v1h-1zM46.5 49.6h1v1h-1zM44.4 58.4h1v1h-1zM17.3 31.3h1v1h-1zM29.1 47.3h1v1h-1zM33 48.2h1v1h-1zM35.5 47.5h1v1h-1zM11.7 58.3h1v1h-1zM11.3 54.6h1v1h-1zM42.3 51.8h1v1h-1zM42.1 51h1v1h-1zM20 41.4h1v1h-1zM36.3 43.9h1v1h-1zM28 44.9h1v1h-1zM17.6 69h1v1h-1zM20.6 67.7h1v1h-1zM24.1 44.9h1v1h-1zM45.5 55.9h1v1h-1zM11.6 64.2h1v1h-1zM15.1 68.4h1v1h-1zM37.3 65.7h1v1h-1zM14.6 39.9h1v1h-1zM48 50.4h1v1h-1zM25 41.6h1v1h-1zM25.2 68.6h1v1h-1zM30.8 44.5h1v1h-1zM42.6 60h1v1h-1zM38.3 42h1v1h-1zM20.1 43.6h1v1h-1zM42.8 55h1v1h-1zM10.7 57.9h1v1h-1zM15.5 69.2h1v1h-1zM42.6 47.9h1v1h-1zM34.7 63.5h1v1h-1zM20 68.6h1v1h-1zM22.1 42h1v1h-1zM21.8 67.1h1v1h-1zM50.2 56.5h1v1h-1zM48.3 61.3h1v1h-1zM11.8 60.1h1v1h-1zM27.2 66.7h1v1h-1zM31.7 45.5h1v1h-1zM46.6 45.3h1v1h-1zM16.5 69h1v1h-1zM11.1 61.1h1v1h-1zM31.9 66h1v1h-1zM11.2 51.6h1v1h-1zM26.3 47.2h1v1h-1zM32.1 47h1v1h-1zM16 32.5h1v1h-1zM43.8 58.2h1v1h-1zM34 48.4h1v1h-1zM13.1 47.2h1v1h-1zM37.8 44.9h1v1h-1zM16.2 69.1h1v1h-1zM21.5 67.5h1v1h-1zM28 46.5h1v1h-1zM21.1 68.3h1v1h-1zM14.3 68.8h1v1h-1zM20.6 37.6h1v1h-1zM24 45.5h1v1h-1zM47.9 57.7h1v1h-1zM26.6 44.9h1v1h-1zM11.9 57.2h1v1h-1zM15.8 69.1h1v1h-1zM22.7 68.6h1v1h-1zM13.1 68.1h1v1h-1zM20.2 41.5h1v1h-1zM22.8 68.6h1v1h-1zM45.2 63h1v1h-1zM47.9 53.4h1v1h-1zM49.7 57.3h1v1h-1zM11.1 59.7h1v1h-1zM12 50.2h1v1h-1zM45.4 47.9h1v1h-1zM12 64.8h1v1h-1zM41.6 60.1h1v1h-1zM12.3 54.8h1v1h-1zM44.2 49.5h1v1h-1zM19.8 41.8h1v1h-1zM18 69.4h1v1h-1zM28.5 65.7h1v1h-1zM40.9 66.3h1v1h-1zM46.1 58.4h1v1h-1zM31 47.8h1v1h-1zM11.7 58h1v1h-1zM40.9 63.4h1v1h-1zM44 50.1h1v1h-1zM10.9 60.7h1v1h-1zM44.9 56.5h1v1h-1zM49.1 60.8h1v1h-1zM34.9 63.9h1v1h-1zM11.3 64h1v1h-1zM25.4 47h1v1h-1zM16 69.2h1v1h-1zM37.1 47.6h1v1h-1zM17.8 68.6h1v1h-1zM29.4 67h1v1h-1zM30.3 65.3h1v1h-1zM18.4 36.4h1v1h-1zM44.1 51.6h1v1h-1zM11.6 61.9h1v1h-1zM24.3 68.2h1v1h-1zM43.9 52.3h1v1h-1zM40.8 49.1h1v1h-1zM13.6 35.4h1v1h-1zM12.3 54.8h1v1h-1zM15.5 69.5h1v1h-1zM26.8 44h1v1h-1zM11 61.5h1v1h-1zM21.4 68.6h1v1h-1zM18.4 68.2h1v1h-1zM28.8 41.7h1v1h-1zM39.2 48.2h1v1h-1zM11.7 55.5h1v1h-1zM29.7 44.5h1v1h-1zM37.6 43.5h1v1h-1zM41.2 43.8h1v1h-1zM40.5 43.7h1v1h-1z" fill="#5a48a0" fill-opacity="0.4"/>
<g transform="translate(365.5 325.2)">
<g filter="url(#grain)">
<path d="M19.3 68.3 17.7 68.6 16 68.6 14.3 68.2 13.3 67.8 12.4 67 12 66.3 11.6 65 11.4 63.3 11.3 58.7 11.5 53.3 13.8 38.3 14.5 35.3 15.1 33.3 16 31.7 16.7 31.3 17.3 31.5 17.7 31.8 18.5 33.3 19.4 36.3 20.7 42.3 21.3 43.8 22 44.6 22.7 44.9 23.7 45.1 29 45.1 35 45.5 37.7 45.9 40.3 46.7 43 48 45 49.7 46.3 51.7 46.8 53.7 46.8 55 46.5 56.3 45.9 57.7 45.1 59 43 61.3 39.7 63.6 36.5 65 32.7 66.1 29 66.8 23.5 67.3Z" fill="#b3abd8" fill-rule="evenodd"/>
<path d="M18.3 68 16.7 68.1 15 67.9 14 67.5 13 66.9 12.6 66.3 12.2 65.3 11.8 62 11.8 56 12.5 50.3 14.9 37.7 15.7 35.5 16 34.9 16.7 34.4 17.3 34.6 18.2 36 18.9 38 20.3 44.3 21 45.7 21.7 46.5 22.3 46.9 23.3 47.1 27.7 47.3 31 47.6 35 48.2 37.7 49 39.8 50 41.3 51.3 42.2 52.7 42.7 54.3 42.6 55.7 42.3 56.7 41 58.8 38.7 60.9 35.2 63 32.1 64.7 29.7 65.6 27.7 66 23.3 66.6Z" fill="#7f73b8" fill-rule="evenodd"/>
</g><g filter="url(#soft2)">
<path d="M18.7 67.7 17 67.9 15.7 67.7 14.3 67.3 13.3 66.7 12.5 65.3 12.1 62.3 12.1 56.3 12.7 51 15.1 39.3 15.8 37.3 16.7 36.5 17.3 36.7 18 37.8 20 45.1 20.7 46.6 21.7 47.8 22.3 48.2 23.3 48.5 29.3 49 32.7 49.6 35.3 50.4 37 51.2 38.3 52.2 39.1 53.3 39.5 54.7 39.5 55.7 39.2 56.7 37.9 58.7 35.5 60.7 32.1 63 30 64.2 28.3 64.9 23.7 65.9 20.3 67.2Z" fill="#5e4f9f" fill-rule="evenodd"/>
<path d="M18.7 67.4 17.3 67.6 16 67.5 14.7 67.2 13.7 66.6 13.2 66 12.7 65 12.3 61.7 12.3 57.3 12.9 52 15.3 40.9 16 39.2 16.7 38.5 17.3 38.8 17.7 39.3 20 46.7 20.7 48 21.7 49.1 23.3 49.9 28.3 50.4 32.4 51.7 34 52.5 35 53.3 35.7 54.3 36 55.3 35.8 56.7 34.8 58.3 32.8 60.3 30.3 62.3 28 63.7 23.7 65 20.7 66.7Z" fill="#402c86" fill-rule="evenodd"/>
</g><g filter="url(#soft)">
<path d="M17.7 66.4 16.7 66.4 15.7 66.2 14.5 65.3 13.7 63.3 13.3 60.3 13.5 57 14.3 53.3 16 48.6 16.7 47.8 17 47.7 17.3 47.9 18 48.8 20.5 53.7 21.4 56 21.7 58 21.5 60.7 20.4 64 19.9 65 19.2 65.7Z" fill="#35379a" fill-rule="evenodd"/>
<path d="M18 65.7 17.3 65.9 16.3 65.8 15.7 65.5 15 65 14.2 63.3 13.8 60.7 13.9 57.7 14.6 54.7 16 51.3 16.7 50.6 17 50.6 18 51.3 19.5 54 20.2 56 20.6 58.3 20.5 61 19.9 63.3 19 64.9Z" fill="#2b5db5" fill-rule="evenodd"/>
<path d="M17.7 65.1 17 65.2 16.3 65.1 15.3 64.3 14.6 62.7 14.2 60.3 14.4 57.7 15 55.4 16 53.4 16.7 52.9 17 52.8 18 53.4 18.8 54.7 19.6 56.7 19.9 58.7 19.9 60.7 19.4 62.7 18.7 64.2Z" fill="#1fa2dd" fill-rule="evenodd"/>
<path d="M17.3 64 16.3 63.9 15.7 63.3 15.1 62 14.8 60.3 15 58.3 15.4 56.7 16.3 55.3 17 55 17.7 55.3 18.4 56.3 18.9 57.7 19.1 59.3 19 61 18.7 62.3 18 63.5Z" fill="#2aa546" fill-rule="evenodd"/>
<path d="M17.3 62.5 16.7 62.6 16.3 62.3 15.9 61.7 15.6 60.3 15.6 59 16 57.8 16.3 57.3 17 57 17.5 57.3 17.9 58 18.3 59.7 18.1 61.3Z" fill="#ebe01d" fill-rule="evenodd"/>
<path d="M17 61.8 16.7 61.7 16.3 61.4 16 60 16.3 58.4 16.7 58.1 17 58 17.3 58.2 17.7 58.8 17.8 60 17.6 61Z" fill="#f2921f" fill-rule="evenodd"/>
<path d="M17 61.1 16.7 61 16.3 60 16.6 59 17 58.7 17.3 59.1 17.5 60 17.3 60.7Z" fill="#e2231f" fill-rule="evenodd"/>
</g>
</g>
<path transform="translate(365.5 325.2)" d="M14.2 35.2h1v1h-1zM13 46.4h1v1h-1zM39 63.8h1v1h-1zM29.7 47.2h1v1h-1zM18.7 69.5h1v1h-1zM33.2 66.8h1v1h-1zM30 46.8h1v1h-1zM48.3 50.5h1v1h-1zM20 69.6h1v1h-1zM33.9 48.2h1v1h-1zM12.1 65.1h1v1h-1zM42.5 49.4h1v1h-1zM20.5 44h1v1h-1zM20.2 31.9h1v1h-1zM22 46.6h1v1h-1zM18.4 69.5h1v1h-1zM26.5 67.5h1v1h-1zM14.2 38.6h1v1h-1zM11.7 61.3h1v1h-1zM25.2 47h1v1h-1zM20.5 43.4h1v1h-1zM39.9 59.8h1v1h-1zM42.9 64h1v1h-1zM46 53.3h1v1h-1zM15.2 69.6h1v1h-1zM42.4 64.7h1v1h-1zM44.5 61.9h1v1h-1zM12.5 51.5h1v1h-1zM13.5 46.3h1v1h-1zM28.3 68h1v1h-1zM50.9 61.1h1v1h-1zM46.8 50.4h1v1h-1zM20 69h1v1h-1zM34.5 47.1h1v1h-1zM11.7 46.3h1v1h-1zM12.9 46.4h1v1h-1zM41.7 56.9h1v1h-1zM29.3 41.9h1v1h-1zM34 47.1h1v1h-1zM12.9 44h1v1h-1zM16.4 68.7h1v1h-1zM12.4 51.8h1v1h-1zM33.1 46.8h1v1h-1zM41.3 58.6h1v1h-1zM22.9 67.9h1v1h-1zM25.8 68.3h1v1h-1zM21.5 41.2h1v1h-1zM13.1 44.6h1v1h-1zM14 42.1h1v1h-1zM36.9 42.3h1v1h-1zM18.2 69.4h1v1h-1zM16.1 68.3h1v1h-1zM42.3 55.1h1v1h-1zM36.3 66.9h1v1h-1zM37.9 49.8h1v1h-1zM46 61.6h1v1h-1zM37.7 49.7h1v1h-1zM25.4 47.6h1v1h-1zM17.7 69.5h1v1h-1zM21.8 45h1v1h-1zM18.7 32.6h1v1h-1zM35.8 64.7h1v1h-1zM25 44.3h1v1h-1zM13.2 46.6h1v1h-1zM12.6 42.9h1v1h-1zM29.2 46.9h1v1h-1zM31.1 46h1v1h-1zM41.4 60h1v1h-1zM42.6 44.5h1v1h-1zM12.2 65.6h1v1h-1zM13.4 38.7h1v1h-1zM11.6 66.7h1v1h-1zM11.3 58.5h1v1h-1zM10.9 61.9h1v1h-1zM21.9 45.6h1v1h-1zM19.8 34.7h1v1h-1zM19.9 41.8h1v1h-1zM11 63.5h1v1h-1zM13.5 44.9h1v1h-1zM14.2 36.1h1v1h-1zM35.8 45.4h1v1h-1zM10.8 57.5h1v1h-1zM44.9 63.7h1v1h-1zM36.1 63.7h1v1h-1zM35.2 47.4h1v1h-1zM24.1 46.4h1v1h-1zM34.8 43.7h1v1h-1zM43.3 56.7h1v1h-1zM40.5 50.8h1v1h-1zM32.7 66.7h1v1h-1zM25.5 46.1h1v1h-1zM47.5 53.4h1v1h-1zM39.9 61.4h1v1h-1zM37.3 49.3h1v1h-1zM20.7 68.1h1v1h-1zM12.2 64.2h1v1h-1zM18.6 68.7h1v1h-1zM37.8 63.6h1v1h-1zM40.1 59.5h1v1h-1zM43.8 49.2h1v1h-1zM43.8 55.5h1v1h-1zM11.3 56.1h1v1h-1zM35.1 48h1v1h-1zM21.3 39.9h1v1h-1zM21.2 68.5h1v1h-1zM48.6 54.9h1v1h-1zM42.9 43.2h1v1h-1zM39.2 65.1h1v1h-1zM16.3 33.5h1v1h-1zM50 59.8h1v1h-1zM14.9 68.1h1v1h-1zM25.1 68.1h1v1h-1zM30.6 67.2h1v1h-1zM11.5 59.6h1v1h-1zM22.8 47.3h1v1h-1zM14.3 35h1v1h-1zM18.2 36.3h1v1h-1zM11 50.3h1v1h-1z" fill="#5a48a0" fill-opacity="0.4"/>
<g transform="translate(441.5 325.2)">
<g filter="url(#grain)">
<path d="M19 68.4 17.3 68.6 15.7 68.5 14.3 68.2 13 67.6 12.3 66.9 11.9 66 11.4 63 11.3 58.3 11.6 54 13.8 38.3 14.4 35.3 15 33.3 15.7 32 16.7 31.2 17.3 31.4 17.7 31.7 18.7 33.5 19.5 36.3 20.7 42.5 21.3 44.5 22 45.6 22.7 46.2 23.7 46.7 29 47.3 31 47.8 32.9 48.7 34.3 49.7 35.3 50.7 36 52 36.3 53.3 36.1 55.3 35.1 57.7 32.4 61.3 29.9 64 27.7 65.4 24.3 66.4 21 67.8Z" fill="#b3abd8" fill-rule="evenodd"/>
<path d="M18.3 68 17 68.1 15.3 68 14 67.5 13.1 67 12.6 66.3 12.2 65.3 11.8 62 11.8 57.7 12.1 53.3 14.2 40.7 15.3 36 16 34.8 16.7 34.3 17.3 34.5 17.7 34.8 18.3 36.2 19.1 38.7 20.3 44.6 21 46.5 21.7 47.7 22.7 48.9 23.7 49.6 27.3 50.8 29 51.7 30.3 53.3 30.8 55.3 30.7 57 30.1 58.7 29.3 60.3 27.9 62 24.7 64.4 21.9 66.7 20.3 67.5Z" fill="#7f73b8" fill-rule="evenodd"/>
</g><g filter="url(#soft2)">
<path d="M18.3 67.7 17 67.8 15.7 67.7 14.3 67.3 13.3 66.7 12.5 65.3 12.1 62 12.1 56.3 12.8 51 15 39.3 15.7 37.3 16.3 36.5 16.7 36.3 17.3 36.5 18.2 38 20 45.5 21.3 48.8 23.3 51.5 26.1 53.3 27 54.2 27.5 55 27.9 56.3 27.7 58 27.1 59.3 24.3 62.5 22.3 65.7 20.7 66.9Z" fill="#5e4f9f" fill-rule="evenodd"/>
<path d="M18.7 67.4 17.3 67.6 16 67.5 14.7 67.2 13.8 66.7 13.2 66 12.9 65.3 12.4 62.3 12.4 57 12.9 52.3 15.2 41 16 39 16.7 38.3 17.3 38.6 18 39.8 20.3 48.2 23.8 55 24.4 57 24.1 59.3 22 65 21.6 65.7 20.7 66.5Z" fill="#402c86" fill-rule="evenodd"/>
</g><g filter="url(#soft)">
<path d="M17.7 66.4 16.7 66.4 15.7 66.2 14.5 65.3 13.8 63.7 13.4 60.7 13.5 57.3 14.2 53.7 16 48.6 16.7 47.8 17 47.7 17.3 48 18 49 19.8 53.3 20.6 56 20.9 58.7 20.7 61.7 20 64.3 19.1 65.7Z" fill="#35379a" fill-rule="evenodd"/>
<path d="M17.7 65.8 16.3 65.8 15.7 65.6 15 65 14.2 63.3 13.8 60.7 13.9 57.7 14.6 54.7 16 51.4 16.7 50.8 17 50.7 17.3 50.9 18 51.7 19.2 54 19.9 56.3 20.3 59 20.2 61.3 19.6 63.7 18.8 65Z" fill="#2b5db5" fill-rule="evenodd"/>
<path d="M17.7 65 17 65.2 16.3 65.1 15.3 64.4 14.6 62.7 14.2 60.7 14.4 58 14.9 55.7 16 53.6 16.7 53 17 53 18 53.7 18.7 55 19.4 57 19.7 59 19.6 61 19.2 63 18.5 64.3Z" fill="#1fa2dd" fill-rule="evenodd"/>
<path d="M17 64.1 16.3 63.9 15.5 63 15 61.7 14.8 60 15 58.3 15.5 56.7 16.3 55.4 17 55.2 17.7 55.5 18.4 56.7 18.9 58.3 19 60 18.8 61.7 18.3 63 17.7 63.8Z" fill="#2aa546" fill-rule="evenodd"/>
<path d="M17.3 62.4 16.7 62.6 16.3 62.3 15.8 61.3 15.6 60.3 15.6 59 15.9 58 16.3 57.4 17 57.1 17.4 57.3 17.8 58 18.2 59.7 18 61.3Z" fill="#ebe01d" fill-rule="evenodd"/>
<path d="M17 61.8 16.7 61.7 16.3 61.4 16 60 16.3 58.4 16.7 58.1 17 58.1 17.3 58.3 17.7 59 17.8 60 17.6 61Z" fill="#f2921f" fill-rule="evenodd"/>
<path d="M17 61.1 16.6 61 16.3 60 16.6 59 17 58.8 17.3 59.3 17.4 60 17.3 60.6Z" fill="#e2231f" fill-rule="evenodd"/>
</g>
</g>
<path transform="translate(441.5 325.2)" d="M11.6 51.9h1v1h-1zM11.1 54.7h1v1h-1zM15.8 68.8h1v1h-1zM31.9 62.3h1v1h-1zM13.4 43.8h1v1h-1zM13.3 35.8h1v1h-1zM20.8 38.6h1v1h-1zM33.9 45.9h1v1h-1zM14.7 37.6h1v1h-1zM22.1 48.7h1v1h-1zM22.2 45.9h1v1h-1zM11.5 62.7h1v1h-1zM30.1 51.6h1v1h-1zM23.1 45.6h1v1h-1zM13.5 40h1v1h-1zM33.4 52.1h1v1h-1zM13 44.5h1v1h-1zM13.1 68.1h1v1h-1zM20.6 44.4h1v1h-1zM12.1 49.3h1v1h-1zM12 47.3h1v1h-1zM15.9 31.8h1v1h-1zM11.9 58.3h1v1h-1zM14 35.5h1v1h-1zM12.6 45.8h1v1h-1zM24 67.4h1v1h-1zM11.7 49.7h1v1h-1zM16.9 33.4h1v1h-1zM42 60.4h1v1h-1zM29.7 60.2h1v1h-1zM12.5 66.2h1v1h-1zM17 31.6h1v1h-1zM14 67.5h1v1h-1zM41 53h1v1h-1zM13.5 38h1v1h-1zM18.7 69.2h1v1h-1zM25.6 66h1v1h-1zM28.1 65.5h1v1h-1zM28.1 48.8h1v1h-1zM13 50.6h1v1h-1zM13.3 46.4h1v1h-1zM14.4 68.4h1v1h-1zM12 54.7h1v1h-1zM32.8 42.7h1v1h-1zM29.3 50.3h1v1h-1zM37.4 53h1v1h-1zM36.1 54.5h1v1h-1zM29.9 50.1h1v1h-1zM20.7 38.1h1v1h-1zM13.6 45.3h1v1h-1zM13.3 44.9h1v1h-1zM11.5 53.4h1v1h-1zM14.8 69.4h1v1h-1zM13.8 68.3h1v1h-1zM12.9 66.4h1v1h-1zM11.2 58.8h1v1h-1zM25.9 63.9h1v1h-1zM25.6 43.5h1v1h-1zM11.9 52.9h1v1h-1zM21.7 67.6h1v1h-1zM24.5 66.1h1v1h-1zM12.6 45.2h1v1h-1zM11.9 64.8h1v1h-1zM11.8 66.9h1v1h-1zM32.8 61.4h1v1h-1zM23.4 68h1v1h-1zM29.5 61.2h1v1h-1zM13.3 68.1h1v1h-1zM25.3 44.9h1v1h-1zM11.4 50.2h1v1h-1zM31.9 60.9h1v1h-1zM16.7 69.3h1v1h-1zM31.2 58.7h1v1h-1zM28.9 61.5h1v1h-1zM18.6 68.2h1v1h-1zM20.4 68.8h1v1h-1zM14.6 40.8h1v1h-1zM22.8 67h1v1h-1zM15.8 69.4h1v1h-1zM11 65.2h1v1h-1zM15 68.3h1v1h-1zM16.8 33.8h1v1h-1zM12.3 47.6h1v1h-1zM39.6 57h1v1h-1zM15.3 37.1h1v1h-1zM13.1 67.8h1v1h-1zM15.1 69.4h1v1h-1zM12.5 41h1v1h-1zM18.8 69.6h1v1h-1zM19.5 68.8h1v1h-1zM43.1 59.2h1v1h-1zM11.9 60.4h1v1h-1zM14.8 37.7h1v1h-1zM32.1 61.7h1v1h-1zM14.7 38h1v1h-1zM37.4 57.3h1v1h-1zM30.9 48.7h1v1h-1zM25.2 64.2h1v1h-1zM20.1 67.8h1v1h-1zM40.5 52.5h1v1h-1zM14.1 68.1h1v1h-1zM35.3 52.4h1v1h-1zM26.7 48.1h1v1h-1zM25.2 64.2h1v1h-1zM38.5 58.3h1v1h-1zM26.8 51.6h1v1h-1zM34.5 50.8h1v1h-1zM31.4 59.9h1v1h-1zM30.7 42.2h1v1h-1zM11.2 66.2h1v1h-1zM37.2 52.7h1v1h-1zM35.8 52.1h1v1h-1zM15.4 35.4h1v1h-1zM40.2 46.9h1v1h-1zM13.8 67.4h1v1h-1zM21.5 42.9h1v1h-1zM33.1 48.1h1v1h-1zM14.7 38.5h1v1h-1zM35.9 48.7h1v1h-1zM24.2 47.1h1v1h-1zM13.8 40.8h1v1h-1zM11.5 59.5h1v1h-1zM30.8 57.4h1v1h-1zM22.2 67.7h1v1h-1zM19.1 36.6h1v1h-1zM11.7 67.2h1v1h-1zM12.3 45.6h1v1h-1zM25.8 51.2h1v1h-1zM14.3 32h1v1h-1zM22.7 67.5h1v1h-1zM11.1 57.6h1v1h-1zM28.4 49.8h1v1h-1zM28.7 45.1h1v1h-1zM11.9 54.8h1v1h-1zM14.1 36.2h1v1h-1z" fill="#5a48a0" fill-opacity="0.4"/>
<rect x="138.5" y="43.5" width="71" height="70.7" fill="none" stroke="#999" stroke-width="1.0"/>
<rect x="168.5" y="76.3" width="38.6" height="35.2" fill="none" stroke="#999" stroke-width="1.0"/>
<path d="M136.6 49.2h1.6M136.6 51.9h1.6M136.6 54.6h1.6M136.6 57.3h1.6M136.6 62.7h1.6M136.6 65.4h1.6M136.6 68.1h1.6M136.6 70.8h1.6M136.6 76.2h1.6M136.6 78.9h1.6M136.6 81.6h1.6M136.6 84.3h1.6M136.6 89.7h1.6M136.6 92.4h1.6M136.6 95.1h1.6M136.6 97.8h1.6M136.6 103.2h1.6M136.6 105.9h1.6M136.6 108.6h1.6M136.6 111.3h1.6" stroke="#a8a8a8" stroke-width="0.8" fill="none"/>
<path d="M135.9 46.5h2.4M135.9 60h2.4M135.9 73.5h2.4M135.9 87h2.4M135.9 100.5h2.4" stroke="#666" stroke-width="0.9" fill="none"/>
<path d="M141.5 114.6v1.5M144 114.6v1.5M146.5 114.6v1.5M148.5 114.6v1.5M158.5 114.6v1.5M161.5 114.6v1.5M163.5 114.6v1.5M165 114.6v1.5M166.3 114.6v1.5M171.5 114.6v1.5M176.5 114.6v1.5M179.5 114.6v1.5M182 114.6v1.5M183.5 114.6v1.5M185 114.6v1.5M188.5 114.6v1.5M193.5 114.6v1.5M196.5 114.6v1.5M199 114.6v1.5M200.5 114.6v1.5M201.7 114.6v1.5M206.5 114.6v1.5M208.5 114.6v1.5" stroke="#a8a8a8" stroke-width="0.8" fill="none"/>
<path d="M167.5 114.6v2.2M186.2 114.6v2.2M202.7 114.6v2.2" stroke="#666" stroke-width="0.9" fill="none"/>
<rect x="149.8" y="114.8" width="4.7" height="1.3" fill="#333"/>
<text x="205.3" y="54.8" font-size="7" text-anchor="end" style="stroke-width:0.1px">0.8</text>
<rect x="214.4" y="43.5" width="71" height="70.7" fill="none" stroke="#999" stroke-width="1.0"/>
<rect x="244.4" y="76.3" width="38.6" height="35.2" fill="none" stroke="#999" stroke-width="1.0"/>
<path d="M212.5 49.2h1.6M212.5 51.9h1.6M212.5 54.6h1.6M212.5 57.3h1.6M212.5 62.7h1.6M212.5 65.4h1.6M212.5 68.1h1.6M212.5 70.8h1.6M212.5 76.2h1.6M212.5 78.9h1.6M212.5 81.6h1.6M212.5 84.3h1.6M212.5 89.7h1.6M212.5 92.4h1.6M212.5 95.1h1.6M212.5 97.8h1.6M212.5 103.2h1.6M212.5 105.9h1.6M212.5 108.6h1.6M212.5 111.3h1.6" stroke="#a8a8a8" stroke-width="0.8" fill="none"/>
<path d="M211.8 46.5h2.4M211.8 60h2.4M211.8 73.5h2.4M211.8 87h2.4M211.8 100.5h2.4" stroke="#666" stroke-width="0.9" fill="none"/>
<path d="M217.4 114.6v1.5M219.9 114.6v1.5M222.4 114.6v1.5M224.4 114.6v1.5M234.4 114.6v1.5M237.4 114.6v1.5M239.4 114.6v1.5M240.9 114.6v1.5M242.2 114.6v1.5M247.4 114.6v1.5M252.4 114.6v1.5M255.4 114.6v1.5M257.9 114.6v1.5M259.4 114.6v1.5M260.9 114.6v1.5M264.4 114.6v1.5M269.4 114.6v1.5M272.4 114.6v1.5M274.9 114.6v1.5M276.4 114.6v1.5M277.6 114.6v1.5M282.4 114.6v1.5M284.4 114.6v1.5" stroke="#a8a8a8" stroke-width="0.8" fill="none"/>
<path d="M243.4 114.6v2.2M262.1 114.6v2.2M278.6 114.6v2.2" stroke="#666" stroke-width="0.9" fill="none"/>
<rect x="225.7" y="114.8" width="4.7" height="1.3" fill="#333"/>
<text x="281.2" y="54.8" font-size="7" text-anchor="end" style="stroke-width:0.1px">0.3</text>
<rect x="289.9" y="43.5" width="71" height="70.7" fill="none" stroke="#999" stroke-width="1.0"/>
<rect x="319.9" y="76.3" width="38.6" height="35.2" fill="none" stroke="#999" stroke-width="1.0"/>
<path d="M288 49.2h1.6M288 51.9h1.6M288 54.6h1.6M288 57.3h1.6M288 62.7h1.6M288 65.4h1.6M288 68.1h1.6M288 70.8h1.6M288 76.2h1.6M288 78.9h1.6M288 81.6h1.6M288 84.3h1.6M288 89.7h1.6M288 92.4h1.6M288 95.1h1.6M288 97.8h1.6M288 103.2h1.6M288 105.9h1.6M288 108.6h1.6M288 111.3h1.6" stroke="#a8a8a8" stroke-width="0.8" fill="none"/>
<path d="M287.3 46.5h2.4M287.3 60h2.4M287.3 73.5h2.4M287.3 87h2.4M287.3 100.5h2.4" stroke="#666" stroke-width="0.9" fill="none"/>
<path d="M292.9 114.6v1.5M295.4 114.6v1.5M297.9 114.6v1.5M299.9 114.6v1.5M309.9 114.6v1.5M312.9 114.6v1.5M314.9 114.6v1.5M316.4 114.6v1.5M317.7 114.6v1.5M322.9 114.6v1.5M327.9 114.6v1.5M330.9 114.6v1.5M333.4 114.6v1.5M334.9 114.6v1.5M336.4 114.6v1.5M339.9 114.6v1.5M344.9 114.6v1.5M347.9 114.6v1.5M350.4 114.6v1.5M351.9 114.6v1.5M353.1 114.6v1.5M357.9 114.6v1.5M359.9 114.6v1.5" stroke="#a8a8a8" stroke-width="0.8" fill="none"/>
<path d="M318.9 114.6v2.2M337.6 114.6v2.2M354.1 114.6v2.2" stroke="#666" stroke-width="0.9" fill="none"/>
<rect x="301.2" y="114.8" width="4.7" height="1.3" fill="#333"/>
<text x="356.7" y="54.8" font-size="7" text-anchor="end" style="stroke-width:0.1px">0.1</text>
<rect x="365.5" y="43.5" width="71" height="70.7" fill="none" stroke="#999" stroke-width="1.0"/>
<rect x="395.5" y="76.3" width="38.6" height="35.2" fill="none" stroke="#999" stroke-width="1.0"/>
<path d="M363.6 49.2h1.6M363.6 51.9h1.6M363.6 54.6h1.6M363.6 57.3h1.6M363.6 62.7h1.6M363.6 65.4h1.6M363.6 68.1h1.6M363.6 70.8h1.6M363.6 76.2h1.6M363.6 78.9h1.6M363.6 81.6h1.6M363.6 84.3h1.6M363.6 89.7h1.6M363.6 92.4h1.6M363.6 95.1h1.6M363.6 97.8h1.6M363.6 103.2h1.6M363.6 105.9h1.6M363.6 108.6h1.6M363.6 111.3h1.6" stroke="#a8a8a8" stroke-width="0.8" fill="none"/>
<path d="M362.9 46.5h2.4M362.9 60h2.4M362.9 73.5h2.4M362.9 87h2.4M362.9 100.5h2.4" stroke="#666" stroke-width="0.9" fill="none"/>
<path d="M368.5 114.6v1.5M371 114.6v1.5M373.5 114.6v1.5M375.5 114.6v1.5M385.5 114.6v1.5M388.5 114.6v1.5M390.5 114.6v1.5M392 114.6v1.5M393.3 114.6v1.5M398.5 114.6v1.5M403.5 114.6v1.5M406.5 114.6v1.5M409 114.6v1.5M410.5 114.6v1.5M412 114.6v1.5M415.5 114.6v1.5M420.5 114.6v1.5M423.5 114.6v1.5M426 114.6v1.5M427.5 114.6v1.5M428.7 114.6v1.5M433.5 114.6v1.5M435.5 114.6v1.5" stroke="#a8a8a8" stroke-width="0.8" fill="none"/>
<path d="M394.5 114.6v2.2M413.2 114.6v2.2M429.7 114.6v2.2" stroke="#666" stroke-width="0.9" fill="none"/>
<rect x="376.8" y="114.8" width="4.7" height="1.3" fill="#333"/>
<text x="432.3" y="54.8" font-size="7" text-anchor="end" style="stroke-width:0.1px">0.1</text>
<rect x="441.5" y="43.5" width="71" height="70.7" fill="none" stroke="#999" stroke-width="1.0"/>
<rect x="471.5" y="76.3" width="38.6" height="35.2" fill="none" stroke="#999" stroke-width="1.0"/>
<path d="M439.6 49.2h1.6M439.6 51.9h1.6M439.6 54.6h1.6M439.6 57.3h1.6M439.6 62.7h1.6M439.6 65.4h1.6M439.6 68.1h1.6M439.6 70.8h1.6M439.6 76.2h1.6M439.6 78.9h1.6M439.6 81.6h1.6M439.6 84.3h1.6M439.6 89.7h1.6M439.6 92.4h1.6M439.6 95.1h1.6M439.6 97.8h1.6M439.6 103.2h1.6M439.6 105.9h1.6M439.6 108.6h1.6M439.6 111.3h1.6" stroke="#a8a8a8" stroke-width="0.8" fill="none"/>
<path d="M438.9 46.5h2.4M438.9 60h2.4M438.9 73.5h2.4M438.9 87h2.4M438.9 100.5h2.4" stroke="#666" stroke-width="0.9" fill="none"/>
<path d="M444.5 114.6v1.5M447 114.6v1.5M449.5 114.6v1.5M451.5 114.6v1.5M461.5 114.6v1.5M464.5 114.6v1.5M466.5 114.6v1.5M468 114.6v1.5M469.3 114.6v1.5M474.5 114.6v1.5M479.5 114.6v1.5M482.5 114.6v1.5M485 114.6v1.5M486.5 114.6v1.5M488 114.6v1.5M491.5 114.6v1.5M496.5 114.6v1.5M499.5 114.6v1.5M502 114.6v1.5M503.5 114.6v1.5M504.7 114.6v1.5M509.5 114.6v1.5M511.5 114.6v1.5" stroke="#a8a8a8" stroke-width="0.8" fill="none"/>
<path d="M470.5 114.6v2.2M489.2 114.6v2.2M505.7 114.6v2.2" stroke="#666" stroke-width="0.9" fill="none"/>
<rect x="452.8" y="114.8" width="4.7" height="1.3" fill="#333"/>
<text x="508.3" y="54.8" font-size="7" text-anchor="end" style="stroke-width:0.1px">0.0</text>
<rect x="138.5" y="135.5" width="71" height="70.7" fill="none" stroke="#aaa" stroke-width="1.0"/>
<rect x="162" y="155.5" width="47.5" height="46.2" fill="none" stroke="#a0a0a0" stroke-width="1.2"/>
<path d="M136.6 141.2h1.6M136.6 143.9h1.6M136.6 146.6h1.6M136.6 149.3h1.6M136.6 154.7h1.6M136.6 157.4h1.6M136.6 160.1h1.6M136.6 162.8h1.6M136.6 168.2h1.6M136.6 170.9h1.6M136.6 173.6h1.6M136.6 176.3h1.6M136.6 181.7h1.6M136.6 184.4h1.6M136.6 187.1h1.6M136.6 189.8h1.6M136.6 195.2h1.6M136.6 197.9h1.6M136.6 200.6h1.6M136.6 203.3h1.6" stroke="#a8a8a8" stroke-width="0.8" fill="none"/>
<path d="M135.9 138.5h2.4M135.9 152h2.4M135.9 165.5h2.4M135.9 179h2.4M135.9 192.5h2.4" stroke="#666" stroke-width="0.9" fill="none"/>
<path d="M141.5 206.6v1.5M144 206.6v1.5M146.5 206.6v1.5M148.5 206.6v1.5M158.5 206.6v1.5M161.5 206.6v1.5M163.5 206.6v1.5M165 206.6v1.5M166.3 206.6v1.5M171.5 206.6v1.5M176.5 206.6v1.5M179.5 206.6v1.5M182 206.6v1.5M183.5 206.6v1.5M185 206.6v1.5M188.5 206.6v1.5M193.5 206.6v1.5M196.5 206.6v1.5M199 206.6v1.5M200.5 206.6v1.5M201.7 206.6v1.5M206.5 206.6v1.5M208.5 206.6v1.5" stroke="#a8a8a8" stroke-width="0.8" fill="none"/>
<path d="M167.5 206.6v2.2M186.2 206.6v2.2M202.7 206.6v2.2" stroke="#666" stroke-width="0.9" fill="none"/>
<rect x="147" y="206.8" width="7" height="1.3" fill="#333"/>
<text x="205.3" y="146.8" font-size="7" text-anchor="end" style="stroke-width:0.1px">8.8</text>
<rect x="214.4" y="135.5" width="71" height="70.7" fill="none" stroke="#aaa" stroke-width="1.0"/>
<rect x="237.9" y="155.5" width="47.5" height="46.2" fill="none" stroke="#a0a0a0" stroke-width="1.2"/>
<path d="M212.5 141.2h1.6M212.5 143.9h1.6M212.5 146.6h1.6M212.5 149.3h1.6M212.5 154.7h1.6M212.5 157.4h1.6M212.5 160.1h1.6M212.5 162.8h1.6M212.5 168.2h1.6M212.5 170.9h1.6M212.5 173.6h1.6M212.5 176.3h1.6M212.5 181.7h1.6M212.5 184.4h1.6M212.5 187.1h1.6M212.5 189.8h1.6M212.5 195.2h1.6M212.5 197.9h1.6M212.5 200.6h1.6M212.5 203.3h1.6" stroke="#a8a8a8" stroke-width="0.8" fill="none"/>
<path d="M211.8 138.5h2.4M211.8 152h2.4M211.8 165.5h2.4M211.8 179h2.4M211.8 192.5h2.4" stroke="#666" stroke-width="0.9" fill="none"/>
<path d="M217.4 206.6v1.5M219.9 206.6v1.5M222.4 206.6v1.5M224.4 206.6v1.5M234.4 206.6v1.5M237.4 206.6v1.5M239.4 206.6v1.5M240.9 206.6v1.5M242.2 206.6v1.5M247.4 206.6v1.5M252.4 206.6v1.5M255.4 206.6v1.5M257.9 206.6v1.5M259.4 206.6v1.5M260.9 206.6v1.5M264.4 206.6v1.5M269.4 206.6v1.5M272.4 206.6v1.5M274.9 206.6v1.5M276.4 206.6v1.5M277.6 206.6v1.5M282.4 206.6v1.5M284.4 206.6v1.5" stroke="#a8a8a8" stroke-width="0.8" fill="none"/>
<path d="M243.4 206.6v2.2M262.1 206.6v2.2M278.6 206.6v2.2" stroke="#666" stroke-width="0.9" fill="none"/>
<rect x="222.9" y="206.8" width="7" height="1.3" fill="#333"/>
<text x="281.2" y="146.8" font-size="7" text-anchor="end" style="stroke-width:0.1px">9.3</text>
<rect x="289.9" y="135.5" width="71" height="70.7" fill="none" stroke="#aaa" stroke-width="1.0"/>
<rect x="313.4" y="155.5" width="47.5" height="46.2" fill="none" stroke="#a0a0a0" stroke-width="1.2"/>
<path d="M288 141.2h1.6M288 143.9h1.6M288 146.6h1.6M288 149.3h1.6M288 154.7h1.6M288 157.4h1.6M288 160.1h1.6M288 162.8h1.6M288 168.2h1.6M288 170.9h1.6M288 173.6h1.6M288 176.3h1.6M288 181.7h1.6M288 184.4h1.6M288 187.1h1.6M288 189.8h1.6M288 195.2h1.6M288 197.9h1.6M288 200.6h1.6M288 203.3h1.6" stroke="#a8a8a8" stroke-width="0.8" fill="none"/>
<path d="M287.3 138.5h2.4M287.3 152h2.4M287.3 165.5h2.4M287.3 179h2.4M287.3 192.5h2.4" stroke="#666" stroke-width="0.9" fill="none"/>
<path d="M292.9 206.6v1.5M295.4 206.6v1.5M297.9 206.6v1.5M299.9 206.6v1.5M309.9 206.6v1.5M312.9 206.6v1.5M314.9 206.6v1.5M316.4 206.6v1.5M317.7 206.6v1.5M322.9 206.6v1.5M327.9 206.6v1.5M330.9 206.6v1.5M333.4 206.6v1.5M334.9 206.6v1.5M336.4 206.6v1.5M339.9 206.6v1.5M344.9 206.6v1.5M347.9 206.6v1.5M350.4 206.6v1.5M351.9 206.6v1.5M353.1 206.6v1.5M357.9 206.6v1.5M359.9 206.6v1.5" stroke="#a8a8a8" stroke-width="0.8" fill="none"/>
<path d="M318.9 206.6v2.2M337.6 206.6v2.2M354.1 206.6v2.2" stroke="#666" stroke-width="0.9" fill="none"/>
<rect x="298.4" y="206.8" width="7" height="1.3" fill="#333"/>
<text x="356.7" y="146.8" font-size="7" text-anchor="end" style="stroke-width:0.1px">8.4</text>
<rect x="365.5" y="135.5" width="71" height="70.7" fill="none" stroke="#aaa" stroke-width="1.0"/>
<rect x="389" y="155.5" width="47.5" height="46.2" fill="none" stroke="#a0a0a0" stroke-width="1.2"/>
<path d="M363.6 141.2h1.6M363.6 143.9h1.6M363.6 146.6h1.6M363.6 149.3h1.6M363.6 154.7h1.6M363.6 157.4h1.6M363.6 160.1h1.6M363.6 162.8h1.6M363.6 168.2h1.6M363.6 170.9h1.6M363.6 173.6h1.6M363.6 176.3h1.6M363.6 181.7h1.6M363.6 184.4h1.6M363.6 187.1h1.6M363.6 189.8h1.6M363.6 195.2h1.6M363.6 197.9h1.6M363.6 200.6h1.6M363.6 203.3h1.6" stroke="#a8a8a8" stroke-width="0.8" fill="none"/>
<path d="M362.9 138.5h2.4M362.9 152h2.4M362.9 165.5h2.4M362.9 179h2.4M362.9 192.5h2.4" stroke="#666" stroke-width="0.9" fill="none"/>
<path d="M368.5 206.6v1.5M371 206.6v1.5M373.5 206.6v1.5M375.5 206.6v1.5M385.5 206.6v1.5M388.5 206.6v1.5M390.5 206.6v1.5M392 206.6v1.5M393.3 206.6v1.5M398.5 206.6v1.5M403.5 206.6v1.5M406.5 206.6v1.5M409 206.6v1.5M410.5 206.6v1.5M412 206.6v1.5M415.5 206.6v1.5M420.5 206.6v1.5M423.5 206.6v1.5M426 206.6v1.5M427.5 206.6v1.5M428.7 206.6v1.5M433.5 206.6v1.5M435.5 206.6v1.5" stroke="#a8a8a8" stroke-width="0.8" fill="none"/>
<path d="M394.5 206.6v2.2M413.2 206.6v2.2M429.7 206.6v2.2" stroke="#666" stroke-width="0.9" fill="none"/>
<rect x="374" y="206.8" width="7" height="1.3" fill="#333"/>
<text x="432.3" y="146.8" font-size="7" text-anchor="end" style="stroke-width:0.1px">7.8</text>
<rect x="441.5" y="135.5" width="71" height="70.7" fill="none" stroke="#aaa" stroke-width="1.0"/>
<rect x="465" y="155.5" width="47.5" height="46.2" fill="none" stroke="#a0a0a0" stroke-width="1.2"/>
<path d="M439.6 141.2h1.6M439.6 143.9h1.6M439.6 146.6h1.6M439.6 149.3h1.6M439.6 154.7h1.6M439.6 157.4h1.6M439.6 160.1h1.6M439.6 162.8h1.6M439.6 168.2h1.6M439.6 170.9h1.6M439.6 173.6h1.6M439.6 176.3h1.6M439.6 181.7h1.6M439.6 184.4h1.6M439.6 187.1h1.6M439.6 189.8h1.6M439.6 195.2h1.6M439.6 197.9h1.6M439.6 200.6h1.6M439.6 203.3h1.6" stroke="#a8a8a8" stroke-width="0.8" fill="none"/>
<path d="M438.9 138.5h2.4M438.9 152h2.4M438.9 165.5h2.4M438.9 179h2.4M438.9 192.5h2.4" stroke="#666" stroke-width="0.9" fill="none"/>
<path d="M444.5 206.6v1.5M447 206.6v1.5M449.5 206.6v1.5M451.5 206.6v1.5M461.5 206.6v1.5M464.5 206.6v1.5M466.5 206.6v1.5M468 206.6v1.5M469.3 206.6v1.5M474.5 206.6v1.5M479.5 206.6v1.5M482.5 206.6v1.5M485 206.6v1.5M486.5 206.6v1.5M488 206.6v1.5M491.5 206.6v1.5M496.5 206.6v1.5M499.5 206.6v1.5M502 206.6v1.5M503.5 206.6v1.5M504.7 206.6v1.5M509.5 206.6v1.5M511.5 206.6v1.5" stroke="#a8a8a8" stroke-width="0.8" fill="none"/>
<path d="M470.5 206.6v2.2M489.2 206.6v2.2M505.7 206.6v2.2" stroke="#666" stroke-width="0.9" fill="none"/>
<rect x="450" y="206.8" width="7" height="1.3" fill="#333"/>
<text x="508.3" y="146.8" font-size="7" text-anchor="end" style="stroke-width:0.1px">3.3</text>
<rect x="138.5" y="229" width="71" height="70.7" fill="none" stroke="#aaa" stroke-width="1.0"/>
<rect x="166" y="246.4" width="42.5" height="50.8" fill="none" stroke="#8c8c8c" stroke-width="1.0"/>
<path d="M136.6 234.7h1.6M136.6 237.4h1.6M136.6 240.1h1.6M136.6 242.8h1.6M136.6 248.2h1.6M136.6 250.9h1.6M136.6 253.6h1.6M136.6 256.3h1.6M136.6 261.7h1.6M136.6 264.4h1.6M136.6 267.1h1.6M136.6 269.8h1.6M136.6 275.2h1.6M136.6 277.9h1.6M136.6 280.6h1.6M136.6 283.3h1.6M136.6 288.7h1.6M136.6 291.4h1.6M136.6 294.1h1.6M136.6 296.8h1.6" stroke="#a8a8a8" stroke-width="0.8" fill="none"/>
<path d="M135.9 232h2.4M135.9 245.5h2.4M135.9 259h2.4M135.9 272.5h2.4M135.9 286h2.4" stroke="#666" stroke-width="0.9" fill="none"/>
<path d="M141.5 300.1v1.5M144 300.1v1.5M146.5 300.1v1.5M148.5 300.1v1.5M158.5 300.1v1.5M161.5 300.1v1.5M163.5 300.1v1.5M165 300.1v1.5M166.3 300.1v1.5M171.5 300.1v1.5M176.5 300.1v1.5M179.5 300.1v1.5M182 300.1v1.5M183.5 300.1v1.5M185 300.1v1.5M188.5 300.1v1.5M193.5 300.1v1.5M196.5 300.1v1.5M199 300.1v1.5M200.5 300.1v1.5M201.7 300.1v1.5M206.5 300.1v1.5M208.5 300.1v1.5" stroke="#a8a8a8" stroke-width="0.8" fill="none"/>
<path d="M167.5 300.1v2.2M186.2 300.1v2.2M202.7 300.1v2.2" stroke="#666" stroke-width="0.9" fill="none"/>
<rect x="152.7" y="300.3" width="3.8" height="1.3" fill="#333"/>
<text x="205.3" y="240.3" font-size="7" text-anchor="end" style="stroke-width:0.1px">0.9</text>
<rect x="214.4" y="229" width="71" height="70.7" fill="none" stroke="#aaa" stroke-width="1.0"/>
<rect x="241.9" y="246.4" width="42.5" height="50.8" fill="none" stroke="#8c8c8c" stroke-width="1.0"/>
<path d="M212.5 234.7h1.6M212.5 237.4h1.6M212.5 240.1h1.6M212.5 242.8h1.6M212.5 248.2h1.6M212.5 250.9h1.6M212.5 253.6h1.6M212.5 256.3h1.6M212.5 261.7h1.6M212.5 264.4h1.6M212.5 267.1h1.6M212.5 269.8h1.6M212.5 275.2h1.6M212.5 277.9h1.6M212.5 280.6h1.6M212.5 283.3h1.6M212.5 288.7h1.6M212.5 291.4h1.6M212.5 294.1h1.6M212.5 296.8h1.6" stroke="#a8a8a8" stroke-width="0.8" fill="none"/>
<path d="M211.8 232h2.4M211.8 245.5h2.4M211.8 259h2.4M211.8 272.5h2.4M211.8 286h2.4" stroke="#666" stroke-width="0.9" fill="none"/>
<path d="M217.4 300.1v1.5M219.9 300.1v1.5M222.4 300.1v1.5M224.4 300.1v1.5M234.4 300.1v1.5M237.4 300.1v1.5M239.4 300.1v1.5M240.9 300.1v1.5M242.2 300.1v1.5M247.4 300.1v1.5M252.4 300.1v1.5M255.4 300.1v1.5M257.9 300.1v1.5M259.4 300.1v1.5M260.9 300.1v1.5M264.4 300.1v1.5M269.4 300.1v1.5M272.4 300.1v1.5M274.9 300.1v1.5M276.4 300.1v1.5M277.6 300.1v1.5M282.4 300.1v1.5M284.4 300.1v1.5" stroke="#a8a8a8" stroke-width="0.8" fill="none"/>
<path d="M243.4 300.1v2.2M262.1 300.1v2.2M278.6 300.1v2.2" stroke="#666" stroke-width="0.9" fill="none"/>
<rect x="228.6" y="300.3" width="3.8" height="1.3" fill="#333"/>
<text x="281.2" y="240.3" font-size="7" text-anchor="end" style="stroke-width:0.1px">1.5</text>
<rect x="289.9" y="229" width="71" height="70.7" fill="none" stroke="#aaa" stroke-width="1.0"/>
<rect x="317.4" y="246.4" width="42.5" height="50.8" fill="none" stroke="#8c8c8c" stroke-width="1.0"/>
<path d="M288 234.7h1.6M288 237.4h1.6M288 240.1h1.6M288 242.8h1.6M288 248.2h1.6M288 250.9h1.6M288 253.6h1.6M288 256.3h1.6M288 261.7h1.6M288 264.4h1.6M288 267.1h1.6M288 269.8h1.6M288 275.2h1.6M288 277.9h1.6M288 280.6h1.6M288 283.3h1.6M288 288.7h1.6M288 291.4h1.6M288 294.1h1.6M288 296.8h1.6" stroke="#a8a8a8" stroke-width="0.8" fill="none"/>
<path d="M287.3 232h2.4M287.3 245.5h2.4M287.3 259h2.4M287.3 272.5h2.4M287.3 286h2.4" stroke="#666" stroke-width="0.9" fill="none"/>
<path d="M292.9 300.1v1.5M295.4 300.1v1.5M297.9 300.1v1.5M299.9 300.1v1.5M309.9 300.1v1.5M312.9 300.1v1.5M314.9 300.1v1.5M316.4 300.1v1.5M317.7 300.1v1.5M322.9 300.1v1.5M327.9 300.1v1.5M330.9 300.1v1.5M333.4 300.1v1.5M334.9 300.1v1.5M336.4 300.1v1.5M339.9 300.1v1.5M344.9 300.1v1.5M347.9 300.1v1.5M350.4 300.1v1.5M351.9 300.1v1.5M353.1 300.1v1.5M357.9 300.1v1.5M359.9 300.1v1.5" stroke="#a8a8a8" stroke-width="0.8" fill="none"/>
<path d="M318.9 300.1v2.2M337.6 300.1v2.2M354.1 300.1v2.2" stroke="#666" stroke-width="0.9" fill="none"/>
<rect x="304.1" y="300.3" width="3.8" height="1.3" fill="#333"/>
<text x="356.7" y="240.3" font-size="7" text-anchor="end" style="stroke-width:0.1px">1.2</text>
<rect x="365.5" y="229" width="71" height="70.7" fill="none" stroke="#aaa" stroke-width="1.0"/>
<rect x="393" y="246.4" width="42.5" height="50.8" fill="none" stroke="#8c8c8c" stroke-width="1.0"/>
<path d="M363.6 234.7h1.6M363.6 237.4h1.6M363.6 240.1h1.6M363.6 242.8h1.6M363.6 248.2h1.6M363.6 250.9h1.6M363.6 253.6h1.6M363.6 256.3h1.6M363.6 261.7h1.6M363.6 264.4h1.6M363.6 267.1h1.6M363.6 269.8h1.6M363.6 275.2h1.6M363.6 277.9h1.6M363.6 280.6h1.6M363.6 283.3h1.6M363.6 288.7h1.6M363.6 291.4h1.6M363.6 294.1h1.6M363.6 296.8h1.6" stroke="#a8a8a8" stroke-width="0.8" fill="none"/>
<path d="M362.9 232h2.4M362.9 245.5h2.4M362.9 259h2.4M362.9 272.5h2.4M362.9 286h2.4" stroke="#666" stroke-width="0.9" fill="none"/>
<path d="M368.5 300.1v1.5M371 300.1v1.5M373.5 300.1v1.5M375.5 300.1v1.5M385.5 300.1v1.5M388.5 300.1v1.5M390.5 300.1v1.5M392 300.1v1.5M393.3 300.1v1.5M398.5 300.1v1.5M403.5 300.1v1.5M406.5 300.1v1.5M409 300.1v1.5M410.5 300.1v1.5M412 300.1v1.5M415.5 300.1v1.5M420.5 300.1v1.5M423.5 300.1v1.5M426 300.1v1.5M427.5 300.1v1.5M428.7 300.1v1.5M433.5 300.1v1.5M435.5 300.1v1.5" stroke="#a8a8a8" stroke-width="0.8" fill="none"/>
<path d="M394.5 300.1v2.2M413.2 300.1v2.2M429.7 300.1v2.2" stroke="#666" stroke-width="0.9" fill="none"/>
<rect x="379.7" y="300.3" width="3.8" height="1.3" fill="#333"/>
<text x="432.3" y="240.3" font-size="7" text-anchor="end" style="stroke-width:0.1px">1.0</text>
<rect x="441.5" y="229" width="71" height="70.7" fill="none" stroke="#aaa" stroke-width="1.0"/>
<rect x="469" y="246.4" width="42.5" height="50.8" fill="none" stroke="#8c8c8c" stroke-width="1.0"/>
<path d="M439.6 234.7h1.6M439.6 237.4h1.6M439.6 240.1h1.6M439.6 242.8h1.6M439.6 248.2h1.6M439.6 250.9h1.6M439.6 253.6h1.6M439.6 256.3h1.6M439.6 261.7h1.6M439.6 264.4h1.6M439.6 267.1h1.6M439.6 269.8h1.6M439.6 275.2h1.6M439.6 277.9h1.6M439.6 280.6h1.6M439.6 283.3h1.6M439.6 288.7h1.6M439.6 291.4h1.6M439.6 294.1h1.6M439.6 296.8h1.6" stroke="#a8a8a8" stroke-width="0.8" fill="none"/>
<path d="M438.9 232h2.4M438.9 245.5h2.4M438.9 259h2.4M438.9 272.5h2.4M438.9 286h2.4" stroke="#666" stroke-width="0.9" fill="none"/>
<path d="M444.5 300.1v1.5M447 300.1v1.5M449.5 300.1v1.5M451.5 300.1v1.5M461.5 300.1v1.5M464.5 300.1v1.5M466.5 300.1v1.5M468 300.1v1.5M469.3 300.1v1.5M474.5 300.1v1.5M479.5 300.1v1.5M482.5 300.1v1.5M485 300.1v1.5M486.5 300.1v1.5M488 300.1v1.5M491.5 300.1v1.5M496.5 300.1v1.5M499.5 300.1v1.5M502 300.1v1.5M503.5 300.1v1.5M504.7 300.1v1.5M509.5 300.1v1.5M511.5 300.1v1.5" stroke="#a8a8a8" stroke-width="0.8" fill="none"/>
<path d="M470.5 300.1v2.2M489.2 300.1v2.2M505.7 300.1v2.2" stroke="#666" stroke-width="0.9" fill="none"/>
<rect x="455.7" y="300.3" width="3.8" height="1.3" fill="#333"/>
<text x="508.3" y="240.3" font-size="7" text-anchor="end" style="stroke-width:0.1px">0.2</text>
<rect x="138.5" y="325.2" width="71" height="70.7" fill="none" stroke="#aaa" stroke-width="1.0"/>
<rect x="165.9" y="347" width="43.1" height="46.5" fill="none" stroke="#909090" stroke-width="1.0"/>
<path d="M136.6 330.9h1.6M136.6 333.6h1.6M136.6 336.3h1.6M136.6 339h1.6M136.6 344.4h1.6M136.6 347.1h1.6M136.6 349.8h1.6M136.6 352.5h1.6M136.6 357.9h1.6M136.6 360.6h1.6M136.6 363.3h1.6M136.6 366h1.6M136.6 371.4h1.6M136.6 374.1h1.6M136.6 376.8h1.6M136.6 379.5h1.6M136.6 384.9h1.6M136.6 387.6h1.6M136.6 390.3h1.6M136.6 393h1.6" stroke="#a8a8a8" stroke-width="0.8" fill="none"/>
<path d="M135.9 328.2h2.4M135.9 341.7h2.4M135.9 355.2h2.4M135.9 368.7h2.4M135.9 382.2h2.4" stroke="#666" stroke-width="0.9" fill="none"/>
<path d="M141.5 396.3v1.5M144 396.3v1.5M146.5 396.3v1.5M148.5 396.3v1.5M158.5 396.3v1.5M161.5 396.3v1.5M163.5 396.3v1.5M165 396.3v1.5M166.3 396.3v1.5M171.5 396.3v1.5M176.5 396.3v1.5M179.5 396.3v1.5M182 396.3v1.5M183.5 396.3v1.5M185 396.3v1.5M188.5 396.3v1.5M193.5 396.3v1.5M196.5 396.3v1.5M199 396.3v1.5M200.5 396.3v1.5M201.7 396.3v1.5M206.5 396.3v1.5M208.5 396.3v1.5" stroke="#a8a8a8" stroke-width="0.8" fill="none"/>
<path d="M167.5 396.3v2.2M186.2 396.3v2.2M202.7 396.3v2.2" stroke="#666" stroke-width="0.9" fill="none"/>
<rect x="153" y="396.5" width="3" height="1.3" fill="#333"/>
<text x="205.3" y="336.5" font-size="7" text-anchor="end" style="stroke-width:0.1px">1.1</text>
<rect x="214.4" y="325.2" width="71" height="70.7" fill="none" stroke="#aaa" stroke-width="1.0"/>
<rect x="241.8" y="347" width="43.1" height="46.5" fill="none" stroke="#909090" stroke-width="1.0"/>
<path d="M212.5 330.9h1.6M212.5 333.6h1.6M212.5 336.3h1.6M212.5 339h1.6M212.5 344.4h1.6M212.5 347.1h1.6M212.5 349.8h1.6M212.5 352.5h1.6M212.5 357.9h1.6M212.5 360.6h1.6M212.5 363.3h1.6M212.5 366h1.6M212.5 371.4h1.6M212.5 374.1h1.6M212.5 376.8h1.6M212.5 379.5h1.6M212.5 384.9h1.6M212.5 387.6h1.6M212.5 390.3h1.6M212.5 393h1.6" stroke="#a8a8a8" stroke-width="0.8" fill="none"/>
<path d="M211.8 328.2h2.4M211.8 341.7h2.4M211.8 355.2h2.4M211.8 368.7h2.4M211.8 382.2h2.4" stroke="#666" stroke-width="0.9" fill="none"/>
<path d="M217.4 396.3v1.5M219.9 396.3v1.5M222.4 396.3v1.5M224.4 396.3v1.5M234.4 396.3v1.5M237.4 396.3v1.5M239.4 396.3v1.5M240.9 396.3v1.5M242.2 396.3v1.5M247.4 396.3v1.5M252.4 396.3v1.5M255.4 396.3v1.5M257.9 396.3v1.5M259.4 396.3v1.5M260.9 396.3v1.5M264.4 396.3v1.5M269.4 396.3v1.5M272.4 396.3v1.5M274.9 396.3v1.5M276.4 396.3v1.5M277.6 396.3v1.5M282.4 396.3v1.5M284.4 396.3v1.5" stroke="#a8a8a8" stroke-width="0.8" fill="none"/>
<path d="M243.4 396.3v2.2M262.1 396.3v2.2M278.6 396.3v2.2" stroke="#666" stroke-width="0.9" fill="none"/>
<rect x="228.9" y="396.5" width="3" height="1.3" fill="#333"/>
<text x="281.2" y="336.5" font-size="7" text-anchor="end" style="stroke-width:0.1px">1.9</text>
<rect x="289.9" y="325.2" width="71" height="70.7" fill="none" stroke="#aaa" stroke-width="1.0"/>
<rect x="317.3" y="347" width="43.1" height="46.5" fill="none" stroke="#909090" stroke-width="1.0"/>
<path d="M288 330.9h1.6M288 333.6h1.6M288 336.3h1.6M288 339h1.6M288 344.4h1.6M288 347.1h1.6M288 349.8h1.6M288 352.5h1.6M288 357.9h1.6M288 360.6h1.6M288 363.3h1.6M288 366h1.6M288 371.4h1.6M288 374.1h1.6M288 376.8h1.6M288 379.5h1.6M288 384.9h1.6M288 387.6h1.6M288 390.3h1.6M288 393h1.6" stroke="#a8a8a8" stroke-width="0.8" fill="none"/>
<path d="M287.3 328.2h2.4M287.3 341.7h2.4M287.3 355.2h2.4M287.3 368.7h2.4M287.3 382.2h2.4" stroke="#666" stroke-width="0.9" fill="none"/>
<path d="M292.9 396.3v1.5M295.4 396.3v1.5M297.9 396.3v1.5M299.9 396.3v1.5M309.9 396.3v1.5M312.9 396.3v1.5M314.9 396.3v1.5M316.4 396.3v1.5M317.7 396.3v1.5M322.9 396.3v1.5M327.9 396.3v1.5M330.9 396.3v1.5M333.4 396.3v1.5M334.9 396.3v1.5M336.4 396.3v1.5M339.9 396.3v1.5M344.9 396.3v1.5M347.9 396.3v1.5M350.4 396.3v1.5M351.9 396.3v1.5M353.1 396.3v1.5M357.9 396.3v1.5M359.9 396.3v1.5" stroke="#a8a8a8" stroke-width="0.8" fill="none"/>
<path d="M318.9 396.3v2.2M337.6 396.3v2.2M354.1 396.3v2.2" stroke="#666" stroke-width="0.9" fill="none"/>
<rect x="304.4" y="396.5" width="3" height="1.3" fill="#333"/>
<text x="356.7" y="336.5" font-size="7" text-anchor="end" style="stroke-width:0.1px">1.6</text>
<rect x="365.5" y="325.2" width="71" height="70.7" fill="none" stroke="#aaa" stroke-width="1.0"/>
<rect x="392.9" y="347" width="43.1" height="46.5" fill="none" stroke="#909090" stroke-width="1.0"/>
<path d="M363.6 330.9h1.6M363.6 333.6h1.6M363.6 336.3h1.6M363.6 339h1.6M363.6 344.4h1.6M363.6 347.1h1.6M363.6 349.8h1.6M363.6 352.5h1.6M363.6 357.9h1.6M363.6 360.6h1.6M363.6 363.3h1.6M363.6 366h1.6M363.6 371.4h1.6M363.6 374.1h1.6M363.6 376.8h1.6M363.6 379.5h1.6M363.6 384.9h1.6M363.6 387.6h1.6M363.6 390.3h1.6M363.6 393h1.6" stroke="#a8a8a8" stroke-width="0.8" fill="none"/>
<path d="M362.9 328.2h2.4M362.9 341.7h2.4M362.9 355.2h2.4M362.9 368.7h2.4M362.9 382.2h2.4" stroke="#666" stroke-width="0.9" fill="none"/>
<path d="M368.5 396.3v1.5M371 396.3v1.5M373.5 396.3v1.5M375.5 396.3v1.5M385.5 396.3v1.5M388.5 396.3v1.5M390.5 396.3v1.5M392 396.3v1.5M393.3 396.3v1.5M398.5 396.3v1.5M403.5 396.3v1.5M406.5 396.3v1.5M409 396.3v1.5M410.5 396.3v1.5M412 396.3v1.5M415.5 396.3v1.5M420.5 396.3v1.5M423.5 396.3v1.5M426 396.3v1.5M427.5 396.3v1.5M428.7 396.3v1.5M433.5 396.3v1.5M435.5 396.3v1.5" stroke="#a8a8a8" stroke-width="0.8" fill="none"/>
<path d="M394.5 396.3v2.2M413.2 396.3v2.2M429.7 396.3v2.2" stroke="#666" stroke-width="0.9" fill="none"/>
<rect x="380" y="396.5" width="3" height="1.3" fill="#333"/>
<text x="432.3" y="336.5" font-size="7" text-anchor="end" style="stroke-width:0.1px">1.1</text>
<rect x="441.5" y="325.2" width="71" height="70.7" fill="none" stroke="#aaa" stroke-width="1.0"/>
<rect x="468.9" y="347" width="43.1" height="46.5" fill="none" stroke="#909090" stroke-width="1.0"/>
<path d="M439.6 330.9h1.6M439.6 333.6h1.6M439.6 336.3h1.6M439.6 339h1.6M439.6 344.4h1.6M439.6 347.1h1.6M439.6 349.8h1.6M439.6 352.5h1.6M439.6 357.9h1.6M439.6 360.6h1.6M439.6 363.3h1.6M439.6 366h1.6M439.6 371.4h1.6M439.6 374.1h1.6M439.6 376.8h1.6M439.6 379.5h1.6M439.6 384.9h1.6M439.6 387.6h1.6M439.6 390.3h1.6M439.6 393h1.6" stroke="#a8a8a8" stroke-width="0.8" fill="none"/>
<path d="M438.9 328.2h2.4M438.9 341.7h2.4M438.9 355.2h2.4M438.9 368.7h2.4M438.9 382.2h2.4" stroke="#666" stroke-width="0.9" fill="none"/>
<path d="M444.5 396.3v1.5M447 396.3v1.5M449.5 396.3v1.5M451.5 396.3v1.5M461.5 396.3v1.5M464.5 396.3v1.5M466.5 396.3v1.5M468 396.3v1.5M469.3 396.3v1.5M474.5 396.3v1.5M479.5 396.3v1.5M482.5 396.3v1.5M485 396.3v1.5M486.5 396.3v1.5M488 396.3v1.5M491.5 396.3v1.5M496.5 396.3v1.5M499.5 396.3v1.5M502 396.3v1.5M503.5 396.3v1.5M504.7 396.3v1.5M509.5 396.3v1.5M511.5 396.3v1.5" stroke="#a8a8a8" stroke-width="0.8" fill="none"/>
<path d="M470.5 396.3v2.2M489.2 396.3v2.2M505.7 396.3v2.2" stroke="#666" stroke-width="0.9" fill="none"/>
<rect x="456" y="396.5" width="3" height="1.3" fill="#333"/>
<text x="508.3" y="336.5" font-size="7" text-anchor="end" style="stroke-width:0.1px">0.1</text>
<line x1="129.6" y1="94.4" x2="129.6" y2="52.5" stroke="#222" stroke-width="1.1"/>
<path d="M129.6 47.5 L132.4 53.7 L129.6 52.1 L126.8 53.7 Z" fill="#111"/>
<text transform="translate(132.6 112.1) rotate(-90)" font-size="10.3" fill="#222" textLength="15.3" lengthAdjust="spacingAndGlyphs">SSC</text>
<line x1="166.6" y1="122.7" x2="507" y2="122.7" stroke="#222" stroke-width="1.1"/>
<path d="M513 122.7 L504.8 119.4 L506.6 122.7 L504.8 126 Z" fill="#111"/>
<line x1="129.6" y1="186.4" x2="129.6" y2="144.5" stroke="#222" stroke-width="1.1"/>
<path d="M129.6 139.5 L132.4 145.7 L129.6 144.1 L126.8 145.7 Z" fill="#111"/>
<text transform="translate(132.6 204.1) rotate(-90)" font-size="10.3" fill="#222" textLength="15.3" lengthAdjust="spacingAndGlyphs">SSC</text>
<line x1="166.6" y1="214.4" x2="507" y2="214.4" stroke="#222" stroke-width="1.1"/>
<path d="M513 214.4 L504.8 211.1 L506.6 214.4 L504.8 217.7 Z" fill="#111"/>
<line x1="129.6" y1="279.9" x2="129.6" y2="238" stroke="#222" stroke-width="1.1"/>
<path d="M129.6 233 L132.4 239.2 L129.6 237.6 L126.8 239.2 Z" fill="#111"/>
<text transform="translate(132.6 297.6) rotate(-90)" font-size="10.3" fill="#222" textLength="15.3" lengthAdjust="spacingAndGlyphs">SSC</text>
<line x1="166.6" y1="309.3" x2="507" y2="309.3" stroke="#222" stroke-width="1.1"/>
<path d="M513 309.3 L504.8 306 L506.6 309.3 L504.8 312.6 Z" fill="#111"/>
<line x1="129.6" y1="376.1" x2="129.6" y2="334.2" stroke="#222" stroke-width="1.1"/>
<path d="M129.6 329.2 L132.4 335.4 L129.6 333.8 L126.8 335.4 Z" fill="#111"/>
<text transform="translate(132.6 393.8) rotate(-90)" font-size="10.3" fill="#222" textLength="15.3" lengthAdjust="spacingAndGlyphs">SSC</text>
<line x1="166.6" y1="405.4" x2="507" y2="405.4" stroke="#222" stroke-width="1.1"/>
<path d="M513 405.4 L504.8 402.1 L506.6 405.4 L504.8 408.7 Z" fill="#111"/>
<text x="146.9" y="126.1" font-size="9.6" fill="#222" textLength="16.8" lengthAdjust="spacingAndGlyphs">IRF4</text>
<text x="142.9" y="218" font-size="9.6" fill="#222" textLength="22.4" lengthAdjust="spacingAndGlyphs">CD69</text>
<text x="142.9" y="312" font-size="9.6" fill="#222" textLength="22.2" lengthAdjust="spacingAndGlyphs">CD25</text>
<text x="139.1" y="408.9" font-size="9.6" fill="#222" textLength="27" lengthAdjust="spacingAndGlyphs">CD137</text>
<text x="8" y="16.8" font-size="11.5" style="stroke-width:0.05px">A</text>
<text x="118.3" y="16.6" font-size="11" style="stroke-width:0.05px">B</text>
<text x="277.7" y="23.2" font-size="9.9" fill="#222" textLength="15.1" lengthAdjust="spacingAndGlyphs">CEF</text>
<line x1="137.7" y1="27.8" x2="432.3" y2="27.8" stroke="#444" stroke-width="1"/>
<rect x="175.2" y="35.2" width="1.3" height="0.9" fill="#555"/>
<text x="217.8" y="38.2" font-size="7" style="stroke-width:0.14px" textLength="60.2" lengthAdjust="spacingAndGlyphs">pMHC-I mAb 10µg</text>
<text x="297" y="38.2" font-size="7" style="stroke-width:0.14px" textLength="60" lengthAdjust="spacingAndGlyphs">pMHC-I mAb 30µg</text>
<text x="368.9" y="38.2" font-size="7" style="stroke-width:0.14px" textLength="64.6" lengthAdjust="spacingAndGlyphs">pMHC-I mAb 100µg</text>
<text x="463.8" y="38.2" font-size="7" style="stroke-width:0.14px" textLength="23.1" lengthAdjust="spacingAndGlyphs">Unstim</text>
<path d="M21 46.4 L21 46.3 L22 46.3 L23.5 46.2 L25.2 46.2 L27 46.1 L28.6 46.1 L30 46 L31.1 45.9 L32 45.8 L32.8 45.7 L33.5 45.6 L34.2 45.4 L35 45.3 L35.9 45.1 L36.7 45 L37.6 44.8 L38.5 44.6 L39.3 44.4 L40 44.2 L40.6 44 L41.2 43.7 L41.7 43.4 L42.1 43.2 L42.6 42.9 L43 42.6 L43.4 42.3 L43.8 42.1 L44.2 41.8 L44.6 41.6 L45 41.2 L45.4 40.8 L45.9 40.3 L46.4 39.7 L47 39 L47.5 38.3 L48 37.6 L48.5 36.9 L48.9 36.3 L49.3 35.6 L49.7 35 L50.1 34.3 L50.4 33.7 L50.8 33.1 L51.1 32.5 L51.4 31.8 L51.7 31.1 L52 30.5 L52.3 30.1 L52.7 30 L53.1 30.1 L53.6 30.5 L54 31 L54.5 31.6 L55 32.3 L55.4 33.1 L55.8 34 L56.2 35 L56.6 36.1 L57 37.2 L57.4 38.3 L57.7 39.2 L58 40 L58.2 40.9 L58.5 41.6 L58.7 42.3 L58.9 42.9 L59.2 43.5 L59.5 44 L59.8 44.4 L60.1 44.7 L60.4 45 L60.7 45.3 L61 45.5 L61 45.7 L60.6 45.8 L60.1 45.9 L60.1 46 L61 46 L63 46.1 L66.9 46.2 L72.5 46.2 L78.9 46.2 L85.2 46.3 L90.7 46.3 L94.5 46.3 L94.5 46.4 L94.5 46.4 L21 46.4 Z" fill="#d5998c" stroke="none"/>
<path d="M21 46.4 L21 46.3 L22 46.3 L23.5 46.2 L25.2 46.2 L27 46.1 L28.6 46.1 L30 46 L31.1 45.9 L32 45.8 L32.8 45.7 L33.5 45.6 L34.2 45.4 L35 45.3 L35.9 45.1 L36.7 45 L37.6 44.8 L38.5 44.6 L39.3 44.4 L40 44.2 L40.6 44 L41.2 43.7 L41.7 43.4 L42.1 43.2 L42.6 42.9 L43 42.6 L43.4 42.3 L43.8 42.1 L44.2 41.8 L44.6 41.6 L45 41.2 L45.4 40.8 L45.9 40.3 L46.4 39.7 L47 39 L47.5 38.3 L48 37.6 L48.5 36.9 L48.9 36.3 L49.3 35.6 L49.7 35 L50.1 34.3 L50.4 33.7 L50.8 33.1 L51.1 32.5 L51.4 31.8 L51.7 31.1 L52 30.5 L52.3 30.1 L52.7 30 L53.1 30.1 L53.6 30.5 L54 31 L54.5 31.6 L55 32.3 L55.4 33.1 L55.8 34 L56.2 35 L56.6 36.1 L57 37.2 L57.4 38.3 L57.7 39.2 L58 40 L58.2 40.9 L58.5 41.6 L58.7 42.3 L58.9 42.9 L59.2 43.5 L59.5 44 L59.8 44.4 L60.1 44.7 L60.4 45 L60.7 45.3 L61 45.5 L61 45.7 L60.6 45.8 L60.1 45.9 L60.1 46 L61 46 L63 46.1 L66.9 46.2 L72.5 46.2 L78.9 46.2 L85.2 46.3 L90.7 46.3 L94.5 46.3 L94.5 46.4" fill="none" stroke="#b8344e" stroke-width="1.1"/>
<path d="M21 64.4 L21 63.9 L22 63.8 L23.5 63.7 L25.2 63.5 L27 63.4 L28.6 63.2 L30 63.1 L31.1 63 L32 62.9 L32.8 62.7 L33.5 62.6 L34.2 62.5 L35 62.4 L35.9 62.3 L36.7 62.3 L37.6 62.3 L38.5 62.2 L39.3 62.1 L40 61.9 L40.6 61.6 L41.1 61.3 L41.6 60.8 L42.1 60.4 L42.5 59.9 L43 59.4 L43.5 58.9 L44 58.3 L44.5 57.7 L45 57.1 L45.5 56.5 L46 55.9 L46.5 55.3 L47 54.6 L47.5 54 L48 53.4 L48.5 52.7 L49 52.1 L49.4 51.5 L49.9 50.8 L50.3 50.2 L50.7 49.6 L51.1 49 L51.5 48.6 L51.9 48.2 L52.3 47.9 L52.8 47.7 L53.2 47.5 L53.6 47.5 L54 47.5 L54.4 47.7 L54.9 47.9 L55.3 48.3 L55.7 48.8 L56.1 49.3 L56.5 49.8 L56.9 50.4 L57.2 51.1 L57.5 51.8 L57.8 52.5 L58.2 53.3 L58.5 54 L58.9 54.7 L59.2 55.5 L59.6 56.2 L60 56.9 L60.4 57.6 L60.8 58.2 L61.2 58.7 L61.5 59.1 L61.9 59.5 L62.2 59.9 L62.6 60.2 L63 60.5 L63.4 60.8 L63.9 61.1 L64.4 61.4 L64.9 61.6 L65.4 61.9 L66 62.1 L66.6 62.3 L67.3 62.5 L67.9 62.7 L68.6 62.9 L69.3 63 L70 63.2 L70.7 63.4 L71.3 63.5 L72 63.7 L72.7 63.8 L73.3 63.9 L74 64 L74.5 64.1 L74.9 64.1 L75.2 64.2 L75.7 64.2 L76.6 64.3 L78 64.3 L80.2 64.3 L83.2 64.3 L86.5 64.3 L89.8 64.3 L92.6 64.3 L94.5 64.3 L94.5 64.4 L94.5 64.4 L21 64.4 Z" fill="#a3a5c8" stroke="none"/>
<path d="M21 64.4 L21 63.9 L22 63.8 L23.5 63.7 L25.2 63.5 L27 63.4 L28.6 63.2 L30 63.1 L31.1 63 L32 62.9 L32.8 62.7 L33.5 62.6 L34.2 62.5 L35 62.4 L35.9 62.3 L36.7 62.3 L37.6 62.3 L38.5 62.2 L39.3 62.1 L40 61.9 L40.6 61.6 L41.1 61.3 L41.6 60.8 L42.1 60.4 L42.5 59.9 L43 59.4 L43.5 58.9 L44 58.3 L44.5 57.7 L45 57.1 L45.5 56.5 L46 55.9 L46.5 55.3 L47 54.6 L47.5 54 L48 53.4 L48.5 52.7 L49 52.1 L49.4 51.5 L49.9 50.8 L50.3 50.2 L50.7 49.6 L51.1 49 L51.5 48.6 L51.9 48.2 L52.3 47.9 L52.8 47.7 L53.2 47.5 L53.6 47.5 L54 47.5 L54.4 47.7 L54.9 47.9 L55.3 48.3 L55.7 48.8 L56.1 49.3 L56.5 49.8 L56.9 50.4 L57.2 51.1 L57.5 51.8 L57.8 52.5 L58.2 53.3 L58.5 54 L58.9 54.7 L59.2 55.5 L59.6 56.2 L60 56.9 L60.4 57.6 L60.8 58.2 L61.2 58.7 L61.5 59.1 L61.9 59.5 L62.2 59.9 L62.6 60.2 L63 60.5 L63.4 60.8 L63.9 61.1 L64.4 61.4 L64.9 61.6 L65.4 61.9 L66 62.1 L66.6 62.3 L67.3 62.5 L67.9 62.7 L68.6 62.9 L69.3 63 L70 63.2 L70.7 63.4 L71.3 63.5 L72 63.7 L72.7 63.8 L73.3 63.9 L74 64 L74.5 64.1 L74.9 64.1 L75.2 64.2 L75.7 64.2 L76.6 64.3 L78 64.3 L80.2 64.3 L83.2 64.3 L86.5 64.3 L89.8 64.3 L92.6 64.3 L94.5 64.3 L94.5 64.4" fill="none" stroke="#4a6896" stroke-width="1.1"/>
<path d="M21 82.4 L21 81.3 L22 81.3 L23.5 81.2 L25.2 81.1 L27 81.1 L28.6 81 L30 80.9 L31.1 80.8 L32 80.7 L32.8 80.6 L33.5 80.5 L34.2 80.4 L35 80.2 L35.9 80 L36.7 79.8 L37.6 79.6 L38.5 79.4 L39.3 79.1 L40 78.9 L40.6 78.7 L41.1 78.5 L41.6 78.3 L42.1 78 L42.5 77.7 L43 77.4 L43.5 77 L44 76.5 L44.5 76 L45 75.4 L45.5 74.9 L46 74.3 L46.5 73.7 L47 73 L47.5 72.4 L48 71.7 L48.5 71.1 L49 70.5 L49.4 70 L49.9 69.5 L50.3 69 L50.7 68.6 L51.1 68.2 L51.5 67.8 L51.9 67.4 L52.4 67 L52.8 66.7 L53.2 66.3 L53.6 66 L54 65.8 L54.3 65.6 L54.5 65.4 L54.8 65.3 L55 65.2 L55.2 65.2 L55.4 65.2 L55.7 65.3 L55.9 65.5 L56.2 65.7 L56.4 65.9 L56.7 66.2 L57 66.6 L57.3 67 L57.6 67.5 L58 68 L58.3 68.6 L58.7 69.2 L59 69.7 L59.3 70.2 L59.7 70.8 L60 71.3 L60.3 71.8 L60.7 72.3 L61 72.8 L61.3 73.2 L61.6 73.7 L61.9 74 L62.3 74.4 L62.6 74.8 L63 75.1 L63.4 75.4 L63.9 75.6 L64.4 75.9 L64.9 76.1 L65.4 76.3 L66 76.6 L66.6 76.9 L67.3 77.2 L67.9 77.5 L68.6 77.8 L69.3 78.2 L70 78.5 L70.7 78.8 L71.3 79.2 L72 79.5 L72.7 79.9 L73.3 80.2 L74 80.5 L74.7 80.7 L75.3 81 L76 81.1 L76.7 81.3 L77.3 81.5 L78 81.6 L78.6 81.7 L79 81.9 L79.5 82 L80 82.1 L80.8 82.1 L82 82.2 L83.7 82.2 L86 82.3 L88.5 82.3 L90.9 82.3 L93 82.3 L94.5 82.3 L94.5 82.4 L94.5 82.4 L21 82.4 Z" fill="#ecc797" stroke="none"/>
<path d="M21 82.4 L21 81.3 L22 81.3 L23.5 81.2 L25.2 81.1 L27 81.1 L28.6 81 L30 80.9 L31.1 80.8 L32 80.7 L32.8 80.6 L33.5 80.5 L34.2 80.4 L35 80.2 L35.9 80 L36.7 79.8 L37.6 79.6 L38.5 79.4 L39.3 79.1 L40 78.9 L40.6 78.7 L41.1 78.5 L41.6 78.3 L42.1 78 L42.5 77.7 L43 77.4 L43.5 77 L44 76.5 L44.5 76 L45 75.4 L45.5 74.9 L46 74.3 L46.5 73.7 L47 73 L47.5 72.4 L48 71.7 L48.5 71.1 L49 70.5 L49.4 70 L49.9 69.5 L50.3 69 L50.7 68.6 L51.1 68.2 L51.5 67.8 L51.9 67.4 L52.4 67 L52.8 66.7 L53.2 66.3 L53.6 66 L54 65.8 L54.3 65.6 L54.5 65.4 L54.8 65.3 L55 65.2 L55.2 65.2 L55.4 65.2 L55.7 65.3 L55.9 65.5 L56.2 65.7 L56.4 65.9 L56.7 66.2 L57 66.6 L57.3 67 L57.6 67.5 L58 68 L58.3 68.6 L58.7 69.2 L59 69.7 L59.3 70.2 L59.7 70.8 L60 71.3 L60.3 71.8 L60.7 72.3 L61 72.8 L61.3 73.2 L61.6 73.7 L61.9 74 L62.3 74.4 L62.6 74.8 L63 75.1 L63.4 75.4 L63.9 75.6 L64.4 75.9 L64.9 76.1 L65.4 76.3 L66 76.6 L66.6 76.9 L67.3 77.2 L67.9 77.5 L68.6 77.8 L69.3 78.2 L70 78.5 L70.7 78.8 L71.3 79.2 L72 79.5 L72.7 79.9 L73.3 80.2 L74 80.5 L74.7 80.7 L75.3 81 L76 81.1 L76.7 81.3 L77.3 81.5 L78 81.6 L78.6 81.7 L79 81.9 L79.5 82 L80 82.1 L80.8 82.1 L82 82.2 L83.7 82.2 L86 82.3 L88.5 82.3 L90.9 82.3 L93 82.3 L94.5 82.3 L94.5 82.4" fill="none" stroke="#e09a3a" stroke-width="1.1"/>
<path d="M21 99.4 L21 99.2 L22 99.2 L23.5 99.1 L25.2 99 L27 99 L28.6 98.9 L30 98.8 L31.1 98.7 L32 98.7 L32.8 98.6 L33.5 98.5 L34.2 98.4 L35 98.3 L35.9 98.2 L36.7 98 L37.6 97.9 L38.5 97.7 L39.3 97.5 L40 97.3 L40.6 97.1 L41.1 96.9 L41.6 96.6 L42.1 96.4 L42.5 96.1 L43 95.8 L43.5 95.5 L44 95.1 L44.5 94.8 L45 94.4 L45.5 94 L46 93.5 L46.4 93 L46.9 92.4 L47.3 91.8 L47.7 91.2 L48.1 90.6 L48.5 90 L48.9 89.4 L49.3 88.7 L49.8 88 L50.2 87.4 L50.6 86.8 L51 86.2 L51.4 85.7 L51.8 85.2 L52.2 84.8 L52.7 84.4 L53.1 84.1 L53.5 83.8 L53.9 83.6 L54.3 83.4 L54.8 83.3 L55.2 83.2 L55.6 83.2 L56 83.2 L56.4 83.3 L56.8 83.5 L57.2 83.7 L57.7 83.9 L58.1 84.2 L58.5 84.6 L58.9 85 L59.3 85.5 L59.8 86 L60.2 86.6 L60.6 87.2 L61 87.7 L61.4 88.2 L61.8 88.8 L62.2 89.3 L62.7 89.9 L63.1 90.4 L63.5 90.8 L63.9 91.2 L64.3 91.5 L64.7 91.8 L65.1 92.1 L65.6 92.3 L66 92.6 L66.5 92.9 L67 93.1 L67.5 93.4 L68 93.6 L68.5 93.9 L69 94.2 L69.5 94.5 L70 94.9 L70.5 95.2 L71 95.6 L71.5 95.9 L72 96.2 L72.5 96.5 L73 96.7 L73.5 96.9 L74 97.1 L74.5 97.3 L75 97.5 L75.5 97.7 L76 97.9 L76.5 98 L77 98.2 L77.5 98.4 L78 98.5 L78.4 98.6 L78.6 98.7 L78.8 98.9 L79.2 98.9 L79.9 99 L81 99.1 L82.8 99.2 L85.2 99.2 L87.9 99.2 L90.6 99.3 L92.9 99.3 L94.5 99.3 L94.5 99.4 L94.5 99.4 L21 99.4 Z" fill="#c2d0a8" stroke="none"/>
<path d="M21 99.4 L21 99.2 L22 99.2 L23.5 99.1 L25.2 99 L27 99 L28.6 98.9 L30 98.8 L31.1 98.7 L32 98.7 L32.8 98.6 L33.5 98.5 L34.2 98.4 L35 98.3 L35.9 98.2 L36.7 98 L37.6 97.9 L38.5 97.7 L39.3 97.5 L40 97.3 L40.6 97.1 L41.1 96.9 L41.6 96.6 L42.1 96.4 L42.5 96.1 L43 95.8 L43.5 95.5 L44 95.1 L44.5 94.8 L45 94.4 L45.5 94 L46 93.5 L46.4 93 L46.9 92.4 L47.3 91.8 L47.7 91.2 L48.1 90.6 L48.5 90 L48.9 89.4 L49.3 88.7 L49.8 88 L50.2 87.4 L50.6 86.8 L51 86.2 L51.4 85.7 L51.8 85.2 L52.2 84.8 L52.7 84.4 L53.1 84.1 L53.5 83.8 L53.9 83.6 L54.3 83.4 L54.8 83.3 L55.2 83.2 L55.6 83.2 L56 83.2 L56.4 83.3 L56.8 83.5 L57.2 83.7 L57.7 83.9 L58.1 84.2 L58.5 84.6 L58.9 85 L59.3 85.5 L59.8 86 L60.2 86.6 L60.6 87.2 L61 87.7 L61.4 88.2 L61.8 88.8 L62.2 89.3 L62.7 89.9 L63.1 90.4 L63.5 90.8 L63.9 91.2 L64.3 91.5 L64.7 91.8 L65.1 92.1 L65.6 92.3 L66 92.6 L66.5 92.9 L67 93.1 L67.5 93.4 L68 93.6 L68.5 93.9 L69 94.2 L69.5 94.5 L70 94.9 L70.5 95.2 L71 95.6 L71.5 95.9 L72 96.2 L72.5 96.5 L73 96.7 L73.5 96.9 L74 97.1 L74.5 97.3 L75 97.5 L75.5 97.7 L76 97.9 L76.5 98 L77 98.2 L77.5 98.4 L78 98.5 L78.4 98.6 L78.6 98.7 L78.8 98.9 L79.2 98.9 L79.9 99 L81 99.1 L82.8 99.2 L85.2 99.2 L87.9 99.2 L90.6 99.3 L92.9 99.3 L94.5 99.3 L94.5 99.4" fill="none" stroke="#6aaa55" stroke-width="1.1"/>
<path d="M21 99.8 L21 29.5 L94.5 29.5 L94.5 99.8" fill="none" stroke="#111" stroke-width="1.2"/>
<line x1="20.5" y1="99.9" x2="95" y2="99.9" stroke="#111" stroke-width="1.1"/>
<line x1="22" y1="101.4" x2="94" y2="101.4" stroke="#333" stroke-width="1.8" stroke-dasharray="0.6 1.3"/>
<text x="24.6" y="41.9" font-size="7.8" fill="#222" textLength="11.5" lengthAdjust="spacingAndGlyphs">PBS</text>
<text x="22.7" y="60.4" font-size="7" fill="#222" textLength="31.1" lengthAdjust="spacingAndGlyphs">0.1 µg/ml</text>
<text x="22.7" y="76.2" font-size="7" fill="#222" textLength="31.1" lengthAdjust="spacingAndGlyphs">0.3 µg/ml</text>
<text x="22.8" y="91.9" font-size="7" fill="#222" textLength="25.3" lengthAdjust="spacingAndGlyphs">1 µg/ml</text>
<text x="74.8" y="43.2" font-size="7" fill="#222" textLength="11.8" lengthAdjust="spacingAndGlyphs">273</text>
<text x="74.8" y="59" font-size="7" fill="#222" textLength="11.8" lengthAdjust="spacingAndGlyphs">421</text>
<text x="74.8" y="75.8" font-size="7" fill="#222" textLength="11.8" lengthAdjust="spacingAndGlyphs">607</text>
<text x="74.8" y="91.5" font-size="7" fill="#222" textLength="11.8" lengthAdjust="spacingAndGlyphs">697</text>
<text x="26.2" y="113.4" font-size="7.5" fill="#222">0</text>
<text x="36.1" y="113.4" font-size="7.5" fill="#222">10<tspan font-size="5" dy="-3.6">2</tspan></text>
<text x="58.6" y="113.4" font-size="7.5" fill="#222">10<tspan font-size="5" dy="-3.6">3</tspan></text>
<text x="80.4" y="113.4" font-size="7.5" fill="#222">10<tspan font-size="5" dy="-3.6">4</tspan></text>
<rect x="0" y="0" width="520" height="1.1" fill="#111"/>
<rect x="0" y="0" width="1.5" height="419" fill="#555"/>
<rect x="518.8" y="0" width="1.2" height="419" fill="#111"/>
<rect x="0" y="416.9" width="520" height="2.1" fill="#3a3a3a"/>
</svg></body></html>
